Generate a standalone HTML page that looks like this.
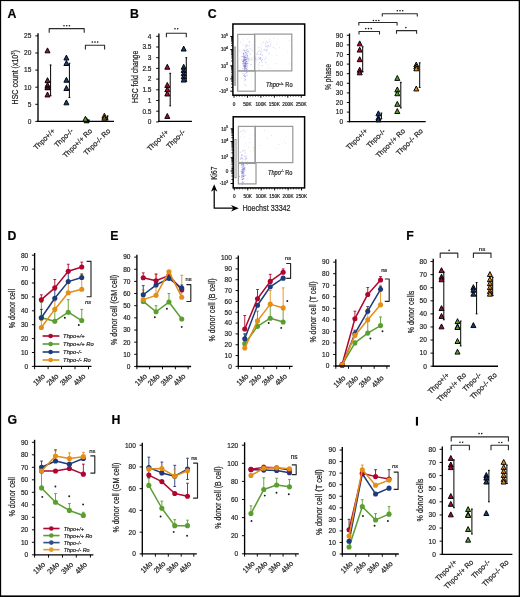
<!DOCTYPE html>
<html><head><meta charset="utf-8"><style>
html,body{margin:0;padding:0;background:#fff;}
svg{display:block;will-change:transform;}
text{font-family:"Liberation Sans",sans-serif;stroke:#1e1e1e;stroke-width:0.22px;}
</style></head><body>
<svg width="520" height="597" viewBox="0 0 520 597">
<rect width="520" height="597" fill="#fff"/>
<rect x="0" y="0" width="520" height="1.1" fill="#000"/>
<rect x="0" y="0" width="1.15" height="597" fill="#000"/>
<rect x="518.7" y="0" width="1.3" height="597" fill="#000"/>
<rect x="0" y="595.4" width="520" height="1.6" fill="#000"/>
<text x="7.4" y="17.7" font-size="12.3" text-anchor="start" fill="#000" font-weight="bold">A</text>
<line x1="38" y1="33.2" x2="38" y2="122.05" stroke="#000" stroke-width="1.35"/>
<line x1="35.3" y1="121.4" x2="38" y2="121.4" stroke="#000" stroke-width="0.95"/>
<text x="31.4" y="123.75" font-size="8" text-anchor="end" fill="#1e1e1e" textLength="3.65" lengthAdjust="spacingAndGlyphs" stroke-width="0.1">0</text>
<line x1="35.3" y1="104.3" x2="38" y2="104.3" stroke="#000" stroke-width="0.95"/>
<text x="31.4" y="106.65" font-size="8" text-anchor="end" fill="#1e1e1e" textLength="3.65" lengthAdjust="spacingAndGlyphs" stroke-width="0.1">5</text>
<line x1="35.3" y1="87.2" x2="38" y2="87.2" stroke="#000" stroke-width="0.95"/>
<text x="31.4" y="89.55" font-size="8" text-anchor="end" fill="#1e1e1e" textLength="7.29" lengthAdjust="spacingAndGlyphs" stroke-width="0.1">10</text>
<line x1="35.3" y1="70.1" x2="38" y2="70.1" stroke="#000" stroke-width="0.95"/>
<text x="31.4" y="72.45" font-size="8" text-anchor="end" fill="#1e1e1e" textLength="7.29" lengthAdjust="spacingAndGlyphs" stroke-width="0.1">15</text>
<line x1="35.3" y1="53" x2="38" y2="53" stroke="#000" stroke-width="0.95"/>
<text x="31.4" y="55.35" font-size="8" text-anchor="end" fill="#1e1e1e" textLength="7.29" lengthAdjust="spacingAndGlyphs" stroke-width="0.1">20</text>
<line x1="35.3" y1="35.9" x2="38" y2="35.9" stroke="#000" stroke-width="0.95"/>
<text x="31.4" y="38.25" font-size="8" text-anchor="end" fill="#1e1e1e" textLength="7.29" lengthAdjust="spacingAndGlyphs" stroke-width="0.1">25</text>
<line x1="37.35" y1="121.4" x2="114" y2="121.4" stroke="#000" stroke-width="1.35"/>
<text x="17.8" y="77.3" font-size="8.8" text-anchor="middle" fill="#1e1e1e" textLength="54.2" lengthAdjust="spacingAndGlyphs" transform="rotate(-90 17.8 77.3)">HSC count (x10<tspan font-size="5" dy="-2.8">3</tspan><tspan dy="2.8">)</tspan></text>
<polyline points="49.2,32.8 49.2,28.6 84.2,28.6 84.2,32.8" stroke="#2a2a2a" stroke-width="1.1" fill="none" stroke-linejoin="round"/>
<circle cx="64" cy="25.7" r="0.8" fill="#111"/>
<circle cx="66.7" cy="25.7" r="0.8" fill="#111"/>
<circle cx="69.4" cy="25.7" r="0.8" fill="#111"/>
<polyline points="85.4,49.6 85.4,45.3 104.6,45.3 104.6,49.6" stroke="#2a2a2a" stroke-width="1.1" fill="none" stroke-linejoin="round"/>
<circle cx="92.3" cy="42.1" r="0.8" fill="#111"/>
<circle cx="95" cy="42.1" r="0.8" fill="#111"/>
<circle cx="97.7" cy="42.1" r="0.8" fill="#111"/>
<line x1="50.6" y1="64.97" x2="50.6" y2="95.75" stroke="#000" stroke-width="1"/>
<line x1="49.7" y1="64.97" x2="51.5" y2="64.97" stroke="#000" stroke-width="1"/>
<line x1="49.7" y1="95.75" x2="51.5" y2="95.75" stroke="#000" stroke-width="1"/>
<line x1="69.4" y1="63.26" x2="69.4" y2="97.46" stroke="#000" stroke-width="1"/>
<line x1="68.5" y1="63.26" x2="70.3" y2="63.26" stroke="#000" stroke-width="1"/>
<line x1="68.5" y1="97.46" x2="70.3" y2="97.46" stroke="#000" stroke-width="1"/>
<polygon points="47.5,47.9 50,52.85 45,52.85" fill="#af0630" stroke="#000" stroke-width="0.95" stroke-linejoin="miter"/>
<polygon points="47.5,77.65 50,82.6 45,82.6" fill="#af0630" stroke="#000" stroke-width="0.95" stroke-linejoin="miter"/>
<polygon points="47.5,84.83 50,89.78 45,89.78" fill="#af0630" stroke="#000" stroke-width="0.95" stroke-linejoin="miter"/>
<polygon points="47.5,84.15 50,89.1 45,89.1" fill="#af0630" stroke="#000" stroke-width="0.95" stroke-linejoin="miter"/>
<polygon points="47.5,82.44 50,87.39 45,87.39" fill="#af0630" stroke="#000" stroke-width="0.95" stroke-linejoin="miter"/>
<polygon points="47.5,92.02 50,96.97 45,96.97" fill="#af0630" stroke="#000" stroke-width="0.95" stroke-linejoin="miter"/>
<rect x="45.2" y="85.6" width="5.4" height="2.6" fill="#111"/>
<polygon points="66.4,55.08 68.9,60.03 63.9,60.03" fill="#1d3b7b" stroke="#000" stroke-width="0.95" stroke-linejoin="miter"/>
<polygon points="66.4,60.55 68.9,65.5 63.9,65.5" fill="#1d3b7b" stroke="#000" stroke-width="0.95" stroke-linejoin="miter"/>
<polygon points="66.4,77.31 68.9,82.26 63.9,82.26" fill="#1d3b7b" stroke="#000" stroke-width="0.95" stroke-linejoin="miter"/>
<polygon points="66.4,85.52 68.9,90.47 63.9,90.47" fill="#1d3b7b" stroke="#000" stroke-width="0.95" stroke-linejoin="miter"/>
<polygon points="66.4,99.88 68.9,104.83 63.9,104.83" fill="#1d3b7b" stroke="#000" stroke-width="0.95" stroke-linejoin="miter"/>
<polygon points="86.6,117.84 89.1,122.79 84.1,122.79" fill="#222" stroke="#000" stroke-width="0.95" stroke-linejoin="miter"/>
<polygon points="85.4,116.3 87.9,121.25 82.9,121.25" fill="#5a9e2f" stroke="#000" stroke-width="0.95" stroke-linejoin="miter"/>
<circle cx="88.8" cy="120.37" r="1" fill="#000"/>
<line x1="107.6" y1="115.93" x2="107.6" y2="120.03" stroke="#000" stroke-width="1"/>
<line x1="106.7" y1="115.93" x2="108.5" y2="115.93" stroke="#000" stroke-width="1"/>
<line x1="106.7" y1="120.03" x2="108.5" y2="120.03" stroke="#000" stroke-width="1"/>
<polygon points="104.4,113.22 106.9,118.17 101.9,118.17" fill="#e38e17" stroke="#000" stroke-width="0.95" stroke-linejoin="miter"/>
<polygon points="104.4,115.27 106.9,120.22 101.9,120.22" fill="#8a5a10" stroke="#000" stroke-width="0.95" stroke-linejoin="miter"/>
<text x="55.4" y="131.4" font-size="7.2" text-anchor="end" fill="#1e1e1e" transform="rotate(-45 55.4 131.4)">Thpo+/+</text>
<text x="73.6" y="131.4" font-size="7.2" text-anchor="end" fill="#1e1e1e" transform="rotate(-45 73.6 131.4)">Thpo-/-</text>
<text x="92.6" y="131.4" font-size="7.2" text-anchor="end" fill="#1e1e1e" transform="rotate(-45 92.6 131.4)">Thpo+/+ Ro</text>
<text x="110.8" y="131.4" font-size="7.2" text-anchor="end" fill="#1e1e1e" transform="rotate(-45 110.8 131.4)">Thpo-/- Ro</text>
<text x="130" y="17.7" font-size="12.3" text-anchor="start" fill="#000" font-weight="bold">B</text>
<line x1="158.9" y1="33.5" x2="158.9" y2="122.05" stroke="#000" stroke-width="1.35"/>
<line x1="156.2" y1="121.9" x2="158.9" y2="121.9" stroke="#000" stroke-width="0.95"/>
<text x="151.5" y="124.25" font-size="8" text-anchor="end" fill="#1e1e1e" textLength="3.65" lengthAdjust="spacingAndGlyphs" stroke-width="0.1">0</text>
<line x1="156.2" y1="111.2" x2="158.9" y2="111.2" stroke="#000" stroke-width="0.95"/>
<text x="151.5" y="113.55" font-size="8" text-anchor="end" fill="#1e1e1e" textLength="9.12" lengthAdjust="spacingAndGlyphs" stroke-width="0.1">0.5</text>
<line x1="156.2" y1="100.5" x2="158.9" y2="100.5" stroke="#000" stroke-width="0.95"/>
<text x="151.5" y="102.85" font-size="8" text-anchor="end" fill="#1e1e1e" textLength="3.65" lengthAdjust="spacingAndGlyphs" stroke-width="0.1">1</text>
<line x1="156.2" y1="89.8" x2="158.9" y2="89.8" stroke="#000" stroke-width="0.95"/>
<text x="151.5" y="92.15" font-size="8" text-anchor="end" fill="#1e1e1e" textLength="9.12" lengthAdjust="spacingAndGlyphs" stroke-width="0.1">1.5</text>
<line x1="156.2" y1="79.1" x2="158.9" y2="79.1" stroke="#000" stroke-width="0.95"/>
<text x="151.5" y="81.45" font-size="8" text-anchor="end" fill="#1e1e1e" textLength="3.65" lengthAdjust="spacingAndGlyphs" stroke-width="0.1">2</text>
<line x1="156.2" y1="68.4" x2="158.9" y2="68.4" stroke="#000" stroke-width="0.95"/>
<text x="151.5" y="70.75" font-size="8" text-anchor="end" fill="#1e1e1e" textLength="9.12" lengthAdjust="spacingAndGlyphs" stroke-width="0.1">2.5</text>
<line x1="156.2" y1="57.7" x2="158.9" y2="57.7" stroke="#000" stroke-width="0.95"/>
<text x="151.5" y="60.05" font-size="8" text-anchor="end" fill="#1e1e1e" textLength="3.65" lengthAdjust="spacingAndGlyphs" stroke-width="0.1">3</text>
<line x1="156.2" y1="47" x2="158.9" y2="47" stroke="#000" stroke-width="0.95"/>
<text x="151.5" y="49.35" font-size="8" text-anchor="end" fill="#1e1e1e" textLength="9.12" lengthAdjust="spacingAndGlyphs" stroke-width="0.1">3.5</text>
<line x1="156.2" y1="36.3" x2="158.9" y2="36.3" stroke="#000" stroke-width="0.95"/>
<text x="151.5" y="38.65" font-size="8" text-anchor="end" fill="#1e1e1e" textLength="3.65" lengthAdjust="spacingAndGlyphs" stroke-width="0.1">4</text>
<line x1="158.25" y1="121.4" x2="191.9" y2="121.4" stroke="#000" stroke-width="1.35"/>
<text x="138.2" y="76.8" font-size="8.8" text-anchor="middle" fill="#1e1e1e" textLength="52.2" lengthAdjust="spacingAndGlyphs" transform="rotate(-90 138.2 76.8)">HSC fold change</text>
<polyline points="166.4,37.2 166.4,33.2 186.3,33.2 186.3,37.2" stroke="#2a2a2a" stroke-width="1.1" fill="none" stroke-linejoin="round"/>
<circle cx="175" cy="28.8" r="0.8" fill="#111"/>
<circle cx="177.7" cy="28.8" r="0.8" fill="#111"/>
<line x1="170.2" y1="73.32" x2="170.2" y2="105.85" stroke="#000" stroke-width="1"/>
<line x1="169.3" y1="73.32" x2="171.1" y2="73.32" stroke="#000" stroke-width="1"/>
<line x1="169.3" y1="105.85" x2="171.1" y2="105.85" stroke="#000" stroke-width="1"/>
<line x1="186.3" y1="57.7" x2="186.3" y2="81.24" stroke="#000" stroke-width="1"/>
<line x1="185.4" y1="57.7" x2="187.2" y2="57.7" stroke="#000" stroke-width="1"/>
<line x1="185.4" y1="81.24" x2="187.2" y2="81.24" stroke="#000" stroke-width="1"/>
<polygon points="167.3,64.28 169.8,69.23 164.8,69.23" fill="#af0630" stroke="#000" stroke-width="0.95" stroke-linejoin="miter"/>
<polygon points="167.3,82.47 169.8,87.42 164.8,87.42" fill="#af0630" stroke="#000" stroke-width="0.95" stroke-linejoin="miter"/>
<polygon points="167.3,86.75 169.8,91.7 164.8,91.7" fill="#af0630" stroke="#000" stroke-width="0.95" stroke-linejoin="miter"/>
<polygon points="167.3,91.03 169.8,95.98 164.8,95.98" fill="#af0630" stroke="#000" stroke-width="0.95" stroke-linejoin="miter"/>
<polygon points="167.3,113.5 169.8,118.45 164.8,118.45" fill="#af0630" stroke="#000" stroke-width="0.95" stroke-linejoin="miter"/>
<polygon points="183.7,46.09 186.2,51.04 181.2,51.04" fill="#1d3b7b" stroke="#000" stroke-width="0.95" stroke-linejoin="miter"/>
<polygon points="183.7,64.28 186.2,69.23 181.2,69.23" fill="#1d3b7b" stroke="#000" stroke-width="0.95" stroke-linejoin="miter"/>
<polygon points="183.7,67.49 186.2,72.44 181.2,72.44" fill="#1d3b7b" stroke="#000" stroke-width="0.95" stroke-linejoin="miter"/>
<polygon points="183.7,70.7 186.2,75.65 181.2,75.65" fill="#1d3b7b" stroke="#000" stroke-width="0.95" stroke-linejoin="miter"/>
<polygon points="183.7,73.91 186.2,78.86 181.2,78.86" fill="#1d3b7b" stroke="#000" stroke-width="0.95" stroke-linejoin="miter"/>
<polygon points="183.7,77.12 186.2,82.07 181.2,82.07" fill="#1d3b7b" stroke="#000" stroke-width="0.95" stroke-linejoin="miter"/>
<text x="168.9" y="132.5" font-size="7.2" text-anchor="end" fill="#1e1e1e" transform="rotate(-45 168.9 132.5)">Thpo+/+</text>
<text x="185.6" y="132.5" font-size="7.2" text-anchor="end" fill="#1e1e1e" transform="rotate(-45 185.6 132.5)">Thpo-/-</text>
<text x="207.8" y="17.9" font-size="12.3" text-anchor="start" fill="#000" font-weight="bold">C</text>
<rect x="244.93" y="68.5" width="0.8" height="0.8" fill="#6a6ad8" fill-opacity="0.5"/>
<rect x="243.24" y="57.57" width="0.8" height="0.8" fill="#6a6ad8" fill-opacity="0.34"/>
<rect x="247.46" y="62.82" width="0.8" height="0.8" fill="#6a6ad8" fill-opacity="0.44"/>
<rect x="245.25" y="79.06" width="0.8" height="0.8" fill="#6a6ad8" fill-opacity="0.56"/>
<rect x="245.62" y="56.94" width="0.8" height="0.8" fill="#6a6ad8" fill-opacity="0.65"/>
<rect x="245.96" y="67.99" width="0.8" height="0.8" fill="#6a6ad8" fill-opacity="0.78"/>
<rect x="242.52" y="60.76" width="0.8" height="0.8" fill="#6a6ad8" fill-opacity="0.67"/>
<rect x="246.97" y="65.43" width="0.8" height="0.8" fill="#6a6ad8" fill-opacity="0.63"/>
<rect x="244.69" y="63.24" width="0.8" height="0.8" fill="#6a6ad8" fill-opacity="0.78"/>
<rect x="242.6" y="63.41" width="0.8" height="0.8" fill="#6a6ad8" fill-opacity="0.78"/>
<rect x="244.09" y="50.58" width="0.8" height="0.8" fill="#6a6ad8" fill-opacity="0.52"/>
<rect x="245.28" y="56.65" width="0.8" height="0.8" fill="#6a6ad8" fill-opacity="0.81"/>
<rect x="245.26" y="60.38" width="0.8" height="0.8" fill="#6a6ad8" fill-opacity="0.37"/>
<rect x="245.55" y="75.2" width="0.8" height="0.8" fill="#6a6ad8" fill-opacity="0.54"/>
<rect x="243.97" y="58.86" width="0.8" height="0.8" fill="#6a6ad8" fill-opacity="0.58"/>
<rect x="243.82" y="65.18" width="0.8" height="0.8" fill="#6a6ad8" fill-opacity="0.62"/>
<rect x="242.18" y="56.31" width="0.8" height="0.8" fill="#6a6ad8" fill-opacity="0.68"/>
<rect x="247.29" y="57.58" width="0.8" height="0.8" fill="#6a6ad8" fill-opacity="0.85"/>
<rect x="244.4" y="59.27" width="0.8" height="0.8" fill="#6a6ad8" fill-opacity="0.77"/>
<rect x="247.76" y="59.52" width="0.8" height="0.8" fill="#6a6ad8" fill-opacity="0.61"/>
<rect x="244.58" y="58.51" width="0.8" height="0.8" fill="#6a6ad8" fill-opacity="0.76"/>
<rect x="243.77" y="60.1" width="0.8" height="0.8" fill="#6a6ad8" fill-opacity="0.33"/>
<rect x="247.38" y="49.49" width="0.8" height="0.8" fill="#6a6ad8" fill-opacity="0.35"/>
<rect x="245.25" y="56.92" width="0.8" height="0.8" fill="#6a6ad8" fill-opacity="0.38"/>
<rect x="244.15" y="70.56" width="0.8" height="0.8" fill="#6a6ad8" fill-opacity="0.78"/>
<rect x="246.66" y="63.97" width="0.8" height="0.8" fill="#6a6ad8" fill-opacity="0.32"/>
<rect x="244.55" y="57.43" width="0.8" height="0.8" fill="#6a6ad8" fill-opacity="0.78"/>
<rect x="246.45" y="61.25" width="0.8" height="0.8" fill="#6a6ad8" fill-opacity="0.85"/>
<rect x="244.59" y="63.94" width="0.8" height="0.8" fill="#6a6ad8" fill-opacity="0.63"/>
<rect x="245.71" y="62.68" width="0.8" height="0.8" fill="#6a6ad8" fill-opacity="0.52"/>
<rect x="244.17" y="60.06" width="0.8" height="0.8" fill="#6a6ad8" fill-opacity="0.32"/>
<rect x="245.62" y="58.67" width="0.8" height="0.8" fill="#6a6ad8" fill-opacity="0.83"/>
<rect x="245.89" y="58.94" width="0.8" height="0.8" fill="#6a6ad8" fill-opacity="0.55"/>
<rect x="242.8" y="61.06" width="0.8" height="0.8" fill="#6a6ad8" fill-opacity="0.63"/>
<rect x="242.99" y="59.37" width="0.8" height="0.8" fill="#6a6ad8" fill-opacity="0.82"/>
<rect x="243.31" y="61.76" width="0.8" height="0.8" fill="#6a6ad8" fill-opacity="0.7"/>
<rect x="244.89" y="66.39" width="0.8" height="0.8" fill="#6a6ad8" fill-opacity="0.84"/>
<rect x="243.05" y="61.13" width="0.8" height="0.8" fill="#6a6ad8" fill-opacity="0.31"/>
<rect x="243.21" y="65.48" width="0.8" height="0.8" fill="#6a6ad8" fill-opacity="0.31"/>
<rect x="243.32" y="57.11" width="0.8" height="0.8" fill="#6a6ad8" fill-opacity="0.33"/>
<rect x="243.71" y="57.82" width="0.8" height="0.8" fill="#6a6ad8" fill-opacity="0.67"/>
<rect x="243.48" y="68.51" width="0.8" height="0.8" fill="#6a6ad8" fill-opacity="0.71"/>
<rect x="245.29" y="62.26" width="0.8" height="0.8" fill="#6a6ad8" fill-opacity="0.67"/>
<rect x="245.84" y="61.1" width="0.8" height="0.8" fill="#6a6ad8" fill-opacity="0.55"/>
<rect x="243.77" y="59.49" width="0.8" height="0.8" fill="#6a6ad8" fill-opacity="0.5"/>
<rect x="244.28" y="66.61" width="0.8" height="0.8" fill="#6a6ad8" fill-opacity="0.63"/>
<rect x="244.38" y="66.81" width="0.8" height="0.8" fill="#6a6ad8" fill-opacity="0.72"/>
<rect x="246.59" y="63.14" width="0.8" height="0.8" fill="#6a6ad8" fill-opacity="0.7"/>
<rect x="244.43" y="65.43" width="0.8" height="0.8" fill="#6a6ad8" fill-opacity="0.74"/>
<rect x="244.86" y="65.34" width="0.8" height="0.8" fill="#6a6ad8" fill-opacity="0.54"/>
<rect x="244.59" y="59.72" width="0.8" height="0.8" fill="#6a6ad8" fill-opacity="0.48"/>
<rect x="243.47" y="70.51" width="0.8" height="0.8" fill="#6a6ad8" fill-opacity="0.54"/>
<rect x="245.32" y="59.5" width="0.8" height="0.8" fill="#6a6ad8" fill-opacity="0.49"/>
<rect x="243.09" y="53.24" width="0.8" height="0.8" fill="#6a6ad8" fill-opacity="0.55"/>
<rect x="244.91" y="64.61" width="0.8" height="0.8" fill="#6a6ad8" fill-opacity="0.59"/>
<rect x="245.72" y="70.78" width="0.8" height="0.8" fill="#6a6ad8" fill-opacity="0.76"/>
<rect x="245.26" y="65.84" width="0.8" height="0.8" fill="#6a6ad8" fill-opacity="0.74"/>
<rect x="243.21" y="54.67" width="0.8" height="0.8" fill="#6a6ad8" fill-opacity="0.49"/>
<rect x="245.6" y="65.14" width="0.8" height="0.8" fill="#6a6ad8" fill-opacity="0.74"/>
<rect x="244.63" y="66.75" width="0.8" height="0.8" fill="#6a6ad8" fill-opacity="0.53"/>
<rect x="243.54" y="64.58" width="0.8" height="0.8" fill="#6a6ad8" fill-opacity="0.81"/>
<rect x="244.88" y="62.42" width="0.8" height="0.8" fill="#6a6ad8" fill-opacity="0.82"/>
<rect x="247.81" y="51.52" width="0.8" height="0.8" fill="#6a6ad8" fill-opacity="0.54"/>
<rect x="247.85" y="58.33" width="0.8" height="0.8" fill="#6a6ad8" fill-opacity="0.42"/>
<rect x="244.73" y="52.1" width="0.8" height="0.8" fill="#6a6ad8" fill-opacity="0.66"/>
<rect x="243.65" y="61.49" width="0.8" height="0.8" fill="#6a6ad8" fill-opacity="0.49"/>
<rect x="244.87" y="63.93" width="0.8" height="0.8" fill="#6a6ad8" fill-opacity="0.62"/>
<rect x="244.21" y="71.22" width="0.8" height="0.8" fill="#6a6ad8" fill-opacity="0.32"/>
<rect x="246.57" y="57.45" width="0.8" height="0.8" fill="#6a6ad8" fill-opacity="0.81"/>
<rect x="247.19" y="55.25" width="0.8" height="0.8" fill="#6a6ad8" fill-opacity="0.62"/>
<rect x="247.11" y="62.71" width="0.8" height="0.8" fill="#6a6ad8" fill-opacity="0.39"/>
<rect x="244.16" y="69.29" width="0.8" height="0.8" fill="#6a6ad8" fill-opacity="0.59"/>
<rect x="241.96" y="68.34" width="0.8" height="0.8" fill="#6a6ad8" fill-opacity="0.64"/>
<rect x="244.22" y="65.33" width="0.8" height="0.8" fill="#6a6ad8" fill-opacity="0.77"/>
<rect x="242.38" y="63.3" width="0.8" height="0.8" fill="#6a6ad8" fill-opacity="0.49"/>
<rect x="245.36" y="68.08" width="0.8" height="0.8" fill="#6a6ad8" fill-opacity="0.75"/>
<rect x="245.98" y="70.11" width="0.8" height="0.8" fill="#6a6ad8" fill-opacity="0.81"/>
<rect x="245.7" y="52.91" width="0.8" height="0.8" fill="#6a6ad8" fill-opacity="0.3"/>
<rect x="242.87" y="54.51" width="0.8" height="0.8" fill="#6a6ad8" fill-opacity="0.33"/>
<rect x="244.65" y="66.08" width="0.8" height="0.8" fill="#6a6ad8" fill-opacity="0.59"/>
<rect x="243.4" y="64.74" width="0.8" height="0.8" fill="#6a6ad8" fill-opacity="0.73"/>
<rect x="245.27" y="62.02" width="0.8" height="0.8" fill="#6a6ad8" fill-opacity="0.37"/>
<rect x="245.17" y="63.38" width="0.8" height="0.8" fill="#6a6ad8" fill-opacity="0.84"/>
<rect x="245.16" y="60.25" width="0.8" height="0.8" fill="#6a6ad8" fill-opacity="0.58"/>
<rect x="244.31" y="66.14" width="0.8" height="0.8" fill="#6a6ad8" fill-opacity="0.49"/>
<rect x="243.68" y="56.49" width="0.8" height="0.8" fill="#6a6ad8" fill-opacity="0.5"/>
<rect x="245.25" y="66.33" width="0.8" height="0.8" fill="#6a6ad8" fill-opacity="0.37"/>
<rect x="242.71" y="59.18" width="0.8" height="0.8" fill="#6a6ad8" fill-opacity="0.51"/>
<rect x="245.57" y="63.57" width="0.8" height="0.8" fill="#6a6ad8" fill-opacity="0.51"/>
<rect x="242.86" y="56.46" width="0.8" height="0.8" fill="#6a6ad8" fill-opacity="0.51"/>
<rect x="245.42" y="55.11" width="0.8" height="0.8" fill="#6a6ad8" fill-opacity="0.54"/>
<rect x="243.66" y="66.37" width="0.8" height="0.8" fill="#6a6ad8" fill-opacity="0.69"/>
<rect x="242.91" y="65.83" width="0.8" height="0.8" fill="#6a6ad8" fill-opacity="0.55"/>
<rect x="244.85" y="68.44" width="0.8" height="0.8" fill="#6a6ad8" fill-opacity="0.68"/>
<rect x="246.13" y="64.38" width="0.8" height="0.8" fill="#6a6ad8" fill-opacity="0.53"/>
<rect x="247.19" y="53.62" width="0.8" height="0.8" fill="#6a6ad8" fill-opacity="0.51"/>
<rect x="246.78" y="56.49" width="0.8" height="0.8" fill="#6a6ad8" fill-opacity="0.44"/>
<rect x="244.1" y="62.6" width="0.8" height="0.8" fill="#6a6ad8" fill-opacity="0.75"/>
<rect x="243.27" y="52.74" width="0.8" height="0.8" fill="#6a6ad8" fill-opacity="0.74"/>
<rect x="243.67" y="54.65" width="0.8" height="0.8" fill="#6a6ad8" fill-opacity="0.61"/>
<rect x="246.29" y="66.18" width="0.8" height="0.8" fill="#6a6ad8" fill-opacity="0.3"/>
<rect x="246.3" y="69.04" width="0.8" height="0.8" fill="#6a6ad8" fill-opacity="0.32"/>
<rect x="245.34" y="63.3" width="0.8" height="0.8" fill="#6a6ad8" fill-opacity="0.78"/>
<rect x="244.93" y="63.02" width="0.8" height="0.8" fill="#6a6ad8" fill-opacity="0.76"/>
<rect x="246.75" y="68.92" width="0.8" height="0.8" fill="#6a6ad8" fill-opacity="0.67"/>
<rect x="246.58" y="51" width="0.8" height="0.8" fill="#6a6ad8" fill-opacity="0.62"/>
<rect x="244.91" y="60.65" width="0.8" height="0.8" fill="#6a6ad8" fill-opacity="0.72"/>
<rect x="242.59" y="61.41" width="0.8" height="0.8" fill="#6a6ad8" fill-opacity="0.36"/>
<rect x="244.78" y="49.86" width="0.8" height="0.8" fill="#6a6ad8" fill-opacity="0.33"/>
<rect x="243.99" y="67.98" width="0.8" height="0.8" fill="#6a6ad8" fill-opacity="0.76"/>
<rect x="244.84" y="65.27" width="0.8" height="0.8" fill="#6a6ad8" fill-opacity="0.44"/>
<rect x="243.05" y="56.2" width="0.8" height="0.8" fill="#6a6ad8" fill-opacity="0.52"/>
<rect x="243.85" y="65.87" width="0.8" height="0.8" fill="#6a6ad8" fill-opacity="0.49"/>
<rect x="244.29" y="63.07" width="0.8" height="0.8" fill="#6a6ad8" fill-opacity="0.58"/>
<rect x="246.22" y="61.1" width="0.8" height="0.8" fill="#6a6ad8" fill-opacity="0.71"/>
<rect x="245.94" y="68.74" width="0.8" height="0.8" fill="#6a6ad8" fill-opacity="0.72"/>
<rect x="244.02" y="56.43" width="0.8" height="0.8" fill="#6a6ad8" fill-opacity="0.57"/>
<rect x="242.94" y="53.32" width="0.8" height="0.8" fill="#6a6ad8" fill-opacity="0.38"/>
<rect x="246.72" y="66.89" width="0.8" height="0.8" fill="#6a6ad8" fill-opacity="0.8"/>
<rect x="243.29" y="61.39" width="0.8" height="0.8" fill="#6a6ad8" fill-opacity="0.7"/>
<rect x="245.23" y="65.78" width="0.8" height="0.8" fill="#6a6ad8" fill-opacity="0.41"/>
<rect x="243.75" y="59.68" width="0.8" height="0.8" fill="#6a6ad8" fill-opacity="0.43"/>
<rect x="243.55" y="49.99" width="0.8" height="0.8" fill="#6a6ad8" fill-opacity="0.46"/>
<rect x="244.4" y="56.84" width="0.8" height="0.8" fill="#6a6ad8" fill-opacity="0.77"/>
<rect x="243.85" y="59.92" width="0.8" height="0.8" fill="#6a6ad8" fill-opacity="0.42"/>
<rect x="246.38" y="62.86" width="0.8" height="0.8" fill="#6a6ad8" fill-opacity="0.51"/>
<rect x="245.42" y="66.34" width="0.8" height="0.8" fill="#6a6ad8" fill-opacity="0.48"/>
<rect x="244.92" y="59.14" width="0.8" height="0.8" fill="#6a6ad8" fill-opacity="0.85"/>
<rect x="242.92" y="62.9" width="0.8" height="0.8" fill="#6a6ad8" fill-opacity="0.56"/>
<rect x="246.12" y="53.68" width="0.8" height="0.8" fill="#6a6ad8" fill-opacity="0.61"/>
<rect x="241.11" y="56.22" width="0.8" height="0.8" fill="#6a6ad8" fill-opacity="0.45"/>
<rect x="242.02" y="61.2" width="0.8" height="0.8" fill="#6a6ad8" fill-opacity="0.48"/>
<rect x="244.1" y="55.96" width="0.8" height="0.8" fill="#6a6ad8" fill-opacity="0.21"/>
<rect x="245.47" y="45.45" width="0.8" height="0.8" fill="#6a6ad8" fill-opacity="0.48"/>
<rect x="248.04" y="51.16" width="0.8" height="0.8" fill="#6a6ad8" fill-opacity="0.19"/>
<rect x="246.38" y="59.18" width="0.8" height="0.8" fill="#6a6ad8" fill-opacity="0.39"/>
<rect x="251.1" y="44.18" width="0.8" height="0.8" fill="#6a6ad8" fill-opacity="0.22"/>
<rect x="248.45" y="50.77" width="0.8" height="0.8" fill="#6a6ad8" fill-opacity="0.28"/>
<rect x="246.31" y="52.27" width="0.8" height="0.8" fill="#6a6ad8" fill-opacity="0.16"/>
<rect x="247.92" y="50.33" width="0.8" height="0.8" fill="#6a6ad8" fill-opacity="0.26"/>
<rect x="242.03" y="50.29" width="0.8" height="0.8" fill="#6a6ad8" fill-opacity="0.12"/>
<rect x="244.65" y="60.99" width="0.8" height="0.8" fill="#6a6ad8" fill-opacity="0.3"/>
<rect x="247.62" y="63.35" width="0.8" height="0.8" fill="#6a6ad8" fill-opacity="0.48"/>
<rect x="243.2" y="60.16" width="0.8" height="0.8" fill="#6a6ad8" fill-opacity="0.17"/>
<rect x="245.72" y="64.5" width="0.8" height="0.8" fill="#6a6ad8" fill-opacity="0.16"/>
<rect x="252.15" y="45.74" width="0.8" height="0.8" fill="#6a6ad8" fill-opacity="0.16"/>
<rect x="249.57" y="52.73" width="0.8" height="0.8" fill="#6a6ad8" fill-opacity="0.41"/>
<rect x="246.63" y="49.57" width="0.8" height="0.8" fill="#6a6ad8" fill-opacity="0.38"/>
<rect x="243.01" y="45.3" width="0.8" height="0.8" fill="#6a6ad8" fill-opacity="0.22"/>
<rect x="246.73" y="38.43" width="0.8" height="0.8" fill="#6a6ad8" fill-opacity="0.38"/>
<rect x="244.88" y="54.28" width="0.8" height="0.8" fill="#6a6ad8" fill-opacity="0.31"/>
<rect x="243.26" y="63.29" width="0.8" height="0.8" fill="#6a6ad8" fill-opacity="0.38"/>
<rect x="244.53" y="53.33" width="0.8" height="0.8" fill="#6a6ad8" fill-opacity="0.37"/>
<rect x="245.05" y="52.01" width="0.8" height="0.8" fill="#6a6ad8" fill-opacity="0.46"/>
<rect x="245.52" y="52.24" width="0.8" height="0.8" fill="#6a6ad8" fill-opacity="0.47"/>
<rect x="248.42" y="59.53" width="0.8" height="0.8" fill="#6a6ad8" fill-opacity="0.39"/>
<rect x="242.96" y="50.25" width="0.8" height="0.8" fill="#6a6ad8" fill-opacity="0.37"/>
<rect x="243.66" y="56.48" width="0.8" height="0.8" fill="#6a6ad8" fill-opacity="0.19"/>
<rect x="251.4" y="59.31" width="0.8" height="0.8" fill="#6a6ad8" fill-opacity="0.41"/>
<rect x="241.13" y="52.15" width="0.8" height="0.8" fill="#6a6ad8" fill-opacity="0.26"/>
<rect x="246.17" y="61.36" width="0.8" height="0.8" fill="#6a6ad8" fill-opacity="0.45"/>
<rect x="250.39" y="57.02" width="0.8" height="0.8" fill="#6a6ad8" fill-opacity="0.21"/>
<rect x="246.88" y="48.97" width="0.8" height="0.8" fill="#6a6ad8" fill-opacity="0.25"/>
<rect x="243.01" y="59.63" width="0.8" height="0.8" fill="#6a6ad8" fill-opacity="0.41"/>
<rect x="242.53" y="65.05" width="0.8" height="0.8" fill="#6a6ad8" fill-opacity="0.16"/>
<rect x="246.3" y="57.95" width="0.8" height="0.8" fill="#6a6ad8" fill-opacity="0.16"/>
<rect x="247.49" y="44.69" width="0.8" height="0.8" fill="#6a6ad8" fill-opacity="0.19"/>
<rect x="247.82" y="61.26" width="0.8" height="0.8" fill="#6a6ad8" fill-opacity="0.4"/>
<rect x="248.77" y="45.11" width="0.8" height="0.8" fill="#6a6ad8" fill-opacity="0.34"/>
<rect x="248.58" y="60.21" width="0.8" height="0.8" fill="#6a6ad8" fill-opacity="0.19"/>
<rect x="242.16" y="53.55" width="0.8" height="0.8" fill="#6a6ad8" fill-opacity="0.2"/>
<rect x="246.49" y="66.34" width="0.8" height="0.8" fill="#6a6ad8" fill-opacity="0.13"/>
<rect x="248.85" y="42.07" width="0.8" height="0.8" fill="#6a6ad8" fill-opacity="0.48"/>
<rect x="243.3" y="60.52" width="0.8" height="0.8" fill="#6a6ad8" fill-opacity="0.34"/>
<rect x="240.27" y="41.71" width="0.8" height="0.8" fill="#6a6ad8" fill-opacity="0.38"/>
<rect x="244.44" y="67.27" width="0.8" height="0.8" fill="#6a6ad8" fill-opacity="0.3"/>
<rect x="242.1" y="48.77" width="0.8" height="0.8" fill="#6a6ad8" fill-opacity="0.12"/>
<rect x="247.14" y="45.51" width="0.8" height="0.8" fill="#6a6ad8" fill-opacity="0.31"/>
<rect x="242.76" y="53.93" width="0.8" height="0.8" fill="#6a6ad8" fill-opacity="0.19"/>
<rect x="245.58" y="54.67" width="0.8" height="0.8" fill="#6a6ad8" fill-opacity="0.31"/>
<rect x="244.26" y="49.41" width="0.8" height="0.8" fill="#6a6ad8" fill-opacity="0.34"/>
<rect x="253.44" y="51.51" width="0.8" height="0.8" fill="#6a6ad8" fill-opacity="0.17"/>
<rect x="247.75" y="46.24" width="0.8" height="0.8" fill="#6a6ad8" fill-opacity="0.14"/>
<rect x="244.92" y="58.65" width="0.8" height="0.8" fill="#6a6ad8" fill-opacity="0.15"/>
<rect x="238.9" y="51.38" width="0.8" height="0.8" fill="#6a6ad8" fill-opacity="0.24"/>
<rect x="250.1" y="47.72" width="0.8" height="0.8" fill="#6a6ad8" fill-opacity="0.17"/>
<rect x="249.4" y="48.15" width="0.8" height="0.8" fill="#6a6ad8" fill-opacity="0.47"/>
<rect x="245.32" y="44.58" width="0.8" height="0.8" fill="#6a6ad8" fill-opacity="0.25"/>
<rect x="249.25" y="40.88" width="0.8" height="0.8" fill="#6a6ad8" fill-opacity="0.45"/>
<rect x="241.22" y="59.21" width="0.8" height="0.8" fill="#6a6ad8" fill-opacity="0.3"/>
<rect x="247.28" y="56.22" width="0.8" height="0.8" fill="#6a6ad8" fill-opacity="0.15"/>
<rect x="247.12" y="58.66" width="0.8" height="0.8" fill="#6a6ad8" fill-opacity="0.31"/>
<rect x="245.18" y="47.34" width="0.8" height="0.8" fill="#6a6ad8" fill-opacity="0.28"/>
<rect x="244.79" y="50.53" width="0.8" height="0.8" fill="#6a6ad8" fill-opacity="0.3"/>
<rect x="246.65" y="48.42" width="0.8" height="0.8" fill="#6a6ad8" fill-opacity="0.19"/>
<rect x="250.88" y="48.88" width="0.8" height="0.8" fill="#6a6ad8" fill-opacity="0.26"/>
<rect x="243.62" y="60.78" width="0.8" height="0.8" fill="#6a6ad8" fill-opacity="0.35"/>
<rect x="246.54" y="55.47" width="0.8" height="0.8" fill="#6a6ad8" fill-opacity="0.2"/>
<rect x="246.89" y="51.46" width="0.8" height="0.8" fill="#6a6ad8" fill-opacity="0.29"/>
<rect x="247.29" y="59.19" width="0.8" height="0.8" fill="#6a6ad8" fill-opacity="0.18"/>
<rect x="244.8" y="57.24" width="0.8" height="0.8" fill="#6a6ad8" fill-opacity="0.13"/>
<rect x="248.09" y="57.52" width="0.8" height="0.8" fill="#6a6ad8" fill-opacity="0.31"/>
<rect x="247.17" y="55.51" width="0.8" height="0.8" fill="#6a6ad8" fill-opacity="0.29"/>
<rect x="242.06" y="60.55" width="0.8" height="0.8" fill="#6a6ad8" fill-opacity="0.14"/>
<rect x="243.69" y="58.73" width="0.8" height="0.8" fill="#6a6ad8" fill-opacity="0.13"/>
<rect x="248.83" y="54.02" width="0.8" height="0.8" fill="#6a6ad8" fill-opacity="0.16"/>
<rect x="244.49" y="55.62" width="0.8" height="0.8" fill="#6a6ad8" fill-opacity="0.36"/>
<rect x="245.5" y="57.75" width="0.8" height="0.8" fill="#6a6ad8" fill-opacity="0.14"/>
<rect x="246.12" y="49.84" width="0.8" height="0.8" fill="#6a6ad8" fill-opacity="0.42"/>
<rect x="238.78" y="58.26" width="0.8" height="0.8" fill="#6a6ad8" fill-opacity="0.23"/>
<rect x="246.5" y="60.11" width="0.8" height="0.8" fill="#6a6ad8" fill-opacity="0.43"/>
<rect x="244.35" y="50.67" width="0.8" height="0.8" fill="#6a6ad8" fill-opacity="0.16"/>
<rect x="242.8" y="39.37" width="0.8" height="0.8" fill="#6a6ad8" fill-opacity="0.35"/>
<rect x="247.34" y="55.04" width="0.8" height="0.8" fill="#6a6ad8" fill-opacity="0.15"/>
<rect x="246.95" y="56.56" width="0.8" height="0.8" fill="#6a6ad8" fill-opacity="0.14"/>
<rect x="242.37" y="43.49" width="0.8" height="0.8" fill="#6a6ad8" fill-opacity="0.2"/>
<rect x="250.32" y="53.79" width="0.8" height="0.8" fill="#6a6ad8" fill-opacity="0.43"/>
<rect x="253.5" y="47.35" width="0.8" height="0.8" fill="#6a6ad8" fill-opacity="0.13"/>
<rect x="244.93" y="63.36" width="0.8" height="0.8" fill="#6a6ad8" fill-opacity="0.48"/>
<rect x="248.91" y="57.84" width="0.8" height="0.8" fill="#6a6ad8" fill-opacity="0.44"/>
<rect x="249.04" y="59.26" width="0.8" height="0.8" fill="#6a6ad8" fill-opacity="0.25"/>
<rect x="243.18" y="41.49" width="0.8" height="0.8" fill="#6a6ad8" fill-opacity="0.19"/>
<rect x="246.15" y="44.44" width="0.8" height="0.8" fill="#6a6ad8" fill-opacity="0.44"/>
<rect x="239.22" y="50.15" width="0.8" height="0.8" fill="#6a6ad8" fill-opacity="0.26"/>
<rect x="244.39" y="57.4" width="0.8" height="0.8" fill="#6a6ad8" fill-opacity="0.42"/>
<rect x="243.83" y="55.63" width="0.8" height="0.8" fill="#6a6ad8" fill-opacity="0.18"/>
<rect x="245.65" y="46.28" width="0.8" height="0.8" fill="#6a6ad8" fill-opacity="0.39"/>
<rect x="243.52" y="59.9" width="0.8" height="0.8" fill="#6a6ad8" fill-opacity="0.18"/>
<rect x="246.32" y="53.64" width="0.8" height="0.8" fill="#6a6ad8" fill-opacity="0.3"/>
<rect x="246.77" y="45.24" width="0.8" height="0.8" fill="#6a6ad8" fill-opacity="0.16"/>
<rect x="260.55" y="53.96" width="0.8" height="0.8" fill="#6a6ad8" fill-opacity="0.45"/>
<rect x="258.58" y="46.93" width="0.8" height="0.8" fill="#6a6ad8" fill-opacity="0.4"/>
<rect x="258.1" y="56.95" width="0.8" height="0.8" fill="#6a6ad8" fill-opacity="0.27"/>
<rect x="269.95" y="45.63" width="0.8" height="0.8" fill="#6a6ad8" fill-opacity="0.16"/>
<rect x="254.48" y="59.27" width="0.8" height="0.8" fill="#6a6ad8" fill-opacity="0.14"/>
<rect x="254.06" y="56.24" width="0.8" height="0.8" fill="#6a6ad8" fill-opacity="0.12"/>
<rect x="260.11" y="57.68" width="0.8" height="0.8" fill="#6a6ad8" fill-opacity="0.33"/>
<rect x="260.94" y="49.65" width="0.8" height="0.8" fill="#6a6ad8" fill-opacity="0.42"/>
<rect x="262.23" y="53.73" width="0.8" height="0.8" fill="#6a6ad8" fill-opacity="0.15"/>
<rect x="265.48" y="46.15" width="0.8" height="0.8" fill="#6a6ad8" fill-opacity="0.49"/>
<rect x="258.52" y="57.92" width="0.8" height="0.8" fill="#6a6ad8" fill-opacity="0.3"/>
<rect x="259.92" y="54.2" width="0.8" height="0.8" fill="#6a6ad8" fill-opacity="0.36"/>
<rect x="266.31" y="44.75" width="0.8" height="0.8" fill="#6a6ad8" fill-opacity="0.35"/>
<rect x="265.3" y="57.79" width="0.8" height="0.8" fill="#6a6ad8" fill-opacity="0.35"/>
<rect x="265.93" y="49.96" width="0.8" height="0.8" fill="#6a6ad8" fill-opacity="0.3"/>
<rect x="266.51" y="49.17" width="0.8" height="0.8" fill="#6a6ad8" fill-opacity="0.3"/>
<rect x="250.62" y="59.7" width="0.8" height="0.8" fill="#6a6ad8" fill-opacity="0.28"/>
<rect x="260.92" y="47.93" width="0.8" height="0.8" fill="#6a6ad8" fill-opacity="0.25"/>
<rect x="265.11" y="45.19" width="0.8" height="0.8" fill="#6a6ad8" fill-opacity="0.15"/>
<rect x="261.6" y="65.2" width="0.8" height="0.8" fill="#6a6ad8" fill-opacity="0.4"/>
<rect x="270.16" y="44.24" width="0.8" height="0.8" fill="#6a6ad8" fill-opacity="0.47"/>
<rect x="254.21" y="55.79" width="0.8" height="0.8" fill="#6a6ad8" fill-opacity="0.46"/>
<rect x="260.57" y="43.64" width="0.8" height="0.8" fill="#6a6ad8" fill-opacity="0.27"/>
<rect x="269.45" y="40.7" width="0.8" height="0.8" fill="#6a6ad8" fill-opacity="0.47"/>
<rect x="261.7" y="62.21" width="0.8" height="0.8" fill="#6a6ad8" fill-opacity="0.23"/>
<rect x="260.61" y="51.34" width="0.8" height="0.8" fill="#6a6ad8" fill-opacity="0.4"/>
<rect x="255.46" y="58.49" width="0.8" height="0.8" fill="#6a6ad8" fill-opacity="0.4"/>
<rect x="263.59" y="48.86" width="0.8" height="0.8" fill="#6a6ad8" fill-opacity="0.23"/>
<rect x="261.67" y="55.29" width="0.8" height="0.8" fill="#6a6ad8" fill-opacity="0.41"/>
<rect x="272.79" y="46.89" width="0.8" height="0.8" fill="#6a6ad8" fill-opacity="0.45"/>
<rect x="261.03" y="57.67" width="0.8" height="0.8" fill="#6a6ad8" fill-opacity="0.3"/>
<rect x="258.21" y="51.12" width="0.8" height="0.8" fill="#6a6ad8" fill-opacity="0.44"/>
<rect x="251.51" y="58.64" width="0.8" height="0.8" fill="#6a6ad8" fill-opacity="0.43"/>
<rect x="258.86" y="62.91" width="0.8" height="0.8" fill="#6a6ad8" fill-opacity="0.12"/>
<rect x="252.44" y="59.43" width="0.8" height="0.8" fill="#6a6ad8" fill-opacity="0.18"/>
<rect x="257.27" y="67.53" width="0.8" height="0.8" fill="#6a6ad8" fill-opacity="0.3"/>
<rect x="268.85" y="33.21" width="0.8" height="0.8" fill="#6a6ad8" fill-opacity="0.13"/>
<rect x="260.83" y="59.41" width="0.8" height="0.8" fill="#6a6ad8" fill-opacity="0.25"/>
<rect x="254.17" y="61.49" width="0.8" height="0.8" fill="#6a6ad8" fill-opacity="0.24"/>
<rect x="259.11" y="54.46" width="0.8" height="0.8" fill="#6a6ad8" fill-opacity="0.22"/>
<rect x="251.21" y="64.12" width="0.8" height="0.8" fill="#6a6ad8" fill-opacity="0.38"/>
<rect x="266.87" y="41.44" width="0.8" height="0.8" fill="#6a6ad8" fill-opacity="0.17"/>
<rect x="265.1" y="43.15" width="0.8" height="0.8" fill="#6a6ad8" fill-opacity="0.44"/>
<rect x="261.24" y="53.44" width="0.8" height="0.8" fill="#6a6ad8" fill-opacity="0.13"/>
<rect x="268.62" y="45.03" width="0.8" height="0.8" fill="#6a6ad8" fill-opacity="0.3"/>
<rect x="268.61" y="46.32" width="0.8" height="0.8" fill="#6a6ad8" fill-opacity="0.35"/>
<rect x="257.91" y="54.06" width="0.8" height="0.8" fill="#6a6ad8" fill-opacity="0.19"/>
<rect x="267.48" y="48.43" width="0.8" height="0.8" fill="#6a6ad8" fill-opacity="0.28"/>
<rect x="253.34" y="57.32" width="0.8" height="0.8" fill="#6a6ad8" fill-opacity="0.29"/>
<rect x="268.17" y="45.3" width="0.8" height="0.8" fill="#6a6ad8" fill-opacity="0.32"/>
<rect x="263.72" y="49.22" width="0.8" height="0.8" fill="#6a6ad8" fill-opacity="0.47"/>
<rect x="266.71" y="50.99" width="0.8" height="0.8" fill="#6a6ad8" fill-opacity="0.33"/>
<rect x="259.85" y="58.01" width="0.8" height="0.8" fill="#6a6ad8" fill-opacity="0.47"/>
<rect x="254.63" y="57.99" width="0.8" height="0.8" fill="#6a6ad8" fill-opacity="0.32"/>
<rect x="270.48" y="42.99" width="0.8" height="0.8" fill="#6a6ad8" fill-opacity="0.19"/>
<rect x="267.45" y="46.7" width="0.8" height="0.8" fill="#6a6ad8" fill-opacity="0.43"/>
<rect x="257.71" y="64.61" width="0.8" height="0.8" fill="#6a6ad8" fill-opacity="0.48"/>
<rect x="256.65" y="58.06" width="0.8" height="0.8" fill="#6a6ad8" fill-opacity="0.17"/>
<rect x="259.37" y="57.57" width="0.8" height="0.8" fill="#6a6ad8" fill-opacity="0.21"/>
<rect x="261.05" y="60.79" width="0.8" height="0.8" fill="#6a6ad8" fill-opacity="0.4"/>
<rect x="260.8" y="40.79" width="0.8" height="0.8" fill="#6a6ad8" fill-opacity="0.12"/>
<rect x="259.64" y="56.76" width="0.8" height="0.8" fill="#6a6ad8" fill-opacity="0.22"/>
<rect x="260.32" y="57.11" width="0.8" height="0.8" fill="#6a6ad8" fill-opacity="0.14"/>
<rect x="259.66" y="57.55" width="0.8" height="0.8" fill="#6a6ad8" fill-opacity="0.46"/>
<rect x="262.22" y="59.03" width="0.8" height="0.8" fill="#6a6ad8" fill-opacity="0.37"/>
<rect x="262.11" y="61.94" width="0.8" height="0.8" fill="#6a6ad8" fill-opacity="0.19"/>
<rect x="260.33" y="52.8" width="0.8" height="0.8" fill="#6a6ad8" fill-opacity="0.14"/>
<rect x="263.27" y="42.1" width="0.8" height="0.8" fill="#6a6ad8" fill-opacity="0.16"/>
<rect x="262.43" y="54.6" width="0.8" height="0.8" fill="#6a6ad8" fill-opacity="0.17"/>
<rect x="258.96" y="62.22" width="0.8" height="0.8" fill="#6a6ad8" fill-opacity="0.47"/>
<rect x="258.79" y="68.9" width="0.8" height="0.8" fill="#6a6ad8" fill-opacity="0.5"/>
<rect x="266.84" y="45.6" width="0.8" height="0.8" fill="#6a6ad8" fill-opacity="0.48"/>
<rect x="259.97" y="49.99" width="0.8" height="0.8" fill="#6a6ad8" fill-opacity="0.13"/>
<rect x="259.08" y="49.81" width="0.8" height="0.8" fill="#6a6ad8" fill-opacity="0.34"/>
<rect x="257" y="52.38" width="0.8" height="0.8" fill="#6a6ad8" fill-opacity="0.32"/>
<rect x="266.39" y="49.86" width="0.8" height="0.8" fill="#6a6ad8" fill-opacity="0.47"/>
<rect x="268.93" y="53.09" width="0.8" height="0.8" fill="#6a6ad8" fill-opacity="0.44"/>
<rect x="256.79" y="61.75" width="0.8" height="0.8" fill="#6a6ad8" fill-opacity="0.14"/>
<rect x="260.93" y="46.18" width="0.8" height="0.8" fill="#6a6ad8" fill-opacity="0.16"/>
<rect x="259.3" y="58.3" width="0.8" height="0.8" fill="#6a6ad8" fill-opacity="0.5"/>
<rect x="257.5" y="47.69" width="0.8" height="0.8" fill="#6a6ad8" fill-opacity="0.16"/>
<rect x="259.7" y="52.34" width="0.8" height="0.8" fill="#6a6ad8" fill-opacity="0.35"/>
<rect x="255.59" y="56.08" width="0.8" height="0.8" fill="#6a6ad8" fill-opacity="0.24"/>
<rect x="251.62" y="49.81" width="0.8" height="0.8" fill="#6a6ad8" fill-opacity="0.48"/>
<rect x="266.77" y="42.49" width="0.8" height="0.8" fill="#6a6ad8" fill-opacity="0.49"/>
<rect x="261.1" y="60.14" width="0.8" height="0.8" fill="#6a6ad8" fill-opacity="0.4"/>
<rect x="257.4" y="53.65" width="0.8" height="0.8" fill="#6a6ad8" fill-opacity="0.49"/>
<rect x="256.29" y="54.07" width="0.8" height="0.8" fill="#6a6ad8" fill-opacity="0.45"/>
<rect x="263.23" y="41.63" width="0.8" height="0.8" fill="#6a6ad8" fill-opacity="0.35"/>
<rect x="249.95" y="64.52" width="0.8" height="0.8" fill="#6a6ad8" fill-opacity="0.42"/>
<rect x="257.76" y="59.1" width="0.8" height="0.8" fill="#6a6ad8" fill-opacity="0.49"/>
<rect x="260.34" y="59.48" width="0.8" height="0.8" fill="#6a6ad8" fill-opacity="0.46"/>
<rect x="263.78" y="49.98" width="0.8" height="0.8" fill="#6a6ad8" fill-opacity="0.26"/>
<rect x="255.18" y="56.57" width="0.8" height="0.8" fill="#6a6ad8" fill-opacity="0.26"/>
<rect x="266.01" y="46.13" width="0.8" height="0.8" fill="#6a6ad8" fill-opacity="0.18"/>
<rect x="254.4" y="61.79" width="0.8" height="0.8" fill="#6a6ad8" fill-opacity="0.17"/>
<rect x="254.79" y="63.79" width="0.8" height="0.8" fill="#6a6ad8" fill-opacity="0.13"/>
<rect x="265.17" y="49.69" width="0.8" height="0.8" fill="#6a6ad8" fill-opacity="0.4"/>
<rect x="268.88" y="39.2" width="0.8" height="0.8" fill="#6a6ad8" fill-opacity="0.29"/>
<rect x="268.27" y="53.48" width="0.8" height="0.8" fill="#6a6ad8" fill-opacity="0.26"/>
<rect x="262.86" y="51.24" width="0.8" height="0.8" fill="#6a6ad8" fill-opacity="0.19"/>
<rect x="263.72" y="44.87" width="0.8" height="0.8" fill="#6a6ad8" fill-opacity="0.13"/>
<rect x="265.63" y="55.93" width="0.8" height="0.8" fill="#6a6ad8" fill-opacity="0.19"/>
<rect x="255.17" y="59.86" width="0.8" height="0.8" fill="#6a6ad8" fill-opacity="0.28"/>
<rect x="260.59" y="46.73" width="0.8" height="0.8" fill="#6a6ad8" fill-opacity="0.16"/>
<rect x="266.24" y="41.11" width="0.8" height="0.8" fill="#6a6ad8" fill-opacity="0.29"/>
<rect x="265.3" y="47.11" width="0.8" height="0.8" fill="#6a6ad8" fill-opacity="0.12"/>
<rect x="254.4" y="56.31" width="0.8" height="0.8" fill="#6a6ad8" fill-opacity="0.43"/>
<rect x="255.06" y="58.23" width="0.8" height="0.8" fill="#6a6ad8" fill-opacity="0.46"/>
<rect x="256.28" y="59.68" width="0.8" height="0.8" fill="#6a6ad8" fill-opacity="0.36"/>
<rect x="258.9" y="65.92" width="0.8" height="0.8" fill="#6a6ad8" fill-opacity="0.22"/>
<rect x="277.51" y="38.73" width="0.8" height="0.8" fill="#6a6ad8" fill-opacity="0.14"/>
<rect x="273.94" y="63.44" width="0.8" height="0.8" fill="#6a6ad8" fill-opacity="0.23"/>
<rect x="267.68" y="67.43" width="0.8" height="0.8" fill="#6a6ad8" fill-opacity="0.26"/>
<rect x="275.96" y="42.48" width="0.8" height="0.8" fill="#6a6ad8" fill-opacity="0.16"/>
<rect x="288.59" y="40.25" width="0.8" height="0.8" fill="#6a6ad8" fill-opacity="0.22"/>
<rect x="279.08" y="47.36" width="0.8" height="0.8" fill="#6a6ad8" fill-opacity="0.29"/>
<rect x="288.94" y="63.44" width="0.8" height="0.8" fill="#6a6ad8" fill-opacity="0.28"/>
<rect x="264.92" y="37.92" width="0.8" height="0.8" fill="#6a6ad8" fill-opacity="0.2"/>
<rect x="268.61" y="42.21" width="0.8" height="0.8" fill="#6a6ad8" fill-opacity="0.32"/>
<rect x="265.35" y="62.33" width="0.8" height="0.8" fill="#6a6ad8" fill-opacity="0.33"/>
<rect x="262.07" y="65.23" width="0.8" height="0.8" fill="#6a6ad8" fill-opacity="0.19"/>
<rect x="265.21" y="41.97" width="0.8" height="0.8" fill="#6a6ad8" fill-opacity="0.09"/>
<rect x="274.96" y="48.3" width="0.8" height="0.8" fill="#6a6ad8" fill-opacity="0.31"/>
<rect x="286.32" y="37.82" width="0.8" height="0.8" fill="#6a6ad8" fill-opacity="0.19"/>
<rect x="271.23" y="41.68" width="0.8" height="0.8" fill="#6a6ad8" fill-opacity="0.15"/>
<rect x="266.95" y="58.21" width="0.8" height="0.8" fill="#6a6ad8" fill-opacity="0.17"/>
<rect x="261.78" y="43.05" width="0.8" height="0.8" fill="#6a6ad8" fill-opacity="0.2"/>
<rect x="277.2" y="43.86" width="0.8" height="0.8" fill="#6a6ad8" fill-opacity="0.27"/>
<rect x="265.32" y="57.47" width="0.8" height="0.8" fill="#6a6ad8" fill-opacity="0.24"/>
<rect x="263.98" y="60.03" width="0.8" height="0.8" fill="#6a6ad8" fill-opacity="0.19"/>
<rect x="276.34" y="55.13" width="0.8" height="0.8" fill="#6a6ad8" fill-opacity="0.25"/>
<rect x="273.04" y="37.79" width="0.8" height="0.8" fill="#6a6ad8" fill-opacity="0.29"/>
<rect x="287.23" y="51.69" width="0.8" height="0.8" fill="#6a6ad8" fill-opacity="0.24"/>
<rect x="267.13" y="64.76" width="0.8" height="0.8" fill="#6a6ad8" fill-opacity="0.27"/>
<rect x="265.54" y="62.16" width="0.8" height="0.8" fill="#6a6ad8" fill-opacity="0.35"/>
<rect x="269.76" y="67.86" width="0.8" height="0.8" fill="#6a6ad8" fill-opacity="0.21"/>
<rect x="264.08" y="58.94" width="0.8" height="0.8" fill="#6a6ad8" fill-opacity="0.17"/>
<rect x="282.9" y="54.67" width="0.8" height="0.8" fill="#6a6ad8" fill-opacity="0.11"/>
<rect x="275.95" y="63.23" width="0.8" height="0.8" fill="#6a6ad8" fill-opacity="0.21"/>
<rect x="242.29" y="73.29" width="0.8" height="0.8" fill="#6a6ad8" fill-opacity="0.38"/>
<rect x="243.08" y="75.21" width="0.8" height="0.8" fill="#6a6ad8" fill-opacity="0.53"/>
<rect x="244.97" y="76.48" width="0.8" height="0.8" fill="#6a6ad8" fill-opacity="0.5"/>
<rect x="243.76" y="74.04" width="0.8" height="0.8" fill="#6a6ad8" fill-opacity="0.56"/>
<rect x="246.02" y="72.1" width="0.8" height="0.8" fill="#6a6ad8" fill-opacity="0.6"/>
<rect x="245.91" y="70.02" width="0.8" height="0.8" fill="#6a6ad8" fill-opacity="0.32"/>
<rect x="246.75" y="75.36" width="0.8" height="0.8" fill="#6a6ad8" fill-opacity="0.49"/>
<rect x="243.92" y="78.22" width="0.8" height="0.8" fill="#6a6ad8" fill-opacity="0.43"/>
<rect x="244.8" y="80.41" width="0.8" height="0.8" fill="#6a6ad8" fill-opacity="0.43"/>
<rect x="244.33" y="76.11" width="0.8" height="0.8" fill="#6a6ad8" fill-opacity="0.42"/>
<rect x="243.91" y="80.09" width="0.8" height="0.8" fill="#6a6ad8" fill-opacity="0.27"/>
<rect x="244.12" y="76.42" width="0.8" height="0.8" fill="#6a6ad8" fill-opacity="0.36"/>
<rect x="244.25" y="74.23" width="0.8" height="0.8" fill="#6a6ad8" fill-opacity="0.22"/>
<rect x="243.93" y="75.26" width="0.8" height="0.8" fill="#6a6ad8" fill-opacity="0.4"/>
<rect x="245.1" y="76.4" width="0.8" height="0.8" fill="#6a6ad8" fill-opacity="0.42"/>
<rect x="247.12" y="71.73" width="0.8" height="0.8" fill="#6a6ad8" fill-opacity="0.41"/>
<rect x="244.42" y="75.78" width="0.8" height="0.8" fill="#6a6ad8" fill-opacity="0.31"/>
<rect x="243.58" y="82.67" width="0.8" height="0.8" fill="#6a6ad8" fill-opacity="0.25"/>
<rect x="246.2" y="73.72" width="0.8" height="0.8" fill="#6a6ad8" fill-opacity="0.37"/>
<rect x="244.54" y="83.94" width="0.8" height="0.8" fill="#6a6ad8" fill-opacity="0.27"/>
<rect x="243.4" y="73.19" width="0.8" height="0.8" fill="#6a6ad8" fill-opacity="0.28"/>
<rect x="245.44" y="85.03" width="0.8" height="0.8" fill="#6a6ad8" fill-opacity="0.52"/>
<rect x="244.51" y="67.48" width="0.8" height="0.8" fill="#6a6ad8" fill-opacity="0.24"/>
<rect x="244.18" y="69.41" width="0.8" height="0.8" fill="#6a6ad8" fill-opacity="0.29"/>
<rect x="241.41" y="77.53" width="0.8" height="0.8" fill="#6a6ad8" fill-opacity="0.33"/>
<rect x="244.86" y="72.9" width="0.8" height="0.8" fill="#6a6ad8" fill-opacity="0.47"/>
<rect x="244.61" y="79.14" width="0.8" height="0.8" fill="#6a6ad8" fill-opacity="0.35"/>
<rect x="246.27" y="70.79" width="0.8" height="0.8" fill="#6a6ad8" fill-opacity="0.4"/>
<rect x="232.9" y="24" width="71.8" height="71.2" fill="none" stroke="#000" stroke-width="1.5"/>
<rect x="237.7" y="34.4" width="16.9" height="36.5" fill="none" stroke="#9a9a9a" stroke-width="1.25"/>
<rect x="254.6" y="34.1" width="37.2" height="36.8" fill="none" stroke="#9a9a9a" stroke-width="1.25"/>
<rect x="237.7" y="70.9" width="17.5" height="20.3" fill="none" stroke="#9a9a9a" stroke-width="1.25"/>
<rect x="234.4" y="46.9" width="1.4" height="38.7" fill="#d8d8d8" stroke="#8a8a8a" stroke-width="0.55"/>
<line x1="230.3" y1="36.5" x2="232.9" y2="36.5" stroke="#000" stroke-width="1"/>
<text x="227.9" y="38.2" font-size="4.6" text-anchor="end" fill="#3a3a3a" stroke="none">10<tspan font-size="3.4" dy="-2.2">5</tspan></text>
<line x1="230.3" y1="49.6" x2="232.9" y2="49.6" stroke="#000" stroke-width="1"/>
<text x="227.9" y="51.3" font-size="4.6" text-anchor="end" fill="#3a3a3a" stroke="none">10<tspan font-size="3.4" dy="-2.2">4</tspan></text>
<line x1="230.3" y1="65.8" x2="232.9" y2="65.8" stroke="#000" stroke-width="1"/>
<text x="227.9" y="67.5" font-size="4.6" text-anchor="end" fill="#3a3a3a" stroke="none">10<tspan font-size="3.4" dy="-2.2">3</tspan></text>
<line x1="230.3" y1="78.9" x2="232.9" y2="78.9" stroke="#000" stroke-width="1"/>
<text x="227.9" y="80.6" font-size="4.6" text-anchor="end" fill="#3a3a3a" stroke="none">0</text>
<line x1="230.3" y1="91.2" x2="232.9" y2="91.2" stroke="#000" stroke-width="1"/>
<text x="227.9" y="92.9" font-size="4.6" text-anchor="end" fill="#3a3a3a" stroke="none">-10<tspan font-size="3.4" dy="-2.2">3</tspan></text>
<line x1="231.1" y1="45.66" x2="232.9" y2="45.66" stroke="#000" stroke-width="0.8"/>
<line x1="231.1" y1="43.35" x2="232.9" y2="43.35" stroke="#000" stroke-width="0.8"/>
<line x1="231.1" y1="41.71" x2="232.9" y2="41.71" stroke="#000" stroke-width="0.8"/>
<line x1="231.1" y1="40.44" x2="232.9" y2="40.44" stroke="#000" stroke-width="0.8"/>
<line x1="231.1" y1="39.41" x2="232.9" y2="39.41" stroke="#000" stroke-width="0.8"/>
<line x1="231.1" y1="38.53" x2="232.9" y2="38.53" stroke="#000" stroke-width="0.8"/>
<line x1="231.1" y1="37.77" x2="232.9" y2="37.77" stroke="#000" stroke-width="0.8"/>
<line x1="231.1" y1="37.1" x2="232.9" y2="37.1" stroke="#000" stroke-width="0.8"/>
<line x1="231.1" y1="60.92" x2="232.9" y2="60.92" stroke="#000" stroke-width="0.8"/>
<line x1="231.1" y1="58.07" x2="232.9" y2="58.07" stroke="#000" stroke-width="0.8"/>
<line x1="231.1" y1="56.05" x2="232.9" y2="56.05" stroke="#000" stroke-width="0.8"/>
<line x1="231.1" y1="54.48" x2="232.9" y2="54.48" stroke="#000" stroke-width="0.8"/>
<line x1="231.1" y1="53.19" x2="232.9" y2="53.19" stroke="#000" stroke-width="0.8"/>
<line x1="231.1" y1="52.11" x2="232.9" y2="52.11" stroke="#000" stroke-width="0.8"/>
<line x1="231.1" y1="51.17" x2="232.9" y2="51.17" stroke="#000" stroke-width="0.8"/>
<line x1="231.1" y1="50.34" x2="232.9" y2="50.34" stroke="#000" stroke-width="0.8"/>
<line x1="231.1" y1="74.96" x2="232.9" y2="74.96" stroke="#000" stroke-width="0.8"/>
<line x1="231.1" y1="72.65" x2="232.9" y2="72.65" stroke="#000" stroke-width="0.8"/>
<line x1="231.1" y1="71.01" x2="232.9" y2="71.01" stroke="#000" stroke-width="0.8"/>
<line x1="231.1" y1="69.74" x2="232.9" y2="69.74" stroke="#000" stroke-width="0.8"/>
<line x1="231.1" y1="68.71" x2="232.9" y2="68.71" stroke="#000" stroke-width="0.8"/>
<line x1="231.1" y1="67.83" x2="232.9" y2="67.83" stroke="#000" stroke-width="0.8"/>
<line x1="231.1" y1="67.07" x2="232.9" y2="67.07" stroke="#000" stroke-width="0.8"/>
<line x1="231.1" y1="66.4" x2="232.9" y2="66.4" stroke="#000" stroke-width="0.8"/>
<line x1="231.1" y1="76.4" x2="232.9" y2="76.4" stroke="#000" stroke-width="0.8"/>
<line x1="231.1" y1="77.7" x2="232.9" y2="77.7" stroke="#000" stroke-width="0.8"/>
<line x1="231.1" y1="80.1" x2="232.9" y2="80.1" stroke="#000" stroke-width="0.8"/>
<line x1="231.1" y1="81.4" x2="232.9" y2="81.4" stroke="#000" stroke-width="0.8"/>
<line x1="231.1" y1="83.9" x2="232.9" y2="83.9" stroke="#000" stroke-width="0.8"/>
<line x1="231.1" y1="87.4" x2="232.9" y2="87.4" stroke="#000" stroke-width="0.8"/>
<line x1="234" y1="95.2" x2="234" y2="97.7" stroke="#000" stroke-width="1"/>
<line x1="236.69" y1="95.2" x2="236.69" y2="96.7" stroke="#000" stroke-width="0.7"/>
<line x1="239.38" y1="95.2" x2="239.38" y2="96.7" stroke="#000" stroke-width="0.7"/>
<line x1="242.07" y1="95.2" x2="242.07" y2="96.7" stroke="#000" stroke-width="0.7"/>
<line x1="244.76" y1="95.2" x2="244.76" y2="96.7" stroke="#000" stroke-width="0.7"/>
<text x="234" y="106.4" font-size="4.7" text-anchor="middle" fill="#333" stroke="none">0</text>
<line x1="247.45" y1="95.2" x2="247.45" y2="97.7" stroke="#000" stroke-width="1"/>
<line x1="250.14" y1="95.2" x2="250.14" y2="96.7" stroke="#000" stroke-width="0.7"/>
<line x1="252.83" y1="95.2" x2="252.83" y2="96.7" stroke="#000" stroke-width="0.7"/>
<line x1="255.52" y1="95.2" x2="255.52" y2="96.7" stroke="#000" stroke-width="0.7"/>
<line x1="258.21" y1="95.2" x2="258.21" y2="96.7" stroke="#000" stroke-width="0.7"/>
<text x="247.45" y="106.4" font-size="4.7" text-anchor="middle" fill="#333" stroke="none">50K</text>
<line x1="260.9" y1="95.2" x2="260.9" y2="97.7" stroke="#000" stroke-width="1"/>
<line x1="263.59" y1="95.2" x2="263.59" y2="96.7" stroke="#000" stroke-width="0.7"/>
<line x1="266.28" y1="95.2" x2="266.28" y2="96.7" stroke="#000" stroke-width="0.7"/>
<line x1="268.97" y1="95.2" x2="268.97" y2="96.7" stroke="#000" stroke-width="0.7"/>
<line x1="271.66" y1="95.2" x2="271.66" y2="96.7" stroke="#000" stroke-width="0.7"/>
<text x="260.9" y="106.4" font-size="4.7" text-anchor="middle" fill="#333" stroke="none">100K</text>
<line x1="274.35" y1="95.2" x2="274.35" y2="97.7" stroke="#000" stroke-width="1"/>
<line x1="277.04" y1="95.2" x2="277.04" y2="96.7" stroke="#000" stroke-width="0.7"/>
<line x1="279.73" y1="95.2" x2="279.73" y2="96.7" stroke="#000" stroke-width="0.7"/>
<line x1="282.42" y1="95.2" x2="282.42" y2="96.7" stroke="#000" stroke-width="0.7"/>
<line x1="285.11" y1="95.2" x2="285.11" y2="96.7" stroke="#000" stroke-width="0.7"/>
<text x="274.35" y="106.4" font-size="4.7" text-anchor="middle" fill="#333" stroke="none">150K</text>
<line x1="287.8" y1="95.2" x2="287.8" y2="97.7" stroke="#000" stroke-width="1"/>
<line x1="290.49" y1="95.2" x2="290.49" y2="96.7" stroke="#000" stroke-width="0.7"/>
<line x1="293.18" y1="95.2" x2="293.18" y2="96.7" stroke="#000" stroke-width="0.7"/>
<line x1="295.87" y1="95.2" x2="295.87" y2="96.7" stroke="#000" stroke-width="0.7"/>
<line x1="298.56" y1="95.2" x2="298.56" y2="96.7" stroke="#000" stroke-width="0.7"/>
<text x="287.8" y="106.4" font-size="4.7" text-anchor="middle" fill="#333" stroke="none">200K</text>
<line x1="301.25" y1="95.2" x2="301.25" y2="97.7" stroke="#000" stroke-width="1"/>
<text x="301.25" y="106.4" font-size="4.7" text-anchor="middle" fill="#333" stroke="none">250K</text>
<text x="266" y="87.4" font-size="6.5" text-anchor="start" fill="#2a2a2a" textLength="26.6" lengthAdjust="spacingAndGlyphs" stroke-width="0.08"><tspan font-style="italic">Thpo</tspan><tspan font-size="3.6" dy="-2.2">+/+</tspan><tspan dy="2.2"> Ro</tspan></text>
<rect x="241.34" y="164.76" width="0.8" height="0.8" fill="#6a6ad8" fill-opacity="0.74"/>
<rect x="243.78" y="167.6" width="0.8" height="0.8" fill="#6a6ad8" fill-opacity="0.81"/>
<rect x="243.39" y="171.51" width="0.8" height="0.8" fill="#6a6ad8" fill-opacity="0.82"/>
<rect x="241.25" y="161.84" width="0.8" height="0.8" fill="#6a6ad8" fill-opacity="0.36"/>
<rect x="241.74" y="171.23" width="0.8" height="0.8" fill="#6a6ad8" fill-opacity="0.6"/>
<rect x="242.27" y="170.14" width="0.8" height="0.8" fill="#6a6ad8" fill-opacity="0.42"/>
<rect x="242.03" y="181.45" width="0.8" height="0.8" fill="#6a6ad8" fill-opacity="0.72"/>
<rect x="243.26" y="178.03" width="0.8" height="0.8" fill="#6a6ad8" fill-opacity="0.38"/>
<rect x="242.05" y="168.75" width="0.8" height="0.8" fill="#6a6ad8" fill-opacity="0.3"/>
<rect x="242.83" y="168.02" width="0.8" height="0.8" fill="#6a6ad8" fill-opacity="0.42"/>
<rect x="244.22" y="169.38" width="0.8" height="0.8" fill="#6a6ad8" fill-opacity="0.46"/>
<rect x="243.49" y="169.01" width="0.8" height="0.8" fill="#6a6ad8" fill-opacity="0.67"/>
<rect x="243" y="181.92" width="0.8" height="0.8" fill="#6a6ad8" fill-opacity="0.68"/>
<rect x="244.26" y="168.29" width="0.8" height="0.8" fill="#6a6ad8" fill-opacity="0.46"/>
<rect x="242.05" y="172.81" width="0.8" height="0.8" fill="#6a6ad8" fill-opacity="0.38"/>
<rect x="243.1" y="172.19" width="0.8" height="0.8" fill="#6a6ad8" fill-opacity="0.63"/>
<rect x="243.75" y="170.66" width="0.8" height="0.8" fill="#6a6ad8" fill-opacity="0.49"/>
<rect x="241.79" y="179.09" width="0.8" height="0.8" fill="#6a6ad8" fill-opacity="0.56"/>
<rect x="241.99" y="175.75" width="0.8" height="0.8" fill="#6a6ad8" fill-opacity="0.69"/>
<rect x="244.69" y="175.26" width="0.8" height="0.8" fill="#6a6ad8" fill-opacity="0.31"/>
<rect x="242.4" y="160.85" width="0.8" height="0.8" fill="#6a6ad8" fill-opacity="0.31"/>
<rect x="242.6" y="165.86" width="0.8" height="0.8" fill="#6a6ad8" fill-opacity="0.62"/>
<rect x="242.68" y="170.59" width="0.8" height="0.8" fill="#6a6ad8" fill-opacity="0.4"/>
<rect x="242.97" y="169.58" width="0.8" height="0.8" fill="#6a6ad8" fill-opacity="0.72"/>
<rect x="244.34" y="165.4" width="0.8" height="0.8" fill="#6a6ad8" fill-opacity="0.49"/>
<rect x="241.73" y="175.32" width="0.8" height="0.8" fill="#6a6ad8" fill-opacity="0.73"/>
<rect x="243.56" y="175.72" width="0.8" height="0.8" fill="#6a6ad8" fill-opacity="0.74"/>
<rect x="242.56" y="169.45" width="0.8" height="0.8" fill="#6a6ad8" fill-opacity="0.82"/>
<rect x="243.09" y="172.97" width="0.8" height="0.8" fill="#6a6ad8" fill-opacity="0.64"/>
<rect x="243.11" y="168.26" width="0.8" height="0.8" fill="#6a6ad8" fill-opacity="0.81"/>
<rect x="241.65" y="169.29" width="0.8" height="0.8" fill="#6a6ad8" fill-opacity="0.47"/>
<rect x="242.56" y="172.31" width="0.8" height="0.8" fill="#6a6ad8" fill-opacity="0.38"/>
<rect x="241.26" y="154.81" width="0.8" height="0.8" fill="#6a6ad8" fill-opacity="0.39"/>
<rect x="244.92" y="174.91" width="0.8" height="0.8" fill="#6a6ad8" fill-opacity="0.59"/>
<rect x="241.85" y="172.55" width="0.8" height="0.8" fill="#6a6ad8" fill-opacity="0.63"/>
<rect x="242.86" y="165.61" width="0.8" height="0.8" fill="#6a6ad8" fill-opacity="0.53"/>
<rect x="244.28" y="174.32" width="0.8" height="0.8" fill="#6a6ad8" fill-opacity="0.32"/>
<rect x="240.68" y="170.89" width="0.8" height="0.8" fill="#6a6ad8" fill-opacity="0.37"/>
<rect x="242.15" y="158.35" width="0.8" height="0.8" fill="#6a6ad8" fill-opacity="0.65"/>
<rect x="242.5" y="168.19" width="0.8" height="0.8" fill="#6a6ad8" fill-opacity="0.54"/>
<rect x="243.43" y="178.28" width="0.8" height="0.8" fill="#6a6ad8" fill-opacity="0.46"/>
<rect x="239.12" y="176.03" width="0.8" height="0.8" fill="#6a6ad8" fill-opacity="0.77"/>
<rect x="243.38" y="169.67" width="0.8" height="0.8" fill="#6a6ad8" fill-opacity="0.57"/>
<rect x="242.27" y="164.84" width="0.8" height="0.8" fill="#6a6ad8" fill-opacity="0.46"/>
<rect x="241.98" y="172.1" width="0.8" height="0.8" fill="#6a6ad8" fill-opacity="0.51"/>
<rect x="244.68" y="169.58" width="0.8" height="0.8" fill="#6a6ad8" fill-opacity="0.64"/>
<rect x="241.58" y="170.52" width="0.8" height="0.8" fill="#6a6ad8" fill-opacity="0.35"/>
<rect x="242.18" y="179.14" width="0.8" height="0.8" fill="#6a6ad8" fill-opacity="0.78"/>
<rect x="241.38" y="177.22" width="0.8" height="0.8" fill="#6a6ad8" fill-opacity="0.73"/>
<rect x="241.95" y="163.56" width="0.8" height="0.8" fill="#6a6ad8" fill-opacity="0.72"/>
<rect x="241.48" y="176.41" width="0.8" height="0.8" fill="#6a6ad8" fill-opacity="0.45"/>
<rect x="240.86" y="171.27" width="0.8" height="0.8" fill="#6a6ad8" fill-opacity="0.68"/>
<rect x="241.81" y="182.11" width="0.8" height="0.8" fill="#6a6ad8" fill-opacity="0.66"/>
<rect x="242.28" y="170.13" width="0.8" height="0.8" fill="#6a6ad8" fill-opacity="0.6"/>
<rect x="242.39" y="177.96" width="0.8" height="0.8" fill="#6a6ad8" fill-opacity="0.55"/>
<rect x="242.93" y="163.9" width="0.8" height="0.8" fill="#6a6ad8" fill-opacity="0.74"/>
<rect x="241.65" y="176.37" width="0.8" height="0.8" fill="#6a6ad8" fill-opacity="0.71"/>
<rect x="242.79" y="166.41" width="0.8" height="0.8" fill="#6a6ad8" fill-opacity="0.76"/>
<rect x="243.34" y="164.93" width="0.8" height="0.8" fill="#6a6ad8" fill-opacity="0.84"/>
<rect x="243.45" y="168.87" width="0.8" height="0.8" fill="#6a6ad8" fill-opacity="0.59"/>
<rect x="243.26" y="178.73" width="0.8" height="0.8" fill="#6a6ad8" fill-opacity="0.82"/>
<rect x="241.03" y="171.59" width="0.8" height="0.8" fill="#6a6ad8" fill-opacity="0.7"/>
<rect x="242.33" y="167.45" width="0.8" height="0.8" fill="#6a6ad8" fill-opacity="0.73"/>
<rect x="241.24" y="166.9" width="0.8" height="0.8" fill="#6a6ad8" fill-opacity="0.53"/>
<rect x="241.29" y="164.44" width="0.8" height="0.8" fill="#6a6ad8" fill-opacity="0.65"/>
<rect x="242.36" y="169.34" width="0.8" height="0.8" fill="#6a6ad8" fill-opacity="0.39"/>
<rect x="241.18" y="173.12" width="0.8" height="0.8" fill="#6a6ad8" fill-opacity="0.42"/>
<rect x="241.9" y="164" width="0.8" height="0.8" fill="#6a6ad8" fill-opacity="0.32"/>
<rect x="241.77" y="171.14" width="0.8" height="0.8" fill="#6a6ad8" fill-opacity="0.33"/>
<rect x="242.93" y="173.75" width="0.8" height="0.8" fill="#6a6ad8" fill-opacity="0.4"/>
<rect x="242.48" y="171.76" width="0.8" height="0.8" fill="#6a6ad8" fill-opacity="0.56"/>
<rect x="241.5" y="175.2" width="0.8" height="0.8" fill="#6a6ad8" fill-opacity="0.62"/>
<rect x="242.55" y="181.27" width="0.8" height="0.8" fill="#6a6ad8" fill-opacity="0.3"/>
<rect x="241.8" y="172.76" width="0.8" height="0.8" fill="#6a6ad8" fill-opacity="0.53"/>
<rect x="243.67" y="176.74" width="0.8" height="0.8" fill="#6a6ad8" fill-opacity="0.51"/>
<rect x="243.61" y="172.05" width="0.8" height="0.8" fill="#6a6ad8" fill-opacity="0.35"/>
<rect x="241.61" y="169.22" width="0.8" height="0.8" fill="#6a6ad8" fill-opacity="0.62"/>
<rect x="244.01" y="168.11" width="0.8" height="0.8" fill="#6a6ad8" fill-opacity="0.53"/>
<rect x="242.9" y="163.88" width="0.8" height="0.8" fill="#6a6ad8" fill-opacity="0.5"/>
<rect x="243.16" y="175.74" width="0.8" height="0.8" fill="#6a6ad8" fill-opacity="0.61"/>
<rect x="244.68" y="167.02" width="0.8" height="0.8" fill="#6a6ad8" fill-opacity="0.63"/>
<rect x="241.27" y="179.02" width="0.8" height="0.8" fill="#6a6ad8" fill-opacity="0.3"/>
<rect x="243.31" y="174.55" width="0.8" height="0.8" fill="#6a6ad8" fill-opacity="0.64"/>
<rect x="243.2" y="175.95" width="0.8" height="0.8" fill="#6a6ad8" fill-opacity="0.79"/>
<rect x="241.72" y="174.24" width="0.8" height="0.8" fill="#6a6ad8" fill-opacity="0.42"/>
<rect x="241.78" y="183.45" width="0.8" height="0.8" fill="#6a6ad8" fill-opacity="0.51"/>
<rect x="244.33" y="167.82" width="0.8" height="0.8" fill="#6a6ad8" fill-opacity="0.63"/>
<rect x="242.24" y="184.55" width="0.8" height="0.8" fill="#6a6ad8" fill-opacity="0.57"/>
<rect x="241.72" y="172.72" width="0.8" height="0.8" fill="#6a6ad8" fill-opacity="0.84"/>
<rect x="241.66" y="170.71" width="0.8" height="0.8" fill="#6a6ad8" fill-opacity="0.56"/>
<rect x="243.3" y="175.33" width="0.8" height="0.8" fill="#6a6ad8" fill-opacity="0.54"/>
<rect x="241.98" y="178.91" width="0.8" height="0.8" fill="#6a6ad8" fill-opacity="0.75"/>
<rect x="243.51" y="171.01" width="0.8" height="0.8" fill="#6a6ad8" fill-opacity="0.45"/>
<rect x="243.84" y="167.05" width="0.8" height="0.8" fill="#6a6ad8" fill-opacity="0.44"/>
<rect x="242.34" y="173.38" width="0.8" height="0.8" fill="#6a6ad8" fill-opacity="0.84"/>
<rect x="242.64" y="163.32" width="0.8" height="0.8" fill="#6a6ad8" fill-opacity="0.49"/>
<rect x="245.8" y="163.31" width="0.8" height="0.8" fill="#6a6ad8" fill-opacity="0.6"/>
<rect x="241.06" y="163.78" width="0.8" height="0.8" fill="#6a6ad8" fill-opacity="0.42"/>
<rect x="244.8" y="162.51" width="0.8" height="0.8" fill="#6a6ad8" fill-opacity="0.42"/>
<rect x="244.77" y="162.89" width="0.8" height="0.8" fill="#6a6ad8" fill-opacity="0.44"/>
<rect x="246.71" y="163.27" width="0.8" height="0.8" fill="#6a6ad8" fill-opacity="0.31"/>
<rect x="242.27" y="162.87" width="0.8" height="0.8" fill="#6a6ad8" fill-opacity="0.67"/>
<rect x="247.99" y="163.14" width="0.8" height="0.8" fill="#6a6ad8" fill-opacity="0.31"/>
<rect x="247.01" y="162.78" width="0.8" height="0.8" fill="#6a6ad8" fill-opacity="0.53"/>
<rect x="246.37" y="163.4" width="0.8" height="0.8" fill="#6a6ad8" fill-opacity="0.49"/>
<rect x="248.21" y="162.66" width="0.8" height="0.8" fill="#6a6ad8" fill-opacity="0.46"/>
<rect x="247.67" y="162.09" width="0.8" height="0.8" fill="#6a6ad8" fill-opacity="0.42"/>
<rect x="247.47" y="161.7" width="0.8" height="0.8" fill="#6a6ad8" fill-opacity="0.63"/>
<rect x="246.25" y="162.8" width="0.8" height="0.8" fill="#6a6ad8" fill-opacity="0.41"/>
<rect x="247.03" y="164.23" width="0.8" height="0.8" fill="#6a6ad8" fill-opacity="0.36"/>
<rect x="244.31" y="163.15" width="0.8" height="0.8" fill="#6a6ad8" fill-opacity="0.5"/>
<rect x="242.98" y="161.96" width="0.8" height="0.8" fill="#6a6ad8" fill-opacity="0.53"/>
<rect x="247.31" y="161.71" width="0.8" height="0.8" fill="#6a6ad8" fill-opacity="0.39"/>
<rect x="244.92" y="159.5" width="0.8" height="0.8" fill="#6a6ad8" fill-opacity="0.38"/>
<rect x="240.15" y="158.67" width="0.8" height="0.8" fill="#6a6ad8" fill-opacity="0.49"/>
<rect x="245.99" y="158.41" width="0.8" height="0.8" fill="#6a6ad8" fill-opacity="0.17"/>
<rect x="245.05" y="152.63" width="0.8" height="0.8" fill="#6a6ad8" fill-opacity="0.38"/>
<rect x="245.71" y="158.55" width="0.8" height="0.8" fill="#6a6ad8" fill-opacity="0.2"/>
<rect x="241.75" y="161.02" width="0.8" height="0.8" fill="#6a6ad8" fill-opacity="0.2"/>
<rect x="243.66" y="154.97" width="0.8" height="0.8" fill="#6a6ad8" fill-opacity="0.21"/>
<rect x="243.73" y="150.52" width="0.8" height="0.8" fill="#6a6ad8" fill-opacity="0.19"/>
<rect x="242.28" y="150.86" width="0.8" height="0.8" fill="#6a6ad8" fill-opacity="0.17"/>
<rect x="243.45" y="158.91" width="0.8" height="0.8" fill="#6a6ad8" fill-opacity="0.46"/>
<rect x="240.81" y="155.18" width="0.8" height="0.8" fill="#6a6ad8" fill-opacity="0.26"/>
<rect x="243.6" y="155.87" width="0.8" height="0.8" fill="#6a6ad8" fill-opacity="0.48"/>
<rect x="242.25" y="150.67" width="0.8" height="0.8" fill="#6a6ad8" fill-opacity="0.39"/>
<rect x="240.91" y="157.58" width="0.8" height="0.8" fill="#6a6ad8" fill-opacity="0.33"/>
<rect x="245.46" y="156.66" width="0.8" height="0.8" fill="#6a6ad8" fill-opacity="0.37"/>
<rect x="241.58" y="156.62" width="0.8" height="0.8" fill="#6a6ad8" fill-opacity="0.24"/>
<rect x="244.5" y="156.2" width="0.8" height="0.8" fill="#6a6ad8" fill-opacity="0.2"/>
<rect x="241.41" y="154.45" width="0.8" height="0.8" fill="#6a6ad8" fill-opacity="0.41"/>
<rect x="241.08" y="158.56" width="0.8" height="0.8" fill="#6a6ad8" fill-opacity="0.38"/>
<rect x="240.51" y="158.02" width="0.8" height="0.8" fill="#6a6ad8" fill-opacity="0.18"/>
<rect x="240.75" y="157.13" width="0.8" height="0.8" fill="#6a6ad8" fill-opacity="0.23"/>
<rect x="245.26" y="155.77" width="0.8" height="0.8" fill="#6a6ad8" fill-opacity="0.26"/>
<rect x="244.78" y="150.35" width="0.8" height="0.8" fill="#6a6ad8" fill-opacity="0.4"/>
<rect x="240.32" y="151.81" width="0.8" height="0.8" fill="#6a6ad8" fill-opacity="0.48"/>
<rect x="244.09" y="152.68" width="0.8" height="0.8" fill="#6a6ad8" fill-opacity="0.19"/>
<rect x="245.84" y="157.98" width="0.8" height="0.8" fill="#6a6ad8" fill-opacity="0.44"/>
<rect x="240.84" y="157.5" width="0.8" height="0.8" fill="#6a6ad8" fill-opacity="0.27"/>
<rect x="241.41" y="154" width="0.8" height="0.8" fill="#6a6ad8" fill-opacity="0.36"/>
<rect x="242.09" y="154.63" width="0.8" height="0.8" fill="#6a6ad8" fill-opacity="0.2"/>
<rect x="244.99" y="157.77" width="0.8" height="0.8" fill="#6a6ad8" fill-opacity="0.43"/>
<rect x="246.07" y="155.4" width="0.8" height="0.8" fill="#6a6ad8" fill-opacity="0.26"/>
<rect x="248.3" y="146.77" width="0.8" height="0.8" fill="#6a6ad8" fill-opacity="0.32"/>
<rect x="245.54" y="132.01" width="0.8" height="0.8" fill="#6a6ad8" fill-opacity="0.11"/>
<rect x="242.83" y="130.22" width="0.8" height="0.8" fill="#6a6ad8" fill-opacity="0.37"/>
<rect x="246.73" y="152.57" width="0.8" height="0.8" fill="#6a6ad8" fill-opacity="0.1"/>
<rect x="246.58" y="156.58" width="0.8" height="0.8" fill="#6a6ad8" fill-opacity="0.29"/>
<rect x="246" y="143.43" width="0.8" height="0.8" fill="#6a6ad8" fill-opacity="0.13"/>
<rect x="242.17" y="133.93" width="0.8" height="0.8" fill="#6a6ad8" fill-opacity="0.21"/>
<rect x="245.4" y="156.29" width="0.8" height="0.8" fill="#6a6ad8" fill-opacity="0.15"/>
<rect x="243.56" y="137.6" width="0.8" height="0.8" fill="#6a6ad8" fill-opacity="0.15"/>
<rect x="244.02" y="136.29" width="0.8" height="0.8" fill="#6a6ad8" fill-opacity="0.24"/>
<rect x="240.45" y="157.66" width="0.8" height="0.8" fill="#6a6ad8" fill-opacity="0.21"/>
<rect x="253.13" y="150.32" width="0.8" height="0.8" fill="#6a6ad8" fill-opacity="0.3"/>
<rect x="246.6" y="158.31" width="0.8" height="0.8" fill="#6a6ad8" fill-opacity="0.14"/>
<rect x="249.36" y="138.02" width="0.8" height="0.8" fill="#6a6ad8" fill-opacity="0.3"/>
<rect x="250.21" y="134.06" width="0.8" height="0.8" fill="#6a6ad8" fill-opacity="0.16"/>
<rect x="240.35" y="136.14" width="0.8" height="0.8" fill="#6a6ad8" fill-opacity="0.12"/>
<rect x="245.61" y="159.18" width="0.8" height="0.8" fill="#6a6ad8" fill-opacity="0.21"/>
<rect x="244.37" y="143.51" width="0.8" height="0.8" fill="#6a6ad8" fill-opacity="0.18"/>
<rect x="250.25" y="151.26" width="0.8" height="0.8" fill="#6a6ad8" fill-opacity="0.15"/>
<rect x="243.37" y="149.84" width="0.8" height="0.8" fill="#6a6ad8" fill-opacity="0.38"/>
<rect x="249.04" y="142.35" width="0.8" height="0.8" fill="#6a6ad8" fill-opacity="0.39"/>
<rect x="240.09" y="130.89" width="0.8" height="0.8" fill="#6a6ad8" fill-opacity="0.33"/>
<rect x="245.74" y="130.39" width="0.8" height="0.8" fill="#6a6ad8" fill-opacity="0.26"/>
<rect x="253.85" y="145.09" width="0.8" height="0.8" fill="#6a6ad8" fill-opacity="0.21"/>
<rect x="241.31" y="131.21" width="0.8" height="0.8" fill="#6a6ad8" fill-opacity="0.37"/>
<rect x="246.88" y="158.01" width="0.8" height="0.8" fill="#6a6ad8" fill-opacity="0.12"/>
<rect x="243.41" y="130.56" width="0.8" height="0.8" fill="#6a6ad8" fill-opacity="0.22"/>
<rect x="240.84" y="136.92" width="0.8" height="0.8" fill="#6a6ad8" fill-opacity="0.22"/>
<rect x="244.28" y="130.59" width="0.8" height="0.8" fill="#6a6ad8" fill-opacity="0.11"/>
<rect x="253.6" y="134.56" width="0.8" height="0.8" fill="#6a6ad8" fill-opacity="0.25"/>
<rect x="245.63" y="145.47" width="0.8" height="0.8" fill="#6a6ad8" fill-opacity="0.13"/>
<rect x="244.39" y="132.35" width="0.8" height="0.8" fill="#6a6ad8" fill-opacity="0.26"/>
<rect x="252.9" y="147.55" width="0.8" height="0.8" fill="#6a6ad8" fill-opacity="0.36"/>
<rect x="243" y="129.54" width="0.8" height="0.8" fill="#6a6ad8" fill-opacity="0.26"/>
<rect x="273.52" y="140.57" width="0.8" height="0.8" fill="#6a6ad8" fill-opacity="0.18"/>
<rect x="278.5" y="143.96" width="0.8" height="0.8" fill="#6a6ad8" fill-opacity="0.33"/>
<rect x="267.07" y="137.88" width="0.8" height="0.8" fill="#6a6ad8" fill-opacity="0.3"/>
<rect x="264.06" y="130.55" width="0.8" height="0.8" fill="#6a6ad8" fill-opacity="0.16"/>
<rect x="259.15" y="144.99" width="0.8" height="0.8" fill="#6a6ad8" fill-opacity="0.3"/>
<rect x="267.26" y="130.86" width="0.8" height="0.8" fill="#6a6ad8" fill-opacity="0.1"/>
<rect x="264.81" y="129.86" width="0.8" height="0.8" fill="#6a6ad8" fill-opacity="0.2"/>
<rect x="276.77" y="133.4" width="0.8" height="0.8" fill="#6a6ad8" fill-opacity="0.1"/>
<rect x="281.22" y="129.06" width="0.8" height="0.8" fill="#6a6ad8" fill-opacity="0.13"/>
<rect x="266.3" y="136.22" width="0.8" height="0.8" fill="#6a6ad8" fill-opacity="0.11"/>
<rect x="271.14" y="134.91" width="0.8" height="0.8" fill="#6a6ad8" fill-opacity="0.28"/>
<rect x="276.02" y="147.71" width="0.8" height="0.8" fill="#6a6ad8" fill-opacity="0.26"/>
<rect x="283.35" y="140.64" width="0.8" height="0.8" fill="#6a6ad8" fill-opacity="0.2"/>
<rect x="285.4" y="142.42" width="0.8" height="0.8" fill="#6a6ad8" fill-opacity="0.34"/>
<rect x="282.21" y="143.43" width="0.8" height="0.8" fill="#6a6ad8" fill-opacity="0.15"/>
<rect x="285.23" y="136.41" width="0.8" height="0.8" fill="#6a6ad8" fill-opacity="0.12"/>
<rect x="233.2" y="116.8" width="71.4" height="71.1" fill="none" stroke="#000" stroke-width="1.5"/>
<rect x="238.4" y="126.4" width="16.8" height="36.2" fill="none" stroke="#9a9a9a" stroke-width="1.25"/>
<rect x="255.2" y="126.4" width="37.6" height="36.2" fill="none" stroke="#9a9a9a" stroke-width="1.25"/>
<rect x="238.4" y="163.4" width="17.6" height="20.5" fill="none" stroke="#9a9a9a" stroke-width="1.25"/>
<rect x="234.8" y="139.3" width="1.4" height="38.7" fill="#d8d8d8" stroke="#8a8a8a" stroke-width="0.55"/>
<line x1="230.6" y1="128.8" x2="233.2" y2="128.8" stroke="#000" stroke-width="1"/>
<text x="228.2" y="130.5" font-size="4.6" text-anchor="end" fill="#3a3a3a" stroke="none">10<tspan font-size="3.4" dy="-2.2">5</tspan></text>
<line x1="230.6" y1="141.5" x2="233.2" y2="141.5" stroke="#000" stroke-width="1"/>
<text x="228.2" y="143.2" font-size="4.6" text-anchor="end" fill="#3a3a3a" stroke="none">10<tspan font-size="3.4" dy="-2.2">4</tspan></text>
<line x1="230.6" y1="157.7" x2="233.2" y2="157.7" stroke="#000" stroke-width="1"/>
<text x="228.2" y="159.4" font-size="4.6" text-anchor="end" fill="#3a3a3a" stroke="none">10<tspan font-size="3.4" dy="-2.2">3</tspan></text>
<line x1="230.6" y1="171" x2="233.2" y2="171" stroke="#000" stroke-width="1"/>
<text x="228.2" y="172.7" font-size="4.6" text-anchor="end" fill="#3a3a3a" stroke="none">0</text>
<line x1="230.6" y1="183.5" x2="233.2" y2="183.5" stroke="#000" stroke-width="1"/>
<text x="228.2" y="185.2" font-size="4.6" text-anchor="end" fill="#3a3a3a" stroke="none">-10<tspan font-size="3.4" dy="-2.2">3</tspan></text>
<line x1="231.4" y1="137.68" x2="233.2" y2="137.68" stroke="#000" stroke-width="0.8"/>
<line x1="231.4" y1="135.44" x2="233.2" y2="135.44" stroke="#000" stroke-width="0.8"/>
<line x1="231.4" y1="133.85" x2="233.2" y2="133.85" stroke="#000" stroke-width="0.8"/>
<line x1="231.4" y1="132.62" x2="233.2" y2="132.62" stroke="#000" stroke-width="0.8"/>
<line x1="231.4" y1="131.62" x2="233.2" y2="131.62" stroke="#000" stroke-width="0.8"/>
<line x1="231.4" y1="130.77" x2="233.2" y2="130.77" stroke="#000" stroke-width="0.8"/>
<line x1="231.4" y1="130.03" x2="233.2" y2="130.03" stroke="#000" stroke-width="0.8"/>
<line x1="231.4" y1="129.38" x2="233.2" y2="129.38" stroke="#000" stroke-width="0.8"/>
<line x1="231.4" y1="152.82" x2="233.2" y2="152.82" stroke="#000" stroke-width="0.8"/>
<line x1="231.4" y1="149.97" x2="233.2" y2="149.97" stroke="#000" stroke-width="0.8"/>
<line x1="231.4" y1="147.95" x2="233.2" y2="147.95" stroke="#000" stroke-width="0.8"/>
<line x1="231.4" y1="146.38" x2="233.2" y2="146.38" stroke="#000" stroke-width="0.8"/>
<line x1="231.4" y1="145.09" x2="233.2" y2="145.09" stroke="#000" stroke-width="0.8"/>
<line x1="231.4" y1="144.01" x2="233.2" y2="144.01" stroke="#000" stroke-width="0.8"/>
<line x1="231.4" y1="143.07" x2="233.2" y2="143.07" stroke="#000" stroke-width="0.8"/>
<line x1="231.4" y1="142.24" x2="233.2" y2="142.24" stroke="#000" stroke-width="0.8"/>
<line x1="231.4" y1="167" x2="233.2" y2="167" stroke="#000" stroke-width="0.8"/>
<line x1="231.4" y1="164.65" x2="233.2" y2="164.65" stroke="#000" stroke-width="0.8"/>
<line x1="231.4" y1="162.99" x2="233.2" y2="162.99" stroke="#000" stroke-width="0.8"/>
<line x1="231.4" y1="161.7" x2="233.2" y2="161.7" stroke="#000" stroke-width="0.8"/>
<line x1="231.4" y1="160.65" x2="233.2" y2="160.65" stroke="#000" stroke-width="0.8"/>
<line x1="231.4" y1="159.76" x2="233.2" y2="159.76" stroke="#000" stroke-width="0.8"/>
<line x1="231.4" y1="158.99" x2="233.2" y2="158.99" stroke="#000" stroke-width="0.8"/>
<line x1="231.4" y1="158.31" x2="233.2" y2="158.31" stroke="#000" stroke-width="0.8"/>
<line x1="231.4" y1="168.5" x2="233.2" y2="168.5" stroke="#000" stroke-width="0.8"/>
<line x1="231.4" y1="169.8" x2="233.2" y2="169.8" stroke="#000" stroke-width="0.8"/>
<line x1="231.4" y1="172.2" x2="233.2" y2="172.2" stroke="#000" stroke-width="0.8"/>
<line x1="231.4" y1="173.5" x2="233.2" y2="173.5" stroke="#000" stroke-width="0.8"/>
<line x1="231.4" y1="176" x2="233.2" y2="176" stroke="#000" stroke-width="0.8"/>
<line x1="231.4" y1="179.5" x2="233.2" y2="179.5" stroke="#000" stroke-width="0.8"/>
<line x1="234.3" y1="187.9" x2="234.3" y2="190.4" stroke="#000" stroke-width="1"/>
<line x1="236.99" y1="187.9" x2="236.99" y2="189.4" stroke="#000" stroke-width="0.7"/>
<line x1="239.68" y1="187.9" x2="239.68" y2="189.4" stroke="#000" stroke-width="0.7"/>
<line x1="242.37" y1="187.9" x2="242.37" y2="189.4" stroke="#000" stroke-width="0.7"/>
<line x1="245.06" y1="187.9" x2="245.06" y2="189.4" stroke="#000" stroke-width="0.7"/>
<text x="234.3" y="198.4" font-size="4.7" text-anchor="middle" fill="#333" stroke="none">0</text>
<line x1="247.75" y1="187.9" x2="247.75" y2="190.4" stroke="#000" stroke-width="1"/>
<line x1="250.44" y1="187.9" x2="250.44" y2="189.4" stroke="#000" stroke-width="0.7"/>
<line x1="253.13" y1="187.9" x2="253.13" y2="189.4" stroke="#000" stroke-width="0.7"/>
<line x1="255.82" y1="187.9" x2="255.82" y2="189.4" stroke="#000" stroke-width="0.7"/>
<line x1="258.51" y1="187.9" x2="258.51" y2="189.4" stroke="#000" stroke-width="0.7"/>
<text x="247.75" y="198.4" font-size="4.7" text-anchor="middle" fill="#333" stroke="none">50K</text>
<line x1="261.2" y1="187.9" x2="261.2" y2="190.4" stroke="#000" stroke-width="1"/>
<line x1="263.89" y1="187.9" x2="263.89" y2="189.4" stroke="#000" stroke-width="0.7"/>
<line x1="266.58" y1="187.9" x2="266.58" y2="189.4" stroke="#000" stroke-width="0.7"/>
<line x1="269.27" y1="187.9" x2="269.27" y2="189.4" stroke="#000" stroke-width="0.7"/>
<line x1="271.96" y1="187.9" x2="271.96" y2="189.4" stroke="#000" stroke-width="0.7"/>
<text x="261.2" y="198.4" font-size="4.7" text-anchor="middle" fill="#333" stroke="none">100K</text>
<line x1="274.65" y1="187.9" x2="274.65" y2="190.4" stroke="#000" stroke-width="1"/>
<line x1="277.34" y1="187.9" x2="277.34" y2="189.4" stroke="#000" stroke-width="0.7"/>
<line x1="280.03" y1="187.9" x2="280.03" y2="189.4" stroke="#000" stroke-width="0.7"/>
<line x1="282.72" y1="187.9" x2="282.72" y2="189.4" stroke="#000" stroke-width="0.7"/>
<line x1="285.41" y1="187.9" x2="285.41" y2="189.4" stroke="#000" stroke-width="0.7"/>
<text x="274.65" y="198.4" font-size="4.7" text-anchor="middle" fill="#333" stroke="none">150K</text>
<line x1="288.1" y1="187.9" x2="288.1" y2="190.4" stroke="#000" stroke-width="1"/>
<line x1="290.79" y1="187.9" x2="290.79" y2="189.4" stroke="#000" stroke-width="0.7"/>
<line x1="293.48" y1="187.9" x2="293.48" y2="189.4" stroke="#000" stroke-width="0.7"/>
<line x1="296.17" y1="187.9" x2="296.17" y2="189.4" stroke="#000" stroke-width="0.7"/>
<line x1="298.86" y1="187.9" x2="298.86" y2="189.4" stroke="#000" stroke-width="0.7"/>
<text x="288.1" y="198.4" font-size="4.7" text-anchor="middle" fill="#333" stroke="none">200K</text>
<line x1="301.55" y1="187.9" x2="301.55" y2="190.4" stroke="#000" stroke-width="1"/>
<text x="301.55" y="198.4" font-size="4.7" text-anchor="middle" fill="#333" stroke="none">250K</text>
<text x="268" y="174.5" font-size="6.5" text-anchor="start" fill="#2a2a2a" textLength="24.5" lengthAdjust="spacingAndGlyphs" stroke-width="0.08"><tspan font-style="italic">Thpo</tspan><tspan font-size="3.6" dy="-2.2">-/-</tspan><tspan dy="2.2"> Ro</tspan></text>
<polyline points="214.2,188 214.2,208.2 234,208.2" stroke="#000" stroke-width="1.25" fill="none" stroke-linejoin="round"/>
<polygon points="214.2,184.2 217.4,191.8 214.2,189.6 211,191.8" fill="#000"/>
<polygon points="238.8,208.2 231,211.5 233.3,208.2 231,205" fill="#000"/>
<text x="217.5" y="173.2" font-size="8.4" text-anchor="middle" fill="#1e1e1e" textLength="13.2" lengthAdjust="spacingAndGlyphs" transform="rotate(-90 217.5 173.2)">Ki67</text>
<text x="242.4" y="211.2" font-size="9.8" text-anchor="start" fill="#1e1e1e" textLength="48.2" lengthAdjust="spacingAndGlyphs">Hoechst 33342</text>
<line x1="349.5" y1="33.5" x2="349.5" y2="122.25" stroke="#000" stroke-width="1.35"/>
<line x1="346.8" y1="121.7" x2="349.5" y2="121.7" stroke="#000" stroke-width="0.95"/>
<text x="343.1" y="124.05" font-size="8" text-anchor="end" fill="#1e1e1e" textLength="3.65" lengthAdjust="spacingAndGlyphs" stroke-width="0.1">0</text>
<line x1="346.8" y1="112.1" x2="349.5" y2="112.1" stroke="#000" stroke-width="0.95"/>
<text x="343.1" y="114.45" font-size="8" text-anchor="end" fill="#1e1e1e" textLength="7.29" lengthAdjust="spacingAndGlyphs" stroke-width="0.1">10</text>
<line x1="346.8" y1="102.5" x2="349.5" y2="102.5" stroke="#000" stroke-width="0.95"/>
<text x="343.1" y="104.85" font-size="8" text-anchor="end" fill="#1e1e1e" textLength="7.29" lengthAdjust="spacingAndGlyphs" stroke-width="0.1">20</text>
<line x1="346.8" y1="92.9" x2="349.5" y2="92.9" stroke="#000" stroke-width="0.95"/>
<text x="343.1" y="95.25" font-size="8" text-anchor="end" fill="#1e1e1e" textLength="7.29" lengthAdjust="spacingAndGlyphs" stroke-width="0.1">30</text>
<line x1="346.8" y1="83.3" x2="349.5" y2="83.3" stroke="#000" stroke-width="0.95"/>
<text x="343.1" y="85.65" font-size="8" text-anchor="end" fill="#1e1e1e" textLength="7.29" lengthAdjust="spacingAndGlyphs" stroke-width="0.1">40</text>
<line x1="346.8" y1="73.7" x2="349.5" y2="73.7" stroke="#000" stroke-width="0.95"/>
<text x="343.1" y="76.05" font-size="8" text-anchor="end" fill="#1e1e1e" textLength="7.29" lengthAdjust="spacingAndGlyphs" stroke-width="0.1">50</text>
<line x1="346.8" y1="64.1" x2="349.5" y2="64.1" stroke="#000" stroke-width="0.95"/>
<text x="343.1" y="66.45" font-size="8" text-anchor="end" fill="#1e1e1e" textLength="7.29" lengthAdjust="spacingAndGlyphs" stroke-width="0.1">60</text>
<line x1="346.8" y1="54.5" x2="349.5" y2="54.5" stroke="#000" stroke-width="0.95"/>
<text x="343.1" y="56.85" font-size="8" text-anchor="end" fill="#1e1e1e" textLength="7.29" lengthAdjust="spacingAndGlyphs" stroke-width="0.1">70</text>
<line x1="346.8" y1="44.9" x2="349.5" y2="44.9" stroke="#000" stroke-width="0.95"/>
<text x="343.1" y="47.25" font-size="8" text-anchor="end" fill="#1e1e1e" textLength="7.29" lengthAdjust="spacingAndGlyphs" stroke-width="0.1">80</text>
<line x1="346.8" y1="35.3" x2="349.5" y2="35.3" stroke="#000" stroke-width="0.95"/>
<text x="343.1" y="37.65" font-size="8" text-anchor="end" fill="#1e1e1e" textLength="7.29" lengthAdjust="spacingAndGlyphs" stroke-width="0.1">90</text>
<line x1="348.85" y1="121.6" x2="425.7" y2="121.6" stroke="#000" stroke-width="1.35"/>
<text x="331" y="77" font-size="8.8" text-anchor="middle" fill="#1e1e1e" textLength="26.2" lengthAdjust="spacingAndGlyphs" transform="rotate(-90 331 77)">% phase</text>
<polyline points="359,34.4 359,31.5 379.5,31.5 379.5,34.4" stroke="#2a2a2a" stroke-width="1.1" fill="none" stroke-linejoin="round"/>
<circle cx="365.8" cy="28.6" r="0.8" fill="#111"/>
<circle cx="368.5" cy="28.6" r="0.8" fill="#111"/>
<circle cx="371.2" cy="28.6" r="0.8" fill="#111"/>
<polyline points="358.8,25.6 358.8,22.5 397.1,22.5 397.1,25.6" stroke="#2a2a2a" stroke-width="1.1" fill="none" stroke-linejoin="round"/>
<circle cx="373.4" cy="20.5" r="0.8" fill="#111"/>
<circle cx="376.1" cy="20.5" r="0.8" fill="#111"/>
<circle cx="378.8" cy="20.5" r="0.8" fill="#111"/>
<polyline points="382.3,16.45 382.3,13.75 417.3,13.75 417.3,16.45" stroke="#2a2a2a" stroke-width="1.1" fill="none" stroke-linejoin="round"/>
<circle cx="397.3" cy="10.8" r="0.8" fill="#111"/>
<circle cx="400" cy="10.8" r="0.8" fill="#111"/>
<circle cx="402.7" cy="10.8" r="0.8" fill="#111"/>
<polyline points="396.5,33.7 396.5,30.6 416.6,30.6 416.6,33.7" stroke="#2a2a2a" stroke-width="1.1" fill="none" stroke-linejoin="round"/>
<circle cx="405.9" cy="27.6" r="0.8" fill="#111"/>
<line x1="362.7" y1="46.82" x2="362.7" y2="71.78" stroke="#000" stroke-width="1"/>
<line x1="361.8" y1="46.82" x2="363.6" y2="46.82" stroke="#000" stroke-width="1"/>
<line x1="361.8" y1="71.78" x2="363.6" y2="71.78" stroke="#000" stroke-width="1"/>
<line x1="381.4" y1="113.06" x2="381.4" y2="118.82" stroke="#000" stroke-width="1"/>
<line x1="380.5" y1="113.06" x2="382.3" y2="113.06" stroke="#000" stroke-width="1"/>
<line x1="380.5" y1="118.82" x2="382.3" y2="118.82" stroke="#000" stroke-width="1"/>
<line x1="400.8" y1="82.34" x2="400.8" y2="107.88" stroke="#000" stroke-width="1"/>
<line x1="399.9" y1="82.34" x2="401.7" y2="82.34" stroke="#000" stroke-width="1"/>
<line x1="399.9" y1="107.88" x2="401.7" y2="107.88" stroke="#000" stroke-width="1"/>
<line x1="419.7" y1="62.85" x2="419.7" y2="87.43" stroke="#000" stroke-width="1"/>
<line x1="418.8" y1="62.85" x2="420.6" y2="62.85" stroke="#000" stroke-width="1"/>
<line x1="418.8" y1="87.43" x2="420.6" y2="87.43" stroke="#000" stroke-width="1"/>
<polygon points="359.7,40.89 362.2,45.84 357.2,45.84" fill="#af0630" stroke="#000" stroke-width="0.95" stroke-linejoin="miter"/>
<polygon points="359.7,47.13 362.2,52.08 357.2,52.08" fill="#af0630" stroke="#000" stroke-width="0.95" stroke-linejoin="miter"/>
<polygon points="359.7,56.73 362.2,61.68 357.2,61.68" fill="#af0630" stroke="#000" stroke-width="0.95" stroke-linejoin="miter"/>
<polygon points="359.7,67.29 362.2,72.24 357.2,72.24" fill="#af0630" stroke="#000" stroke-width="0.95" stroke-linejoin="miter"/>
<polygon points="359.7,69.88 362.2,74.83 357.2,74.83" fill="#af0630" stroke="#000" stroke-width="0.95" stroke-linejoin="miter"/>
<polygon points="378.4,110.87 380.9,115.82 375.9,115.82" fill="#1d3b7b" stroke="#000" stroke-width="0.95" stroke-linejoin="miter"/>
<polygon points="378.4,115.19 380.9,120.14 375.9,120.14" fill="#1d3b7b" stroke="#000" stroke-width="0.95" stroke-linejoin="miter"/>
<polygon points="378.4,116.92 380.9,121.87 375.9,121.87" fill="#1d3b7b" stroke="#000" stroke-width="0.95" stroke-linejoin="miter"/>
<polygon points="397.3,75.45 399.8,80.4 394.8,80.4" fill="#5a9e2f" stroke="#000" stroke-width="0.95" stroke-linejoin="miter"/>
<polygon points="397.3,86.97 399.8,91.92 394.8,91.92" fill="#5a9e2f" stroke="#000" stroke-width="0.95" stroke-linejoin="miter"/>
<polygon points="397.3,90.81 399.8,95.76 394.8,95.76" fill="#5a9e2f" stroke="#000" stroke-width="0.95" stroke-linejoin="miter"/>
<polygon points="397.3,101.37 399.8,106.32 394.8,106.32" fill="#5a9e2f" stroke="#000" stroke-width="0.95" stroke-linejoin="miter"/>
<polygon points="397.3,108.57 399.8,113.52 394.8,113.52" fill="#5a9e2f" stroke="#000" stroke-width="0.95" stroke-linejoin="miter"/>
<polygon points="416.3,62.01 418.8,66.96 413.8,66.96" fill="#e38e17" stroke="#000" stroke-width="0.95" stroke-linejoin="miter"/>
<polygon points="416.3,63.93 418.8,68.88 413.8,68.88" fill="#e38e17" stroke="#000" stroke-width="0.95" stroke-linejoin="miter"/>
<polygon points="416.3,65.85 418.8,70.8 413.8,70.8" fill="#e38e17" stroke="#000" stroke-width="0.95" stroke-linejoin="miter"/>
<polygon points="416.3,86.01 418.8,90.96 413.8,90.96" fill="#e38e17" stroke="#000" stroke-width="0.95" stroke-linejoin="miter"/>
<text x="368" y="131.4" font-size="7.2" text-anchor="end" fill="#1e1e1e" transform="rotate(-45 368 131.4)">Thpo+/+</text>
<text x="385.8" y="131.9" font-size="7.2" text-anchor="end" fill="#1e1e1e" transform="rotate(-45 385.8 131.9)">Thpo-/-</text>
<text x="405.6" y="131.4" font-size="7.2" text-anchor="end" fill="#1e1e1e" transform="rotate(-45 405.6 131.4)">Thpo+/+ Ro</text>
<text x="423.4" y="131.4" font-size="7.2" text-anchor="end" fill="#1e1e1e" transform="rotate(-45 423.4 131.4)">Thpo-/- Ro</text>
<text x="7.4" y="240.3" font-size="12.3" text-anchor="start" fill="#000" font-weight="bold">D</text>
<line x1="41.35" y1="317.75" x2="41.35" y2="302.46" stroke="#5a9e2f" stroke-width="0.9"/>
<line x1="39.95" y1="302.46" x2="42.75" y2="302.46" stroke="#5a9e2f" stroke-width="0.9"/>
<line x1="54.8" y1="321.22" x2="54.8" y2="310.8" stroke="#5a9e2f" stroke-width="0.9"/>
<line x1="53.4" y1="310.8" x2="56.2" y2="310.8" stroke="#5a9e2f" stroke-width="0.9"/>
<line x1="68.25" y1="312.19" x2="68.25" y2="299.68" stroke="#5a9e2f" stroke-width="0.9"/>
<line x1="66.85" y1="299.68" x2="69.65" y2="299.68" stroke="#5a9e2f" stroke-width="0.9"/>
<line x1="81.75" y1="320.53" x2="81.75" y2="309.41" stroke="#5a9e2f" stroke-width="0.9"/>
<line x1="80.35" y1="309.41" x2="83.15" y2="309.41" stroke="#5a9e2f" stroke-width="0.9"/>
<line x1="41.35" y1="327.48" x2="41.35" y2="320.53" stroke="#e38e17" stroke-width="0.9"/>
<line x1="39.95" y1="320.53" x2="42.75" y2="320.53" stroke="#e38e17" stroke-width="0.9"/>
<line x1="54.8" y1="309.41" x2="54.8" y2="301.07" stroke="#e38e17" stroke-width="0.9"/>
<line x1="53.4" y1="301.07" x2="56.2" y2="301.07" stroke="#e38e17" stroke-width="0.9"/>
<line x1="68.25" y1="292.73" x2="68.25" y2="281.61" stroke="#e38e17" stroke-width="0.9"/>
<line x1="66.85" y1="281.61" x2="69.65" y2="281.61" stroke="#e38e17" stroke-width="0.9"/>
<line x1="81.75" y1="289.25" x2="81.75" y2="274.66" stroke="#e38e17" stroke-width="0.9"/>
<line x1="80.35" y1="274.66" x2="83.15" y2="274.66" stroke="#e38e17" stroke-width="0.9"/>
<line x1="41.35" y1="317.75" x2="41.35" y2="309.41" stroke="#1d3b7b" stroke-width="0.9"/>
<line x1="39.95" y1="309.41" x2="42.75" y2="309.41" stroke="#1d3b7b" stroke-width="0.9"/>
<line x1="54.8" y1="298.29" x2="54.8" y2="289.95" stroke="#1d3b7b" stroke-width="0.9"/>
<line x1="53.4" y1="289.95" x2="56.2" y2="289.95" stroke="#1d3b7b" stroke-width="0.9"/>
<line x1="68.25" y1="281.61" x2="68.25" y2="271.88" stroke="#1d3b7b" stroke-width="0.9"/>
<line x1="66.85" y1="271.88" x2="69.65" y2="271.88" stroke="#1d3b7b" stroke-width="0.9"/>
<line x1="81.75" y1="277.44" x2="81.75" y2="273.96" stroke="#1d3b7b" stroke-width="0.9"/>
<line x1="80.35" y1="273.96" x2="83.15" y2="273.96" stroke="#1d3b7b" stroke-width="0.9"/>
<line x1="41.35" y1="299.68" x2="41.35" y2="294.81" stroke="#af0630" stroke-width="0.9"/>
<line x1="39.95" y1="294.81" x2="42.75" y2="294.81" stroke="#af0630" stroke-width="0.9"/>
<line x1="54.8" y1="287.87" x2="54.8" y2="279.52" stroke="#af0630" stroke-width="0.9"/>
<line x1="53.4" y1="279.52" x2="56.2" y2="279.52" stroke="#af0630" stroke-width="0.9"/>
<line x1="68.25" y1="271.19" x2="68.25" y2="264.24" stroke="#af0630" stroke-width="0.9"/>
<line x1="66.85" y1="264.24" x2="69.65" y2="264.24" stroke="#af0630" stroke-width="0.9"/>
<line x1="81.75" y1="267.01" x2="81.75" y2="262.15" stroke="#af0630" stroke-width="0.9"/>
<line x1="80.35" y1="262.15" x2="83.15" y2="262.15" stroke="#af0630" stroke-width="0.9"/>
<polyline points="41.35,317.75 54.8,321.22 68.25,312.19 81.75,320.53" stroke="#5a9e2f" stroke-width="1.5" fill="none" stroke-linejoin="round"/>
<circle cx="41.35" cy="317.75" r="2.55" fill="#5a9e2f"/>
<circle cx="54.8" cy="321.22" r="2.55" fill="#5a9e2f"/>
<circle cx="68.25" cy="312.19" r="2.55" fill="#5a9e2f"/>
<circle cx="81.75" cy="320.53" r="2.55" fill="#5a9e2f"/>
<polyline points="41.35,327.48 54.8,309.41 68.25,292.73 81.75,289.25" stroke="#e38e17" stroke-width="1.5" fill="none" stroke-linejoin="round"/>
<circle cx="41.35" cy="327.48" r="2.55" fill="#e38e17"/>
<circle cx="54.8" cy="309.41" r="2.55" fill="#e38e17"/>
<circle cx="68.25" cy="292.73" r="2.55" fill="#e38e17"/>
<circle cx="81.75" cy="289.25" r="2.55" fill="#e38e17"/>
<polyline points="41.35,317.75 54.8,298.29 68.25,281.61 81.75,277.44" stroke="#1d3b7b" stroke-width="1.5" fill="none" stroke-linejoin="round"/>
<circle cx="41.35" cy="317.75" r="2.55" fill="#1d3b7b"/>
<circle cx="54.8" cy="298.29" r="2.55" fill="#1d3b7b"/>
<circle cx="68.25" cy="281.61" r="2.55" fill="#1d3b7b"/>
<circle cx="81.75" cy="277.44" r="2.55" fill="#1d3b7b"/>
<polyline points="41.35,299.68 54.8,287.87 68.25,271.19 81.75,267.01" stroke="#af0630" stroke-width="1.5" fill="none" stroke-linejoin="round"/>
<circle cx="41.35" cy="299.68" r="2.55" fill="#af0630"/>
<circle cx="54.8" cy="287.87" r="2.55" fill="#af0630"/>
<circle cx="68.25" cy="271.19" r="2.55" fill="#af0630"/>
<circle cx="81.75" cy="267.01" r="2.55" fill="#af0630"/>
<line x1="34.6" y1="253" x2="34.6" y2="367.05" stroke="#000" stroke-width="1.35"/>
<line x1="31.9" y1="366.4" x2="34.6" y2="366.4" stroke="#000" stroke-width="0.95"/>
<text x="28.2" y="368.75" font-size="8" text-anchor="end" fill="#1e1e1e" textLength="3.65" lengthAdjust="spacingAndGlyphs" stroke-width="0.1">0</text>
<line x1="31.9" y1="352.5" x2="34.6" y2="352.5" stroke="#000" stroke-width="0.95"/>
<text x="28.2" y="354.85" font-size="8" text-anchor="end" fill="#1e1e1e" textLength="7.29" lengthAdjust="spacingAndGlyphs" stroke-width="0.1">10</text>
<line x1="31.9" y1="338.6" x2="34.6" y2="338.6" stroke="#000" stroke-width="0.95"/>
<text x="28.2" y="340.95" font-size="8" text-anchor="end" fill="#1e1e1e" textLength="7.29" lengthAdjust="spacingAndGlyphs" stroke-width="0.1">20</text>
<line x1="31.9" y1="324.7" x2="34.6" y2="324.7" stroke="#000" stroke-width="0.95"/>
<text x="28.2" y="327.05" font-size="8" text-anchor="end" fill="#1e1e1e" textLength="7.29" lengthAdjust="spacingAndGlyphs" stroke-width="0.1">30</text>
<line x1="31.9" y1="310.8" x2="34.6" y2="310.8" stroke="#000" stroke-width="0.95"/>
<text x="28.2" y="313.15" font-size="8" text-anchor="end" fill="#1e1e1e" textLength="7.29" lengthAdjust="spacingAndGlyphs" stroke-width="0.1">40</text>
<line x1="31.9" y1="296.9" x2="34.6" y2="296.9" stroke="#000" stroke-width="0.95"/>
<text x="28.2" y="299.25" font-size="8" text-anchor="end" fill="#1e1e1e" textLength="7.29" lengthAdjust="spacingAndGlyphs" stroke-width="0.1">50</text>
<line x1="31.9" y1="283" x2="34.6" y2="283" stroke="#000" stroke-width="0.95"/>
<text x="28.2" y="285.35" font-size="8" text-anchor="end" fill="#1e1e1e" textLength="7.29" lengthAdjust="spacingAndGlyphs" stroke-width="0.1">60</text>
<line x1="31.9" y1="269.1" x2="34.6" y2="269.1" stroke="#000" stroke-width="0.95"/>
<text x="28.2" y="271.45" font-size="8" text-anchor="end" fill="#1e1e1e" textLength="7.29" lengthAdjust="spacingAndGlyphs" stroke-width="0.1">70</text>
<line x1="31.9" y1="255.2" x2="34.6" y2="255.2" stroke="#000" stroke-width="0.95"/>
<text x="28.2" y="257.55" font-size="8" text-anchor="end" fill="#1e1e1e" textLength="7.29" lengthAdjust="spacingAndGlyphs" stroke-width="0.1">80</text>
<line x1="33.95" y1="366.4" x2="91.5" y2="366.4" stroke="#000" stroke-width="1.35"/>
<line x1="34.6" y1="366.4" x2="34.6" y2="369.2" stroke="#000" stroke-width="0.95"/>
<line x1="48.1" y1="366.4" x2="48.1" y2="369.2" stroke="#000" stroke-width="0.95"/>
<line x1="61.5" y1="366.4" x2="61.5" y2="369.2" stroke="#000" stroke-width="0.95"/>
<line x1="75" y1="366.4" x2="75" y2="369.2" stroke="#000" stroke-width="0.95"/>
<line x1="88.5" y1="366.4" x2="88.5" y2="369.2" stroke="#000" stroke-width="0.95"/>
<polyline points="86.6,261.3 91,261.3 91,296.7 86.6,296.7" stroke="#262626" stroke-width="1.15" fill="none" stroke-linejoin="round"/>
<text x="88.2" y="304.1" font-size="6" text-anchor="middle" fill="#444" font-style="italic" stroke="none">ns</text>
<circle cx="64.8" cy="317.7" r="0.95" fill="#1a1a1a"/>
<circle cx="78.8" cy="325" r="0.95" fill="#1a1a1a"/>
<text x="14.9" y="308.6" font-size="8.8" text-anchor="middle" fill="#1e1e1e" textLength="39.2" lengthAdjust="spacingAndGlyphs" transform="rotate(-90 14.9 308.6)">% donor cell</text>
<text x="45.55" y="376.7" font-size="7.5" text-anchor="end" fill="#1e1e1e" textLength="13.3" lengthAdjust="spacingAndGlyphs" transform="rotate(-45 45.55 376.7)">1Mo</text>
<text x="59" y="376.7" font-size="7.5" text-anchor="end" fill="#1e1e1e" textLength="13.3" lengthAdjust="spacingAndGlyphs" transform="rotate(-45 59 376.7)">2Mo</text>
<text x="72.45" y="376.7" font-size="7.5" text-anchor="end" fill="#1e1e1e" textLength="13.3" lengthAdjust="spacingAndGlyphs" transform="rotate(-45 72.45 376.7)">3Mo</text>
<text x="85.95" y="376.7" font-size="7.5" text-anchor="end" fill="#1e1e1e" textLength="13.3" lengthAdjust="spacingAndGlyphs" transform="rotate(-45 85.95 376.7)">4Mo</text>
<line x1="42.6" y1="336" x2="59.4" y2="336" stroke="#af0630" stroke-width="1.6"/>
<circle cx="50.6" cy="336" r="2.3" fill="#af0630"/>
<text x="63.1" y="338.2" font-size="6.1" text-anchor="start" fill="#222" font-style="italic" textLength="21.59" lengthAdjust="spacingAndGlyphs" stroke-width="0.1">Thpo+/+</text>
<line x1="42.6" y1="344" x2="59.4" y2="344" stroke="#5a9e2f" stroke-width="1.6"/>
<circle cx="50.6" cy="344" r="2.3" fill="#5a9e2f"/>
<text x="63.1" y="346.2" font-size="6.1" text-anchor="start" fill="#222" font-style="italic" textLength="30.6" lengthAdjust="spacingAndGlyphs" stroke-width="0.1">Thpo+/+ <tspan font-style="italic">Ro</tspan></text>
<line x1="42.6" y1="352" x2="59.4" y2="352" stroke="#1d3b7b" stroke-width="1.6"/>
<circle cx="50.6" cy="352" r="2.3" fill="#1d3b7b"/>
<text x="63.1" y="354.2" font-size="6.1" text-anchor="start" fill="#222" font-style="italic" textLength="18.68" lengthAdjust="spacingAndGlyphs" stroke-width="0.1">Thpo-/-</text>
<line x1="42.6" y1="360" x2="59.4" y2="360" stroke="#e38e17" stroke-width="1.6"/>
<circle cx="50.6" cy="360" r="2.3" fill="#e38e17"/>
<text x="63.1" y="362.2" font-size="6.1" text-anchor="start" fill="#222" font-style="italic" textLength="27.69" lengthAdjust="spacingAndGlyphs" stroke-width="0.1">Thpo-/- <tspan font-style="italic">Ro</tspan></text>
<text x="110.3" y="240.3" font-size="12.3" text-anchor="start" fill="#000" font-weight="bold">E</text>
<line x1="156.05" y1="311.77" x2="156.05" y2="305.7" stroke="#5a9e2f" stroke-width="0.9"/>
<line x1="154.65" y1="305.7" x2="157.45" y2="305.7" stroke="#5a9e2f" stroke-width="0.9"/>
<line x1="168.95" y1="302.05" x2="168.95" y2="293.55" stroke="#5a9e2f" stroke-width="0.9"/>
<line x1="167.55" y1="293.55" x2="170.35" y2="293.55" stroke="#5a9e2f" stroke-width="0.9"/>
<line x1="143.25" y1="299.62" x2="143.25" y2="289.9" stroke="#e38e17" stroke-width="0.9"/>
<line x1="141.85" y1="289.9" x2="144.65" y2="289.9" stroke="#e38e17" stroke-width="0.9"/>
<line x1="156.05" y1="295.37" x2="156.05" y2="274.11" stroke="#e38e17" stroke-width="0.9"/>
<line x1="154.65" y1="274.11" x2="157.45" y2="274.11" stroke="#e38e17" stroke-width="0.9"/>
<line x1="181.75" y1="297.19" x2="181.75" y2="275.32" stroke="#e38e17" stroke-width="0.9"/>
<line x1="180.35" y1="275.32" x2="183.15" y2="275.32" stroke="#e38e17" stroke-width="0.9"/>
<line x1="143.25" y1="294.76" x2="143.25" y2="285.65" stroke="#1d3b7b" stroke-width="0.9"/>
<line x1="141.85" y1="285.65" x2="144.65" y2="285.65" stroke="#1d3b7b" stroke-width="0.9"/>
<line x1="181.75" y1="288.08" x2="181.75" y2="285.04" stroke="#1d3b7b" stroke-width="0.9"/>
<line x1="180.35" y1="285.04" x2="183.15" y2="285.04" stroke="#1d3b7b" stroke-width="0.9"/>
<line x1="143.25" y1="277.75" x2="143.25" y2="272.89" stroke="#af0630" stroke-width="0.9"/>
<line x1="141.85" y1="272.89" x2="144.65" y2="272.89" stroke="#af0630" stroke-width="0.9"/>
<line x1="156.05" y1="280.79" x2="156.05" y2="274.11" stroke="#af0630" stroke-width="0.9"/>
<line x1="154.65" y1="274.11" x2="157.45" y2="274.11" stroke="#af0630" stroke-width="0.9"/>
<polyline points="143.25,301.45 156.05,311.77 168.95,302.05 181.75,319.06" stroke="#5a9e2f" stroke-width="1.5" fill="none" stroke-linejoin="round"/>
<circle cx="143.25" cy="301.45" r="2.55" fill="#5a9e2f"/>
<circle cx="156.05" cy="311.77" r="2.55" fill="#5a9e2f"/>
<circle cx="168.95" cy="302.05" r="2.55" fill="#5a9e2f"/>
<circle cx="181.75" cy="319.06" r="2.55" fill="#5a9e2f"/>
<polyline points="143.25,277.75 156.05,280.79 168.95,275.32 181.75,289.9" stroke="#af0630" stroke-width="1.5" fill="none" stroke-linejoin="round"/>
<circle cx="143.25" cy="277.75" r="2.55" fill="#af0630"/>
<circle cx="156.05" cy="280.79" r="2.55" fill="#af0630"/>
<circle cx="168.95" cy="275.32" r="2.55" fill="#af0630"/>
<circle cx="181.75" cy="289.9" r="2.55" fill="#af0630"/>
<polyline points="143.25,294.76 156.05,285.04 168.95,278.36 181.75,288.08" stroke="#1d3b7b" stroke-width="1.5" fill="none" stroke-linejoin="round"/>
<circle cx="143.25" cy="294.76" r="2.55" fill="#1d3b7b"/>
<circle cx="156.05" cy="285.04" r="2.55" fill="#1d3b7b"/>
<circle cx="168.95" cy="278.36" r="2.55" fill="#1d3b7b"/>
<circle cx="181.75" cy="288.08" r="2.55" fill="#1d3b7b"/>
<polyline points="143.25,299.62 156.05,295.37 168.95,271.68 181.75,297.19" stroke="#e38e17" stroke-width="1.5" fill="none" stroke-linejoin="round"/>
<circle cx="143.25" cy="299.62" r="2.55" fill="#e38e17"/>
<circle cx="156.05" cy="295.37" r="2.55" fill="#e38e17"/>
<circle cx="168.95" cy="271.68" r="2.55" fill="#e38e17"/>
<circle cx="181.75" cy="297.19" r="2.55" fill="#e38e17"/>
<line x1="136.9" y1="254.8" x2="136.9" y2="367.1" stroke="#000" stroke-width="1.35"/>
<line x1="134.2" y1="366.45" x2="136.9" y2="366.45" stroke="#000" stroke-width="0.95"/>
<text x="130.5" y="368.8" font-size="8" text-anchor="end" fill="#1e1e1e" textLength="3.65" lengthAdjust="spacingAndGlyphs" stroke-width="0.1">0</text>
<line x1="134.2" y1="354.3" x2="136.9" y2="354.3" stroke="#000" stroke-width="0.95"/>
<text x="130.5" y="356.65" font-size="8" text-anchor="end" fill="#1e1e1e" textLength="7.29" lengthAdjust="spacingAndGlyphs" stroke-width="0.1">10</text>
<line x1="134.2" y1="342.15" x2="136.9" y2="342.15" stroke="#000" stroke-width="0.95"/>
<text x="130.5" y="344.5" font-size="8" text-anchor="end" fill="#1e1e1e" textLength="7.29" lengthAdjust="spacingAndGlyphs" stroke-width="0.1">20</text>
<line x1="134.2" y1="330" x2="136.9" y2="330" stroke="#000" stroke-width="0.95"/>
<text x="130.5" y="332.35" font-size="8" text-anchor="end" fill="#1e1e1e" textLength="7.29" lengthAdjust="spacingAndGlyphs" stroke-width="0.1">30</text>
<line x1="134.2" y1="317.85" x2="136.9" y2="317.85" stroke="#000" stroke-width="0.95"/>
<text x="130.5" y="320.2" font-size="8" text-anchor="end" fill="#1e1e1e" textLength="7.29" lengthAdjust="spacingAndGlyphs" stroke-width="0.1">40</text>
<line x1="134.2" y1="305.7" x2="136.9" y2="305.7" stroke="#000" stroke-width="0.95"/>
<text x="130.5" y="308.05" font-size="8" text-anchor="end" fill="#1e1e1e" textLength="7.29" lengthAdjust="spacingAndGlyphs" stroke-width="0.1">50</text>
<line x1="134.2" y1="293.55" x2="136.9" y2="293.55" stroke="#000" stroke-width="0.95"/>
<text x="130.5" y="295.9" font-size="8" text-anchor="end" fill="#1e1e1e" textLength="7.29" lengthAdjust="spacingAndGlyphs" stroke-width="0.1">60</text>
<line x1="134.2" y1="281.4" x2="136.9" y2="281.4" stroke="#000" stroke-width="0.95"/>
<text x="130.5" y="283.75" font-size="8" text-anchor="end" fill="#1e1e1e" textLength="7.29" lengthAdjust="spacingAndGlyphs" stroke-width="0.1">70</text>
<line x1="134.2" y1="269.25" x2="136.9" y2="269.25" stroke="#000" stroke-width="0.95"/>
<text x="130.5" y="271.6" font-size="8" text-anchor="end" fill="#1e1e1e" textLength="7.29" lengthAdjust="spacingAndGlyphs" stroke-width="0.1">80</text>
<line x1="134.2" y1="257.1" x2="136.9" y2="257.1" stroke="#000" stroke-width="0.95"/>
<text x="130.5" y="259.45" font-size="8" text-anchor="end" fill="#1e1e1e" textLength="7.29" lengthAdjust="spacingAndGlyphs" stroke-width="0.1">90</text>
<line x1="136.25" y1="366.45" x2="191.1" y2="366.45" stroke="#000" stroke-width="1.35"/>
<line x1="136.9" y1="366.45" x2="136.9" y2="369.25" stroke="#000" stroke-width="0.95"/>
<line x1="149.6" y1="366.45" x2="149.6" y2="369.25" stroke="#000" stroke-width="0.95"/>
<line x1="162.5" y1="366.45" x2="162.5" y2="369.25" stroke="#000" stroke-width="0.95"/>
<line x1="175.4" y1="366.45" x2="175.4" y2="369.25" stroke="#000" stroke-width="0.95"/>
<line x1="188.1" y1="366.45" x2="188.1" y2="369.25" stroke="#000" stroke-width="0.95"/>
<polyline points="186.4,284.6 190.8,284.6 190.8,301.5 186.4,301.5" stroke="#262626" stroke-width="1.15" fill="none" stroke-linejoin="round"/>
<text x="188.5" y="281.4" font-size="5.8" text-anchor="middle" fill="#333" stroke="none">ns</text>
<circle cx="154.8" cy="317.3" r="0.95" fill="#1a1a1a"/>
<circle cx="166.9" cy="308.7" r="0.95" fill="#1a1a1a"/>
<circle cx="181.7" cy="326.9" r="0.95" fill="#1a1a1a"/>
<text x="117.1" y="309.9" font-size="8.8" text-anchor="middle" fill="#1e1e1e" textLength="70.1" lengthAdjust="spacingAndGlyphs" transform="rotate(-90 117.1 309.9)">% donor cell (GM cell)</text>
<text x="147.45" y="376.75" font-size="7.5" text-anchor="end" fill="#1e1e1e" textLength="13.3" lengthAdjust="spacingAndGlyphs" transform="rotate(-45 147.45 376.75)">1Mo</text>
<text x="160.25" y="376.75" font-size="7.5" text-anchor="end" fill="#1e1e1e" textLength="13.3" lengthAdjust="spacingAndGlyphs" transform="rotate(-45 160.25 376.75)">2Mo</text>
<text x="173.15" y="376.75" font-size="7.5" text-anchor="end" fill="#1e1e1e" textLength="13.3" lengthAdjust="spacingAndGlyphs" transform="rotate(-45 173.15 376.75)">3Mo</text>
<text x="185.95" y="376.75" font-size="7.5" text-anchor="end" fill="#1e1e1e" textLength="13.3" lengthAdjust="spacingAndGlyphs" transform="rotate(-45 185.95 376.75)">4Mo</text>
<line x1="244.75" y1="343.66" x2="244.75" y2="333.91" stroke="#5a9e2f" stroke-width="0.9"/>
<line x1="243.35" y1="333.91" x2="246.15" y2="333.91" stroke="#5a9e2f" stroke-width="0.9"/>
<line x1="257.5" y1="326.33" x2="257.5" y2="311.17" stroke="#5a9e2f" stroke-width="0.9"/>
<line x1="256.1" y1="311.17" x2="258.9" y2="311.17" stroke="#5a9e2f" stroke-width="0.9"/>
<line x1="270.25" y1="318.21" x2="270.25" y2="304.67" stroke="#5a9e2f" stroke-width="0.9"/>
<line x1="268.85" y1="304.67" x2="271.65" y2="304.67" stroke="#5a9e2f" stroke-width="0.9"/>
<line x1="283.15" y1="322" x2="283.15" y2="307.92" stroke="#5a9e2f" stroke-width="0.9"/>
<line x1="281.75" y1="307.92" x2="284.55" y2="307.92" stroke="#5a9e2f" stroke-width="0.9"/>
<line x1="270.25" y1="304.13" x2="270.25" y2="290.59" stroke="#e38e17" stroke-width="0.9"/>
<line x1="268.85" y1="290.59" x2="271.65" y2="290.59" stroke="#e38e17" stroke-width="0.9"/>
<line x1="283.15" y1="307.92" x2="283.15" y2="287.88" stroke="#e38e17" stroke-width="0.9"/>
<line x1="281.75" y1="287.88" x2="284.55" y2="287.88" stroke="#e38e17" stroke-width="0.9"/>
<line x1="244.75" y1="338.78" x2="244.75" y2="333.91" stroke="#1d3b7b" stroke-width="0.9"/>
<line x1="243.35" y1="333.91" x2="246.15" y2="333.91" stroke="#1d3b7b" stroke-width="0.9"/>
<line x1="244.75" y1="329.04" x2="244.75" y2="315.5" stroke="#af0630" stroke-width="0.9"/>
<line x1="243.35" y1="315.5" x2="246.15" y2="315.5" stroke="#af0630" stroke-width="0.9"/>
<line x1="257.5" y1="298.71" x2="257.5" y2="289.51" stroke="#af0630" stroke-width="0.9"/>
<line x1="256.1" y1="289.51" x2="258.9" y2="289.51" stroke="#af0630" stroke-width="0.9"/>
<line x1="270.25" y1="281.38" x2="270.25" y2="274.34" stroke="#af0630" stroke-width="0.9"/>
<line x1="268.85" y1="274.34" x2="271.65" y2="274.34" stroke="#af0630" stroke-width="0.9"/>
<line x1="283.15" y1="272.18" x2="283.15" y2="268.93" stroke="#af0630" stroke-width="0.9"/>
<line x1="281.75" y1="268.93" x2="284.55" y2="268.93" stroke="#af0630" stroke-width="0.9"/>
<polyline points="244.75,343.66 257.5,326.33 270.25,318.21 283.15,322" stroke="#5a9e2f" stroke-width="1.5" fill="none" stroke-linejoin="round"/>
<circle cx="244.75" cy="343.66" r="2.55" fill="#5a9e2f"/>
<circle cx="257.5" cy="326.33" r="2.55" fill="#5a9e2f"/>
<circle cx="270.25" cy="318.21" r="2.55" fill="#5a9e2f"/>
<circle cx="283.15" cy="322" r="2.55" fill="#5a9e2f"/>
<polyline points="244.75,347.99 257.5,320.91 270.25,304.13 283.15,307.92" stroke="#e38e17" stroke-width="1.5" fill="none" stroke-linejoin="round"/>
<circle cx="244.75" cy="347.99" r="2.55" fill="#e38e17"/>
<circle cx="257.5" cy="320.91" r="2.55" fill="#e38e17"/>
<circle cx="270.25" cy="304.13" r="2.55" fill="#e38e17"/>
<circle cx="283.15" cy="307.92" r="2.55" fill="#e38e17"/>
<polyline points="244.75,338.78 257.5,305.21 270.25,286.8 283.15,278.14" stroke="#1d3b7b" stroke-width="1.5" fill="none" stroke-linejoin="round"/>
<circle cx="244.75" cy="338.78" r="2.55" fill="#1d3b7b"/>
<circle cx="257.5" cy="305.21" r="2.55" fill="#1d3b7b"/>
<circle cx="270.25" cy="286.8" r="2.55" fill="#1d3b7b"/>
<circle cx="283.15" cy="278.14" r="2.55" fill="#1d3b7b"/>
<polyline points="244.75,329.04 257.5,298.71 270.25,281.38 283.15,272.18" stroke="#af0630" stroke-width="1.5" fill="none" stroke-linejoin="round"/>
<circle cx="244.75" cy="329.04" r="2.55" fill="#af0630"/>
<circle cx="257.5" cy="298.71" r="2.55" fill="#af0630"/>
<circle cx="270.25" cy="281.38" r="2.55" fill="#af0630"/>
<circle cx="283.15" cy="272.18" r="2.55" fill="#af0630"/>
<line x1="238.3" y1="255.4" x2="238.3" y2="367.05" stroke="#000" stroke-width="1.35"/>
<line x1="235.6" y1="366.4" x2="238.3" y2="366.4" stroke="#000" stroke-width="0.95"/>
<text x="231.9" y="368.75" font-size="8" text-anchor="end" fill="#1e1e1e" textLength="3.65" lengthAdjust="spacingAndGlyphs" stroke-width="0.1">0</text>
<line x1="235.6" y1="355.57" x2="238.3" y2="355.57" stroke="#000" stroke-width="0.95"/>
<text x="231.9" y="357.92" font-size="8" text-anchor="end" fill="#1e1e1e" textLength="7.29" lengthAdjust="spacingAndGlyphs" stroke-width="0.1">10</text>
<line x1="235.6" y1="344.74" x2="238.3" y2="344.74" stroke="#000" stroke-width="0.95"/>
<text x="231.9" y="347.09" font-size="8" text-anchor="end" fill="#1e1e1e" textLength="7.29" lengthAdjust="spacingAndGlyphs" stroke-width="0.1">20</text>
<line x1="235.6" y1="333.91" x2="238.3" y2="333.91" stroke="#000" stroke-width="0.95"/>
<text x="231.9" y="336.26" font-size="8" text-anchor="end" fill="#1e1e1e" textLength="7.29" lengthAdjust="spacingAndGlyphs" stroke-width="0.1">30</text>
<line x1="235.6" y1="323.08" x2="238.3" y2="323.08" stroke="#000" stroke-width="0.95"/>
<text x="231.9" y="325.43" font-size="8" text-anchor="end" fill="#1e1e1e" textLength="7.29" lengthAdjust="spacingAndGlyphs" stroke-width="0.1">40</text>
<line x1="235.6" y1="312.25" x2="238.3" y2="312.25" stroke="#000" stroke-width="0.95"/>
<text x="231.9" y="314.6" font-size="8" text-anchor="end" fill="#1e1e1e" textLength="7.29" lengthAdjust="spacingAndGlyphs" stroke-width="0.1">50</text>
<line x1="235.6" y1="301.42" x2="238.3" y2="301.42" stroke="#000" stroke-width="0.95"/>
<text x="231.9" y="303.77" font-size="8" text-anchor="end" fill="#1e1e1e" textLength="7.29" lengthAdjust="spacingAndGlyphs" stroke-width="0.1">60</text>
<line x1="235.6" y1="290.59" x2="238.3" y2="290.59" stroke="#000" stroke-width="0.95"/>
<text x="231.9" y="292.94" font-size="8" text-anchor="end" fill="#1e1e1e" textLength="7.29" lengthAdjust="spacingAndGlyphs" stroke-width="0.1">70</text>
<line x1="235.6" y1="279.76" x2="238.3" y2="279.76" stroke="#000" stroke-width="0.95"/>
<text x="231.9" y="282.11" font-size="8" text-anchor="end" fill="#1e1e1e" textLength="7.29" lengthAdjust="spacingAndGlyphs" stroke-width="0.1">80</text>
<line x1="235.6" y1="268.93" x2="238.3" y2="268.93" stroke="#000" stroke-width="0.95"/>
<text x="231.9" y="271.28" font-size="8" text-anchor="end" fill="#1e1e1e" textLength="7.29" lengthAdjust="spacingAndGlyphs" stroke-width="0.1">90</text>
<line x1="235.6" y1="258.1" x2="238.3" y2="258.1" stroke="#000" stroke-width="0.95"/>
<text x="231.9" y="260.45" font-size="8" text-anchor="end" fill="#1e1e1e" textLength="10.94" lengthAdjust="spacingAndGlyphs" stroke-width="0.1">100</text>
<line x1="237.65" y1="366.4" x2="292.6" y2="366.4" stroke="#000" stroke-width="1.35"/>
<line x1="238.3" y1="366.4" x2="238.3" y2="369.2" stroke="#000" stroke-width="0.95"/>
<line x1="251.2" y1="366.4" x2="251.2" y2="369.2" stroke="#000" stroke-width="0.95"/>
<line x1="263.8" y1="366.4" x2="263.8" y2="369.2" stroke="#000" stroke-width="0.95"/>
<line x1="276.7" y1="366.4" x2="276.7" y2="369.2" stroke="#000" stroke-width="0.95"/>
<line x1="289.6" y1="366.4" x2="289.6" y2="369.2" stroke="#000" stroke-width="0.95"/>
<polyline points="286.2,263.5 290.6,263.5 290.6,278.3 286.2,278.3" stroke="#262626" stroke-width="1.15" fill="none" stroke-linejoin="round"/>
<text x="288" y="259.7" font-size="5.8" text-anchor="middle" fill="#333" stroke="none">ns</text>
<circle cx="268.7" cy="323" r="0.95" fill="#1a1a1a"/>
<circle cx="281.2" cy="327.9" r="0.95" fill="#1a1a1a"/>
<circle cx="287.3" cy="301" r="0.95" fill="#1a1a1a"/>
<text x="215.1" y="310" font-size="8.8" text-anchor="middle" fill="#1e1e1e" textLength="63.1" lengthAdjust="spacingAndGlyphs" transform="rotate(-90 215.1 310)">% donor cell (B cell)</text>
<text x="248.95" y="376.7" font-size="7.5" text-anchor="end" fill="#1e1e1e" textLength="13.3" lengthAdjust="spacingAndGlyphs" transform="rotate(-45 248.95 376.7)">1Mo</text>
<text x="261.7" y="376.7" font-size="7.5" text-anchor="end" fill="#1e1e1e" textLength="13.3" lengthAdjust="spacingAndGlyphs" transform="rotate(-45 261.7 376.7)">2Mo</text>
<text x="274.45" y="376.7" font-size="7.5" text-anchor="end" fill="#1e1e1e" textLength="13.3" lengthAdjust="spacingAndGlyphs" transform="rotate(-45 274.45 376.7)">3Mo</text>
<text x="287.35" y="376.7" font-size="7.5" text-anchor="end" fill="#1e1e1e" textLength="13.3" lengthAdjust="spacingAndGlyphs" transform="rotate(-45 287.35 376.7)">4Mo</text>
<line x1="367.75" y1="333.11" x2="367.75" y2="319.84" stroke="#5a9e2f" stroke-width="0.9"/>
<line x1="366.35" y1="319.84" x2="369.15" y2="319.84" stroke="#5a9e2f" stroke-width="0.9"/>
<line x1="380.55" y1="325.61" x2="380.55" y2="316.95" stroke="#5a9e2f" stroke-width="0.9"/>
<line x1="379.15" y1="316.95" x2="381.95" y2="316.95" stroke="#5a9e2f" stroke-width="0.9"/>
<line x1="354.9" y1="335.42" x2="354.9" y2="331.38" stroke="#e38e17" stroke-width="0.9"/>
<line x1="353.5" y1="331.38" x2="356.3" y2="331.38" stroke="#e38e17" stroke-width="0.9"/>
<line x1="367.75" y1="319.84" x2="367.75" y2="308.3" stroke="#e38e17" stroke-width="0.9"/>
<line x1="366.35" y1="308.3" x2="369.15" y2="308.3" stroke="#e38e17" stroke-width="0.9"/>
<line x1="380.55" y1="304.84" x2="380.55" y2="285.22" stroke="#e38e17" stroke-width="0.9"/>
<line x1="379.15" y1="285.22" x2="381.95" y2="285.22" stroke="#e38e17" stroke-width="0.9"/>
<line x1="354.9" y1="333.69" x2="354.9" y2="330.23" stroke="#1d3b7b" stroke-width="0.9"/>
<line x1="353.5" y1="330.23" x2="356.3" y2="330.23" stroke="#1d3b7b" stroke-width="0.9"/>
<line x1="367.75" y1="311.19" x2="367.75" y2="306.57" stroke="#1d3b7b" stroke-width="0.9"/>
<line x1="366.35" y1="306.57" x2="369.15" y2="306.57" stroke="#1d3b7b" stroke-width="0.9"/>
<line x1="380.55" y1="289.26" x2="380.55" y2="286.37" stroke="#1d3b7b" stroke-width="0.9"/>
<line x1="379.15" y1="286.37" x2="381.95" y2="286.37" stroke="#1d3b7b" stroke-width="0.9"/>
<line x1="354.9" y1="318.69" x2="354.9" y2="311.19" stroke="#af0630" stroke-width="0.9"/>
<line x1="353.5" y1="311.19" x2="356.3" y2="311.19" stroke="#af0630" stroke-width="0.9"/>
<line x1="367.75" y1="294.45" x2="367.75" y2="287.53" stroke="#af0630" stroke-width="0.9"/>
<line x1="366.35" y1="287.53" x2="369.15" y2="287.53" stroke="#af0630" stroke-width="0.9"/>
<line x1="380.55" y1="280.03" x2="380.55" y2="276.56" stroke="#af0630" stroke-width="0.9"/>
<line x1="379.15" y1="276.56" x2="381.95" y2="276.56" stroke="#af0630" stroke-width="0.9"/>
<polyline points="342.15,364.85 354.9,342.92 367.75,333.11 380.55,325.61" stroke="#5a9e2f" stroke-width="1.5" fill="none" stroke-linejoin="round"/>
<circle cx="342.15" cy="364.85" r="2.55" fill="#5a9e2f"/>
<circle cx="354.9" cy="342.92" r="2.55" fill="#5a9e2f"/>
<circle cx="367.75" cy="333.11" r="2.55" fill="#5a9e2f"/>
<circle cx="380.55" cy="325.61" r="2.55" fill="#5a9e2f"/>
<polyline points="342.15,365.42 354.9,333.69 367.75,311.19 380.55,289.26" stroke="#1d3b7b" stroke-width="1.5" fill="none" stroke-linejoin="round"/>
<circle cx="342.15" cy="365.42" r="2.55" fill="#1d3b7b"/>
<circle cx="354.9" cy="333.69" r="2.55" fill="#1d3b7b"/>
<circle cx="367.75" cy="311.19" r="2.55" fill="#1d3b7b"/>
<circle cx="380.55" cy="289.26" r="2.55" fill="#1d3b7b"/>
<polyline points="342.15,364.27 354.9,318.69 367.75,294.45 380.55,280.03" stroke="#af0630" stroke-width="1.5" fill="none" stroke-linejoin="round"/>
<circle cx="342.15" cy="364.27" r="2.55" fill="#af0630"/>
<circle cx="354.9" cy="318.69" r="2.55" fill="#af0630"/>
<circle cx="367.75" cy="294.45" r="2.55" fill="#af0630"/>
<circle cx="380.55" cy="280.03" r="2.55" fill="#af0630"/>
<polyline points="342.15,364.85 354.9,335.42 367.75,319.84 380.55,304.84" stroke="#e38e17" stroke-width="1.5" fill="none" stroke-linejoin="round"/>
<circle cx="342.15" cy="364.85" r="2.55" fill="#e38e17"/>
<circle cx="354.9" cy="335.42" r="2.55" fill="#e38e17"/>
<circle cx="367.75" cy="319.84" r="2.55" fill="#e38e17"/>
<circle cx="380.55" cy="304.84" r="2.55" fill="#e38e17"/>
<line x1="335.8" y1="259.2" x2="335.8" y2="366.65" stroke="#000" stroke-width="1.35"/>
<line x1="333.1" y1="366" x2="335.8" y2="366" stroke="#000" stroke-width="0.95"/>
<text x="329.4" y="368.35" font-size="8" text-anchor="end" fill="#1e1e1e" textLength="3.65" lengthAdjust="spacingAndGlyphs" stroke-width="0.1">0</text>
<line x1="333.1" y1="354.46" x2="335.8" y2="354.46" stroke="#000" stroke-width="0.95"/>
<text x="329.4" y="356.81" font-size="8" text-anchor="end" fill="#1e1e1e" textLength="7.29" lengthAdjust="spacingAndGlyphs" stroke-width="0.1">10</text>
<line x1="333.1" y1="342.92" x2="335.8" y2="342.92" stroke="#000" stroke-width="0.95"/>
<text x="329.4" y="345.27" font-size="8" text-anchor="end" fill="#1e1e1e" textLength="7.29" lengthAdjust="spacingAndGlyphs" stroke-width="0.1">20</text>
<line x1="333.1" y1="331.38" x2="335.8" y2="331.38" stroke="#000" stroke-width="0.95"/>
<text x="329.4" y="333.73" font-size="8" text-anchor="end" fill="#1e1e1e" textLength="7.29" lengthAdjust="spacingAndGlyphs" stroke-width="0.1">30</text>
<line x1="333.1" y1="319.84" x2="335.8" y2="319.84" stroke="#000" stroke-width="0.95"/>
<text x="329.4" y="322.19" font-size="8" text-anchor="end" fill="#1e1e1e" textLength="7.29" lengthAdjust="spacingAndGlyphs" stroke-width="0.1">40</text>
<line x1="333.1" y1="308.3" x2="335.8" y2="308.3" stroke="#000" stroke-width="0.95"/>
<text x="329.4" y="310.65" font-size="8" text-anchor="end" fill="#1e1e1e" textLength="7.29" lengthAdjust="spacingAndGlyphs" stroke-width="0.1">50</text>
<line x1="333.1" y1="296.76" x2="335.8" y2="296.76" stroke="#000" stroke-width="0.95"/>
<text x="329.4" y="299.11" font-size="8" text-anchor="end" fill="#1e1e1e" textLength="7.29" lengthAdjust="spacingAndGlyphs" stroke-width="0.1">60</text>
<line x1="333.1" y1="285.22" x2="335.8" y2="285.22" stroke="#000" stroke-width="0.95"/>
<text x="329.4" y="287.57" font-size="8" text-anchor="end" fill="#1e1e1e" textLength="7.29" lengthAdjust="spacingAndGlyphs" stroke-width="0.1">70</text>
<line x1="333.1" y1="273.68" x2="335.8" y2="273.68" stroke="#000" stroke-width="0.95"/>
<text x="329.4" y="276.03" font-size="8" text-anchor="end" fill="#1e1e1e" textLength="7.29" lengthAdjust="spacingAndGlyphs" stroke-width="0.1">80</text>
<line x1="333.1" y1="262.14" x2="335.8" y2="262.14" stroke="#000" stroke-width="0.95"/>
<text x="329.4" y="264.49" font-size="8" text-anchor="end" fill="#1e1e1e" textLength="7.29" lengthAdjust="spacingAndGlyphs" stroke-width="0.1">90</text>
<line x1="335.15" y1="366" x2="389.9" y2="366" stroke="#000" stroke-width="1.35"/>
<line x1="335.8" y1="366" x2="335.8" y2="368.8" stroke="#000" stroke-width="0.95"/>
<line x1="348.5" y1="366" x2="348.5" y2="368.8" stroke="#000" stroke-width="0.95"/>
<line x1="361.3" y1="366" x2="361.3" y2="368.8" stroke="#000" stroke-width="0.95"/>
<line x1="374.2" y1="366" x2="374.2" y2="368.8" stroke="#000" stroke-width="0.95"/>
<line x1="386.9" y1="366" x2="386.9" y2="368.8" stroke="#000" stroke-width="0.95"/>
<polyline points="384.8,279 389.2,279 389.2,301.3 384.8,301.3" stroke="#262626" stroke-width="1.15" fill="none" stroke-linejoin="round"/>
<text x="384.2" y="271.9" font-size="5.8" text-anchor="middle" fill="#333" stroke="none">ns</text>
<circle cx="370.4" cy="338.5" r="0.95" fill="#1a1a1a"/>
<circle cx="382.5" cy="331.3" r="0.95" fill="#1a1a1a"/>
<text x="315.5" y="312" font-size="8.8" text-anchor="middle" fill="#1e1e1e" textLength="60.9" lengthAdjust="spacingAndGlyphs" transform="rotate(-90 315.5 312)">% donor cell (T cell)</text>
<text x="345.85" y="378.6" font-size="7.5" text-anchor="end" fill="#1e1e1e" textLength="13.3" lengthAdjust="spacingAndGlyphs" transform="rotate(-45 345.85 378.6)">1Mo</text>
<text x="358.6" y="378.6" font-size="7.5" text-anchor="end" fill="#1e1e1e" textLength="13.3" lengthAdjust="spacingAndGlyphs" transform="rotate(-45 358.6 378.6)">2Mo</text>
<text x="371.45" y="378.6" font-size="7.5" text-anchor="end" fill="#1e1e1e" textLength="13.3" lengthAdjust="spacingAndGlyphs" transform="rotate(-45 371.45 378.6)">3Mo</text>
<text x="384.25" y="378.6" font-size="7.5" text-anchor="end" fill="#1e1e1e" textLength="13.3" lengthAdjust="spacingAndGlyphs" transform="rotate(-45 384.25 378.6)">4Mo</text>
<text x="406.3" y="240.3" font-size="12.3" text-anchor="start" fill="#000" font-weight="bold">F</text>
<line x1="433.2" y1="258.8" x2="433.2" y2="366.85" stroke="#000" stroke-width="1.35"/>
<line x1="430.5" y1="366.2" x2="433.2" y2="366.2" stroke="#000" stroke-width="0.95"/>
<text x="426.8" y="368.55" font-size="8" text-anchor="end" fill="#1e1e1e" textLength="3.65" lengthAdjust="spacingAndGlyphs" stroke-width="0.1">0</text>
<line x1="430.5" y1="353.12" x2="433.2" y2="353.12" stroke="#000" stroke-width="0.95"/>
<text x="426.8" y="355.47" font-size="8" text-anchor="end" fill="#1e1e1e" textLength="7.29" lengthAdjust="spacingAndGlyphs" stroke-width="0.1">10</text>
<line x1="430.5" y1="340.04" x2="433.2" y2="340.04" stroke="#000" stroke-width="0.95"/>
<text x="426.8" y="342.39" font-size="8" text-anchor="end" fill="#1e1e1e" textLength="7.29" lengthAdjust="spacingAndGlyphs" stroke-width="0.1">20</text>
<line x1="430.5" y1="326.96" x2="433.2" y2="326.96" stroke="#000" stroke-width="0.95"/>
<text x="426.8" y="329.31" font-size="8" text-anchor="end" fill="#1e1e1e" textLength="7.29" lengthAdjust="spacingAndGlyphs" stroke-width="0.1">30</text>
<line x1="430.5" y1="313.88" x2="433.2" y2="313.88" stroke="#000" stroke-width="0.95"/>
<text x="426.8" y="316.23" font-size="8" text-anchor="end" fill="#1e1e1e" textLength="7.29" lengthAdjust="spacingAndGlyphs" stroke-width="0.1">40</text>
<line x1="430.5" y1="300.8" x2="433.2" y2="300.8" stroke="#000" stroke-width="0.95"/>
<text x="426.8" y="303.15" font-size="8" text-anchor="end" fill="#1e1e1e" textLength="7.29" lengthAdjust="spacingAndGlyphs" stroke-width="0.1">50</text>
<line x1="430.5" y1="287.72" x2="433.2" y2="287.72" stroke="#000" stroke-width="0.95"/>
<text x="426.8" y="290.07" font-size="8" text-anchor="end" fill="#1e1e1e" textLength="7.29" lengthAdjust="spacingAndGlyphs" stroke-width="0.1">60</text>
<line x1="430.5" y1="274.64" x2="433.2" y2="274.64" stroke="#000" stroke-width="0.95"/>
<text x="426.8" y="276.99" font-size="8" text-anchor="end" fill="#1e1e1e" textLength="7.29" lengthAdjust="spacingAndGlyphs" stroke-width="0.1">70</text>
<line x1="430.5" y1="261.56" x2="433.2" y2="261.56" stroke="#000" stroke-width="0.95"/>
<text x="426.8" y="263.91" font-size="8" text-anchor="end" fill="#1e1e1e" textLength="7.29" lengthAdjust="spacingAndGlyphs" stroke-width="0.1">80</text>
<line x1="432.55" y1="366.2" x2="498" y2="366.2" stroke="#000" stroke-width="1.35"/>
<text x="414.4" y="312" font-size="8.8" text-anchor="middle" fill="#1e1e1e" textLength="42.5" lengthAdjust="spacingAndGlyphs" transform="rotate(-90 414.4 312)">% donor cells</text>
<polyline points="440.2,258.1 440.2,253.1 457.8,253.1 457.8,258.1" stroke="#2a2a2a" stroke-width="1.1" fill="none" stroke-linejoin="round"/>
<circle cx="449.1" cy="250.4" r="0.8" fill="#111"/>
<polyline points="473.4,258.1 473.4,253.1 491,253.1 491,258.1" stroke="#2a2a2a" stroke-width="1.1" fill="none" stroke-linejoin="round"/>
<text x="482.1" y="250.6" font-size="6.2" text-anchor="middle" fill="#333" stroke="none">ns</text>
<line x1="443.8" y1="272.02" x2="443.8" y2="319.77" stroke="#000" stroke-width="1"/>
<line x1="442.9" y1="272.02" x2="444.7" y2="272.02" stroke="#000" stroke-width="1"/>
<line x1="442.9" y1="319.77" x2="444.7" y2="319.77" stroke="#000" stroke-width="1"/>
<line x1="460.7" y1="321.07" x2="460.7" y2="345.93" stroke="#000" stroke-width="1"/>
<line x1="459.8" y1="321.07" x2="461.6" y2="321.07" stroke="#000" stroke-width="1"/>
<line x1="459.8" y1="345.93" x2="461.6" y2="345.93" stroke="#000" stroke-width="1"/>
<line x1="476.6" y1="282.49" x2="476.6" y2="313.88" stroke="#000" stroke-width="1"/>
<line x1="475.7" y1="282.49" x2="477.5" y2="282.49" stroke="#000" stroke-width="1"/>
<line x1="475.7" y1="313.88" x2="477.5" y2="313.88" stroke="#000" stroke-width="1"/>
<line x1="492.7" y1="277.26" x2="492.7" y2="295.57" stroke="#000" stroke-width="1"/>
<line x1="491.8" y1="277.26" x2="493.6" y2="277.26" stroke="#000" stroke-width="1"/>
<line x1="491.8" y1="295.57" x2="493.6" y2="295.57" stroke="#000" stroke-width="1"/>
<polygon points="441.5,267.67 444,272.62 439,272.62" fill="#af0630" stroke="#000" stroke-width="0.95" stroke-linejoin="miter"/>
<polygon points="441.5,274.21 444,279.16 439,279.16" fill="#af0630" stroke="#000" stroke-width="0.95" stroke-linejoin="miter"/>
<polygon points="441.5,276.82 444,281.77 439,281.77" fill="#af0630" stroke="#000" stroke-width="0.95" stroke-linejoin="miter"/>
<polygon points="441.5,305.6 444,310.55 439,310.55" fill="#af0630" stroke="#000" stroke-width="0.95" stroke-linejoin="miter"/>
<polygon points="441.5,313.45 444,318.4 439,318.4" fill="#af0630" stroke="#000" stroke-width="0.95" stroke-linejoin="miter"/>
<polygon points="441.5,323.91 444,328.86 439,328.86" fill="#af0630" stroke="#000" stroke-width="0.95" stroke-linejoin="miter"/>
<polygon points="457.5,318.68 460,323.63 455,323.63" fill="#5a9e2f" stroke="#000" stroke-width="0.95" stroke-linejoin="miter"/>
<polygon points="457.5,323.91 460,328.86 455,328.86" fill="#5a9e2f" stroke="#000" stroke-width="0.95" stroke-linejoin="miter"/>
<polygon points="457.5,324.56 460,329.51 455,329.51" fill="#5a9e2f" stroke="#000" stroke-width="0.95" stroke-linejoin="miter"/>
<polygon points="457.5,338.56 460,343.51 455,343.51" fill="#5a9e2f" stroke="#000" stroke-width="0.95" stroke-linejoin="miter"/>
<polygon points="457.5,349.15 460,354.1 455,354.1" fill="#5a9e2f" stroke="#000" stroke-width="0.95" stroke-linejoin="miter"/>
<polygon points="473.4,284.67 475.9,289.62 470.9,289.62" fill="#1d3b7b" stroke="#000" stroke-width="0.95" stroke-linejoin="miter"/>
<polygon points="473.4,287.29 475.9,292.24 470.9,292.24" fill="#1d3b7b" stroke="#000" stroke-width="0.95" stroke-linejoin="miter"/>
<polygon points="473.4,291.21 475.9,296.16 470.9,296.16" fill="#1d3b7b" stroke="#000" stroke-width="0.95" stroke-linejoin="miter"/>
<polygon points="473.4,322.6 475.9,327.55 470.9,327.55" fill="#1d3b7b" stroke="#000" stroke-width="0.95" stroke-linejoin="miter"/>
<polygon points="489.9,271.59 492.4,276.54 487.4,276.54" fill="#e38e17" stroke="#000" stroke-width="0.95" stroke-linejoin="miter"/>
<polygon points="489.9,276.82 492.4,281.77 487.4,281.77" fill="#e38e17" stroke="#000" stroke-width="0.95" stroke-linejoin="miter"/>
<polygon points="489.9,280.75 492.4,285.7 487.4,285.7" fill="#e38e17" stroke="#000" stroke-width="0.95" stroke-linejoin="miter"/>
<polygon points="489.9,284.67 492.4,289.62 487.4,289.62" fill="#e38e17" stroke="#000" stroke-width="0.95" stroke-linejoin="miter"/>
<polygon points="489.9,288.59 492.4,293.54 487.4,293.54" fill="#e38e17" stroke="#000" stroke-width="0.95" stroke-linejoin="miter"/>
<polygon points="489.9,291.21 492.4,296.16 487.4,296.16" fill="#e38e17" stroke="#000" stroke-width="0.95" stroke-linejoin="miter"/>
<text x="449.7" y="375.4" font-size="7.2" text-anchor="end" fill="#1e1e1e" transform="rotate(-45 449.7 375.4)">Thpo+/+</text>
<text x="466.5" y="375.5" font-size="7.2" text-anchor="end" fill="#1e1e1e" transform="rotate(-45 466.5 375.5)">Thpo+/+ Ro</text>
<text x="481.8" y="375.5" font-size="7.2" text-anchor="end" fill="#1e1e1e" transform="rotate(-45 481.8 375.5)">Thpo-/-</text>
<text x="497.3" y="375.5" font-size="7.2" text-anchor="end" fill="#1e1e1e" transform="rotate(-45 497.3 375.5)">Thpo-/- Ro</text>
<text x="7.4" y="424.3" font-size="12.3" text-anchor="start" fill="#000" font-weight="bold">G</text>
<line x1="41.55" y1="487.92" x2="41.55" y2="472.3" stroke="#5a9e2f" stroke-width="0.9"/>
<line x1="40.15" y1="472.3" x2="42.95" y2="472.3" stroke="#5a9e2f" stroke-width="0.9"/>
<line x1="55.5" y1="502.3" x2="55.5" y2="493.55" stroke="#5a9e2f" stroke-width="0.9"/>
<line x1="54.1" y1="493.55" x2="56.9" y2="493.55" stroke="#5a9e2f" stroke-width="0.9"/>
<line x1="69.4" y1="510.42" x2="69.4" y2="503.55" stroke="#5a9e2f" stroke-width="0.9"/>
<line x1="68" y1="503.55" x2="70.8" y2="503.55" stroke="#5a9e2f" stroke-width="0.9"/>
<line x1="83.35" y1="515.42" x2="83.35" y2="512.3" stroke="#5a9e2f" stroke-width="0.9"/>
<line x1="81.95" y1="512.3" x2="84.75" y2="512.3" stroke="#5a9e2f" stroke-width="0.9"/>
<line x1="83.35" y1="474.17" x2="83.35" y2="464.17" stroke="#af0630" stroke-width="0.9"/>
<line x1="81.95" y1="464.17" x2="84.75" y2="464.17" stroke="#af0630" stroke-width="0.9"/>
<line x1="41.55" y1="467.3" x2="41.55" y2="461.05" stroke="#1d3b7b" stroke-width="0.9"/>
<line x1="40.15" y1="461.05" x2="42.95" y2="461.05" stroke="#1d3b7b" stroke-width="0.9"/>
<line x1="55.5" y1="461.05" x2="55.5" y2="449.8" stroke="#1d3b7b" stroke-width="0.9"/>
<line x1="54.1" y1="449.8" x2="56.9" y2="449.8" stroke="#1d3b7b" stroke-width="0.9"/>
<line x1="55.5" y1="456.05" x2="55.5" y2="451.05" stroke="#e38e17" stroke-width="0.9"/>
<line x1="54.1" y1="451.05" x2="56.9" y2="451.05" stroke="#e38e17" stroke-width="0.9"/>
<line x1="69.4" y1="458.55" x2="69.4" y2="452.92" stroke="#e38e17" stroke-width="0.9"/>
<line x1="68" y1="452.92" x2="70.8" y2="452.92" stroke="#e38e17" stroke-width="0.9"/>
<line x1="83.35" y1="456.67" x2="83.35" y2="452.3" stroke="#e38e17" stroke-width="0.9"/>
<line x1="81.95" y1="452.3" x2="84.75" y2="452.3" stroke="#e38e17" stroke-width="0.9"/>
<polyline points="41.55,487.92 55.5,502.3 69.4,510.42 83.35,515.42" stroke="#5a9e2f" stroke-width="1.5" fill="none" stroke-linejoin="round"/>
<circle cx="41.55" cy="487.92" r="2.55" fill="#5a9e2f"/>
<circle cx="55.5" cy="502.3" r="2.55" fill="#5a9e2f"/>
<circle cx="69.4" cy="510.42" r="2.55" fill="#5a9e2f"/>
<circle cx="83.35" cy="515.42" r="2.55" fill="#5a9e2f"/>
<polyline points="41.55,471.05 55.5,471.05 69.4,468.55 83.35,474.17" stroke="#af0630" stroke-width="1.5" fill="none" stroke-linejoin="round"/>
<circle cx="41.55" cy="471.05" r="2.55" fill="#af0630"/>
<circle cx="55.5" cy="471.05" r="2.55" fill="#af0630"/>
<circle cx="69.4" cy="468.55" r="2.55" fill="#af0630"/>
<circle cx="83.35" cy="474.17" r="2.55" fill="#af0630"/>
<polyline points="41.55,467.3 55.5,461.05 69.4,464.17 83.35,458.55" stroke="#1d3b7b" stroke-width="1.5" fill="none" stroke-linejoin="round"/>
<circle cx="41.55" cy="467.3" r="2.55" fill="#1d3b7b"/>
<circle cx="55.5" cy="461.05" r="2.55" fill="#1d3b7b"/>
<circle cx="69.4" cy="464.17" r="2.55" fill="#1d3b7b"/>
<circle cx="83.35" cy="458.55" r="2.55" fill="#1d3b7b"/>
<polyline points="41.55,471.05 55.5,456.05 69.4,458.55 83.35,456.67" stroke="#e38e17" stroke-width="1.5" fill="none" stroke-linejoin="round"/>
<circle cx="41.55" cy="471.05" r="2.55" fill="#e38e17"/>
<circle cx="55.5" cy="456.05" r="2.55" fill="#e38e17"/>
<circle cx="69.4" cy="458.55" r="2.55" fill="#e38e17"/>
<circle cx="83.35" cy="456.67" r="2.55" fill="#e38e17"/>
<line x1="34.6" y1="439.8" x2="34.6" y2="555.45" stroke="#000" stroke-width="1.35"/>
<line x1="31.9" y1="554.8" x2="34.6" y2="554.8" stroke="#000" stroke-width="0.95"/>
<text x="28.2" y="557.15" font-size="8" text-anchor="end" fill="#1e1e1e" textLength="3.65" lengthAdjust="spacingAndGlyphs" stroke-width="0.1">0</text>
<line x1="31.9" y1="542.3" x2="34.6" y2="542.3" stroke="#000" stroke-width="0.95"/>
<text x="28.2" y="544.65" font-size="8" text-anchor="end" fill="#1e1e1e" textLength="7.29" lengthAdjust="spacingAndGlyphs" stroke-width="0.1">10</text>
<line x1="31.9" y1="529.8" x2="34.6" y2="529.8" stroke="#000" stroke-width="0.95"/>
<text x="28.2" y="532.15" font-size="8" text-anchor="end" fill="#1e1e1e" textLength="7.29" lengthAdjust="spacingAndGlyphs" stroke-width="0.1">20</text>
<line x1="31.9" y1="517.3" x2="34.6" y2="517.3" stroke="#000" stroke-width="0.95"/>
<text x="28.2" y="519.65" font-size="8" text-anchor="end" fill="#1e1e1e" textLength="7.29" lengthAdjust="spacingAndGlyphs" stroke-width="0.1">30</text>
<line x1="31.9" y1="504.8" x2="34.6" y2="504.8" stroke="#000" stroke-width="0.95"/>
<text x="28.2" y="507.15" font-size="8" text-anchor="end" fill="#1e1e1e" textLength="7.29" lengthAdjust="spacingAndGlyphs" stroke-width="0.1">40</text>
<line x1="31.9" y1="492.3" x2="34.6" y2="492.3" stroke="#000" stroke-width="0.95"/>
<text x="28.2" y="494.65" font-size="8" text-anchor="end" fill="#1e1e1e" textLength="7.29" lengthAdjust="spacingAndGlyphs" stroke-width="0.1">50</text>
<line x1="31.9" y1="479.8" x2="34.6" y2="479.8" stroke="#000" stroke-width="0.95"/>
<text x="28.2" y="482.15" font-size="8" text-anchor="end" fill="#1e1e1e" textLength="7.29" lengthAdjust="spacingAndGlyphs" stroke-width="0.1">60</text>
<line x1="31.9" y1="467.3" x2="34.6" y2="467.3" stroke="#000" stroke-width="0.95"/>
<text x="28.2" y="469.65" font-size="8" text-anchor="end" fill="#1e1e1e" textLength="7.29" lengthAdjust="spacingAndGlyphs" stroke-width="0.1">70</text>
<line x1="31.9" y1="454.8" x2="34.6" y2="454.8" stroke="#000" stroke-width="0.95"/>
<text x="28.2" y="457.15" font-size="8" text-anchor="end" fill="#1e1e1e" textLength="7.29" lengthAdjust="spacingAndGlyphs" stroke-width="0.1">80</text>
<line x1="31.9" y1="442.3" x2="34.6" y2="442.3" stroke="#000" stroke-width="0.95"/>
<text x="28.2" y="444.65" font-size="8" text-anchor="end" fill="#1e1e1e" textLength="7.29" lengthAdjust="spacingAndGlyphs" stroke-width="0.1">90</text>
<line x1="33.95" y1="554.8" x2="93.4" y2="554.8" stroke="#000" stroke-width="1.35"/>
<line x1="34.6" y1="554.8" x2="34.6" y2="557.6" stroke="#000" stroke-width="0.95"/>
<line x1="48.5" y1="554.8" x2="48.5" y2="557.6" stroke="#000" stroke-width="0.95"/>
<line x1="62.5" y1="554.8" x2="62.5" y2="557.6" stroke="#000" stroke-width="0.95"/>
<line x1="76.3" y1="554.8" x2="76.3" y2="557.6" stroke="#000" stroke-width="0.95"/>
<line x1="90.4" y1="554.8" x2="90.4" y2="557.6" stroke="#000" stroke-width="0.95"/>
<polyline points="90.4,455.8 94.8,455.8 94.8,473.1 90.4,473.1" stroke="#262626" stroke-width="1.15" fill="none" stroke-linejoin="round"/>
<text x="92.3" y="452.8" font-size="5.8" text-anchor="middle" fill="#333" stroke="none">ns</text>
<circle cx="42.3" cy="496.9" r="0.95" fill="#1a1a1a"/>
<circle cx="55.4" cy="486.5" r="0.95" fill="#1a1a1a"/>
<circle cx="69.2" cy="496.3" r="0.95" fill="#1a1a1a"/>
<circle cx="83.1" cy="504.4" r="0.95" fill="#1a1a1a"/>
<text x="14.9" y="496.8" font-size="8.8" text-anchor="middle" fill="#1e1e1e" textLength="39.5" lengthAdjust="spacingAndGlyphs" transform="rotate(-90 14.9 496.8)">% donor cell</text>
<text x="45.75" y="565.1" font-size="7.5" text-anchor="end" fill="#1e1e1e" textLength="13.3" lengthAdjust="spacingAndGlyphs" transform="rotate(-45 45.75 565.1)">1Mo</text>
<text x="59.7" y="565.1" font-size="7.5" text-anchor="end" fill="#1e1e1e" textLength="13.3" lengthAdjust="spacingAndGlyphs" transform="rotate(-45 59.7 565.1)">2Mo</text>
<text x="73.6" y="565.1" font-size="7.5" text-anchor="end" fill="#1e1e1e" textLength="13.3" lengthAdjust="spacingAndGlyphs" transform="rotate(-45 73.6 565.1)">3Mo</text>
<text x="87.55" y="565.1" font-size="7.5" text-anchor="end" fill="#1e1e1e" textLength="13.3" lengthAdjust="spacingAndGlyphs" transform="rotate(-45 87.55 565.1)">4Mo</text>
<g opacity="1">
<line x1="43.3" y1="528.5" x2="59.6" y2="528.5" stroke="#af0630" stroke-width="1.6"/>
<circle cx="51.3" cy="528.5" r="2.3" fill="#af0630"/>
</g>
<text x="63.8" y="530.7" font-size="6" text-anchor="start" fill="#222" font-style="italic" textLength="20.12" lengthAdjust="spacingAndGlyphs" stroke-width="0.1">Thpo+/+</text>
<g opacity="1">
<line x1="43.3" y1="535.55" x2="59.6" y2="535.55" stroke="#5a9e2f" stroke-width="1.6"/>
<circle cx="51.3" cy="535.55" r="2.3" fill="#5a9e2f"/>
</g>
<text x="63.8" y="537.75" font-size="6" text-anchor="start" fill="#222" font-style="italic" textLength="28.52" lengthAdjust="spacingAndGlyphs" stroke-width="0.1">Thpo+/+ <tspan font-style="italic">Ro</tspan></text>
<g opacity="0.9">
<line x1="43.3" y1="542.6" x2="59.6" y2="542.6" stroke="#1d3b7b" stroke-width="1.6"/>
<circle cx="51.3" cy="542.6" r="2.3" fill="#1d3b7b"/>
</g>
<text x="63.8" y="544.8" font-size="6" text-anchor="start" fill="#222" font-style="italic" textLength="17.4" lengthAdjust="spacingAndGlyphs" stroke-width="0.1">Thpo-/-</text>
<g opacity="0.9">
<line x1="43.3" y1="549.65" x2="59.6" y2="549.65" stroke="#e38e17" stroke-width="1.6"/>
<circle cx="51.3" cy="549.65" r="2.3" fill="#e38e17"/>
</g>
<text x="63.8" y="551.85" font-size="6" text-anchor="start" fill="#222" font-style="italic" textLength="25.81" lengthAdjust="spacingAndGlyphs" stroke-width="0.1">Thpo-/- <tspan font-style="italic">Ro</tspan></text>
<text x="111.5" y="424.3" font-size="12.3" text-anchor="start" fill="#000" font-weight="bold">H</text>
<line x1="148.85" y1="485.42" x2="148.85" y2="477.81" stroke="#5a9e2f" stroke-width="0.9"/>
<line x1="147.45" y1="477.81" x2="150.25" y2="477.81" stroke="#5a9e2f" stroke-width="0.9"/>
<line x1="161.85" y1="508.25" x2="161.85" y2="501.18" stroke="#5a9e2f" stroke-width="0.9"/>
<line x1="160.45" y1="501.18" x2="163.25" y2="501.18" stroke="#5a9e2f" stroke-width="0.9"/>
<line x1="174.75" y1="525.64" x2="174.75" y2="519.66" stroke="#5a9e2f" stroke-width="0.9"/>
<line x1="173.35" y1="519.66" x2="176.15" y2="519.66" stroke="#5a9e2f" stroke-width="0.9"/>
<line x1="187.5" y1="525.64" x2="187.5" y2="520.2" stroke="#5a9e2f" stroke-width="0.9"/>
<line x1="186.1" y1="520.2" x2="188.9" y2="520.2" stroke="#5a9e2f" stroke-width="0.9"/>
<line x1="187.5" y1="496.29" x2="187.5" y2="483.25" stroke="#af0630" stroke-width="0.9"/>
<line x1="186.1" y1="483.25" x2="188.9" y2="483.25" stroke="#af0630" stroke-width="0.9"/>
<line x1="148.85" y1="467.48" x2="148.85" y2="457.16" stroke="#1d3b7b" stroke-width="0.9"/>
<line x1="147.45" y1="457.16" x2="150.25" y2="457.16" stroke="#1d3b7b" stroke-width="0.9"/>
<line x1="148.85" y1="467.48" x2="148.85" y2="477.81" stroke="#1d3b7b" stroke-width="0.9"/>
<line x1="147.45" y1="477.81" x2="150.25" y2="477.81" stroke="#1d3b7b" stroke-width="0.9"/>
<line x1="161.85" y1="472.92" x2="161.85" y2="462.05" stroke="#1d3b7b" stroke-width="0.9"/>
<line x1="160.45" y1="462.05" x2="163.25" y2="462.05" stroke="#1d3b7b" stroke-width="0.9"/>
<line x1="174.75" y1="476.18" x2="174.75" y2="465.31" stroke="#1d3b7b" stroke-width="0.9"/>
<line x1="173.35" y1="465.31" x2="176.15" y2="465.31" stroke="#1d3b7b" stroke-width="0.9"/>
<line x1="174.75" y1="476.18" x2="174.75" y2="486.51" stroke="#1d3b7b" stroke-width="0.9"/>
<line x1="173.35" y1="486.51" x2="176.15" y2="486.51" stroke="#1d3b7b" stroke-width="0.9"/>
<line x1="187.5" y1="469.11" x2="187.5" y2="458.24" stroke="#1d3b7b" stroke-width="0.9"/>
<line x1="186.1" y1="458.24" x2="188.9" y2="458.24" stroke="#1d3b7b" stroke-width="0.9"/>
<line x1="187.5" y1="469.11" x2="187.5" y2="479.44" stroke="#1d3b7b" stroke-width="0.9"/>
<line x1="186.1" y1="479.44" x2="188.9" y2="479.44" stroke="#1d3b7b" stroke-width="0.9"/>
<line x1="174.75" y1="476.18" x2="174.75" y2="469.11" stroke="#e38e17" stroke-width="0.9"/>
<line x1="173.35" y1="469.11" x2="176.15" y2="469.11" stroke="#e38e17" stroke-width="0.9"/>
<polyline points="148.85,485.42 161.85,508.25 174.75,525.64 187.5,525.64" stroke="#5a9e2f" stroke-width="1.5" fill="none" stroke-linejoin="round"/>
<circle cx="148.85" cy="485.42" r="2.55" fill="#5a9e2f"/>
<circle cx="161.85" cy="508.25" r="2.55" fill="#5a9e2f"/>
<circle cx="174.75" cy="525.64" r="2.55" fill="#5a9e2f"/>
<circle cx="187.5" cy="525.64" r="2.55" fill="#5a9e2f"/>
<polyline points="148.85,475.09 161.85,481.61 174.75,493.57 187.5,496.29" stroke="#af0630" stroke-width="1.5" fill="none" stroke-linejoin="round"/>
<circle cx="148.85" cy="475.09" r="2.55" fill="#af0630"/>
<circle cx="161.85" cy="481.61" r="2.55" fill="#af0630"/>
<circle cx="174.75" cy="493.57" r="2.55" fill="#af0630"/>
<circle cx="187.5" cy="496.29" r="2.55" fill="#af0630"/>
<polyline points="148.85,467.48 161.85,472.92 174.75,476.18 187.5,469.11" stroke="#1d3b7b" stroke-width="1.5" fill="none" stroke-linejoin="round"/>
<circle cx="148.85" cy="467.48" r="2.55" fill="#1d3b7b"/>
<circle cx="161.85" cy="472.92" r="2.55" fill="#1d3b7b"/>
<circle cx="174.75" cy="476.18" r="2.55" fill="#1d3b7b"/>
<circle cx="187.5" cy="469.11" r="2.55" fill="#1d3b7b"/>
<polyline points="148.85,469.11 161.85,468.57 174.75,476.18 187.5,470.74" stroke="#e38e17" stroke-width="1.5" fill="none" stroke-linejoin="round"/>
<circle cx="148.85" cy="469.11" r="2.55" fill="#e38e17"/>
<circle cx="161.85" cy="468.57" r="2.55" fill="#e38e17"/>
<circle cx="174.75" cy="476.18" r="2.55" fill="#e38e17"/>
<circle cx="187.5" cy="470.74" r="2.55" fill="#e38e17"/>
<line x1="142.3" y1="442.7" x2="142.3" y2="554.55" stroke="#000" stroke-width="1.35"/>
<line x1="139.6" y1="553.9" x2="142.3" y2="553.9" stroke="#000" stroke-width="0.95"/>
<text x="135.9" y="556.25" font-size="8" text-anchor="end" fill="#1e1e1e" textLength="3.65" lengthAdjust="spacingAndGlyphs" stroke-width="0.1">0</text>
<line x1="139.6" y1="532.16" x2="142.3" y2="532.16" stroke="#000" stroke-width="0.95"/>
<text x="135.9" y="534.51" font-size="8" text-anchor="end" fill="#1e1e1e" textLength="7.29" lengthAdjust="spacingAndGlyphs" stroke-width="0.1">20</text>
<line x1="139.6" y1="510.42" x2="142.3" y2="510.42" stroke="#000" stroke-width="0.95"/>
<text x="135.9" y="512.77" font-size="8" text-anchor="end" fill="#1e1e1e" textLength="7.29" lengthAdjust="spacingAndGlyphs" stroke-width="0.1">40</text>
<line x1="139.6" y1="488.68" x2="142.3" y2="488.68" stroke="#000" stroke-width="0.95"/>
<text x="135.9" y="491.03" font-size="8" text-anchor="end" fill="#1e1e1e" textLength="7.29" lengthAdjust="spacingAndGlyphs" stroke-width="0.1">60</text>
<line x1="139.6" y1="466.94" x2="142.3" y2="466.94" stroke="#000" stroke-width="0.95"/>
<text x="135.9" y="469.29" font-size="8" text-anchor="end" fill="#1e1e1e" textLength="7.29" lengthAdjust="spacingAndGlyphs" stroke-width="0.1">80</text>
<line x1="139.6" y1="445.2" x2="142.3" y2="445.2" stroke="#000" stroke-width="0.95"/>
<text x="135.9" y="447.55" font-size="8" text-anchor="end" fill="#1e1e1e" textLength="10.94" lengthAdjust="spacingAndGlyphs" stroke-width="0.1">100</text>
<line x1="141.65" y1="553.9" x2="196.8" y2="553.9" stroke="#000" stroke-width="1.35"/>
<line x1="142.3" y1="553.9" x2="142.3" y2="556.7" stroke="#000" stroke-width="0.95"/>
<line x1="155.4" y1="553.9" x2="155.4" y2="556.7" stroke="#000" stroke-width="0.95"/>
<line x1="168.3" y1="553.9" x2="168.3" y2="556.7" stroke="#000" stroke-width="0.95"/>
<line x1="181.2" y1="553.9" x2="181.2" y2="556.7" stroke="#000" stroke-width="0.95"/>
<line x1="193.8" y1="553.9" x2="193.8" y2="556.7" stroke="#000" stroke-width="0.95"/>
<polyline points="193.1,463.1 197.5,463.1 197.5,498.1 193.1,498.1" stroke="#262626" stroke-width="1.15" fill="none" stroke-linejoin="round"/>
<text x="194.2" y="459.9" font-size="5.8" text-anchor="middle" fill="#333" stroke="none">ns</text>
<circle cx="160.6" cy="516.5" r="0.95" fill="#1a1a1a"/>
<circle cx="173.7" cy="531.9" r="0.95" fill="#1a1a1a"/>
<circle cx="187.1" cy="535.8" r="0.95" fill="#1a1a1a"/>
<text x="119.1" y="497.6" font-size="8.8" text-anchor="middle" fill="#1e1e1e" textLength="69.7" lengthAdjust="spacingAndGlyphs" transform="rotate(-90 119.1 497.6)">% donor cell (GM cell)</text>
<text x="153.05" y="564.2" font-size="7.5" text-anchor="end" fill="#1e1e1e" textLength="13.3" lengthAdjust="spacingAndGlyphs" transform="rotate(-45 153.05 564.2)">1Mo</text>
<text x="166.05" y="564.2" font-size="7.5" text-anchor="end" fill="#1e1e1e" textLength="13.3" lengthAdjust="spacingAndGlyphs" transform="rotate(-45 166.05 564.2)">2Mo</text>
<text x="178.95" y="564.2" font-size="7.5" text-anchor="end" fill="#1e1e1e" textLength="13.3" lengthAdjust="spacingAndGlyphs" transform="rotate(-45 178.95 564.2)">3Mo</text>
<text x="191.7" y="564.2" font-size="7.5" text-anchor="end" fill="#1e1e1e" textLength="13.3" lengthAdjust="spacingAndGlyphs" transform="rotate(-45 191.7 564.2)">4Mo</text>
<line x1="250.95" y1="513.53" x2="250.95" y2="505.83" stroke="#5a9e2f" stroke-width="0.9"/>
<line x1="249.55" y1="505.83" x2="252.35" y2="505.83" stroke="#5a9e2f" stroke-width="0.9"/>
<line x1="263.75" y1="489.54" x2="263.75" y2="477.78" stroke="#5a9e2f" stroke-width="0.9"/>
<line x1="262.35" y1="477.78" x2="265.15" y2="477.78" stroke="#5a9e2f" stroke-width="0.9"/>
<line x1="276.65" y1="485.02" x2="276.65" y2="478.23" stroke="#5a9e2f" stroke-width="0.9"/>
<line x1="275.25" y1="478.23" x2="278.05" y2="478.23" stroke="#5a9e2f" stroke-width="0.9"/>
<line x1="289.45" y1="486.83" x2="289.45" y2="479.59" stroke="#5a9e2f" stroke-width="0.9"/>
<line x1="288.05" y1="479.59" x2="290.85" y2="479.59" stroke="#5a9e2f" stroke-width="0.9"/>
<line x1="263.75" y1="468.28" x2="263.75" y2="465.11" stroke="#e38e17" stroke-width="0.9"/>
<line x1="262.35" y1="465.11" x2="265.15" y2="465.11" stroke="#e38e17" stroke-width="0.9"/>
<polyline points="250.95,513.53 263.75,489.54 276.65,485.02 289.45,486.83" stroke="#5a9e2f" stroke-width="1.5" fill="none" stroke-linejoin="round"/>
<circle cx="250.95" cy="513.53" r="2.55" fill="#5a9e2f"/>
<circle cx="263.75" cy="489.54" r="2.55" fill="#5a9e2f"/>
<circle cx="276.65" cy="485.02" r="2.55" fill="#5a9e2f"/>
<circle cx="289.45" cy="486.83" r="2.55" fill="#5a9e2f"/>
<polyline points="250.95,469.63 263.75,470.09 276.65,470.54 289.45,472.8" stroke="#1d3b7b" stroke-width="1.5" fill="none" stroke-linejoin="round"/>
<circle cx="250.95" cy="469.63" r="2.55" fill="#1d3b7b"/>
<circle cx="263.75" cy="470.09" r="2.55" fill="#1d3b7b"/>
<circle cx="276.65" cy="470.54" r="2.55" fill="#1d3b7b"/>
<circle cx="289.45" cy="472.8" r="2.55" fill="#1d3b7b"/>
<polyline points="250.95,469.18 263.75,467.37 276.65,467.82 289.45,470.09" stroke="#af0630" stroke-width="1.5" fill="none" stroke-linejoin="round"/>
<circle cx="250.95" cy="469.18" r="2.55" fill="#af0630"/>
<circle cx="263.75" cy="467.37" r="2.55" fill="#af0630"/>
<circle cx="276.65" cy="467.82" r="2.55" fill="#af0630"/>
<circle cx="289.45" cy="470.09" r="2.55" fill="#af0630"/>
<polyline points="250.95,475.52 263.75,468.28 276.65,467.82 289.45,468.73" stroke="#e38e17" stroke-width="1.5" fill="none" stroke-linejoin="round"/>
<circle cx="250.95" cy="475.52" r="2.55" fill="#e38e17"/>
<circle cx="263.75" cy="468.28" r="2.55" fill="#e38e17"/>
<circle cx="276.65" cy="467.82" r="2.55" fill="#e38e17"/>
<circle cx="289.45" cy="468.73" r="2.55" fill="#e38e17"/>
<line x1="244.6" y1="442.3" x2="244.6" y2="554.45" stroke="#000" stroke-width="1.35"/>
<line x1="241.9" y1="553.8" x2="244.6" y2="553.8" stroke="#000" stroke-width="0.95"/>
<text x="238.2" y="556.15" font-size="8" text-anchor="end" fill="#1e1e1e" textLength="3.65" lengthAdjust="spacingAndGlyphs" stroke-width="0.1">0</text>
<line x1="241.9" y1="535.7" x2="244.6" y2="535.7" stroke="#000" stroke-width="0.95"/>
<text x="238.2" y="538.05" font-size="8" text-anchor="end" fill="#1e1e1e" textLength="7.29" lengthAdjust="spacingAndGlyphs" stroke-width="0.1">20</text>
<line x1="241.9" y1="517.6" x2="244.6" y2="517.6" stroke="#000" stroke-width="0.95"/>
<text x="238.2" y="519.95" font-size="8" text-anchor="end" fill="#1e1e1e" textLength="7.29" lengthAdjust="spacingAndGlyphs" stroke-width="0.1">40</text>
<line x1="241.9" y1="499.5" x2="244.6" y2="499.5" stroke="#000" stroke-width="0.95"/>
<text x="238.2" y="501.85" font-size="8" text-anchor="end" fill="#1e1e1e" textLength="7.29" lengthAdjust="spacingAndGlyphs" stroke-width="0.1">60</text>
<line x1="241.9" y1="481.4" x2="244.6" y2="481.4" stroke="#000" stroke-width="0.95"/>
<text x="238.2" y="483.75" font-size="8" text-anchor="end" fill="#1e1e1e" textLength="7.29" lengthAdjust="spacingAndGlyphs" stroke-width="0.1">80</text>
<line x1="241.9" y1="463.3" x2="244.6" y2="463.3" stroke="#000" stroke-width="0.95"/>
<text x="238.2" y="465.65" font-size="8" text-anchor="end" fill="#1e1e1e" textLength="10.94" lengthAdjust="spacingAndGlyphs" stroke-width="0.1">100</text>
<line x1="241.9" y1="445.2" x2="244.6" y2="445.2" stroke="#000" stroke-width="0.95"/>
<text x="238.2" y="447.55" font-size="8" text-anchor="end" fill="#1e1e1e" textLength="10.94" lengthAdjust="spacingAndGlyphs" stroke-width="0.1">120</text>
<line x1="243.95" y1="553.8" x2="298.8" y2="553.8" stroke="#000" stroke-width="1.35"/>
<line x1="244.6" y1="553.8" x2="244.6" y2="556.6" stroke="#000" stroke-width="0.95"/>
<line x1="257.3" y1="553.8" x2="257.3" y2="556.6" stroke="#000" stroke-width="0.95"/>
<line x1="270.2" y1="553.8" x2="270.2" y2="556.6" stroke="#000" stroke-width="0.95"/>
<line x1="283.1" y1="553.8" x2="283.1" y2="556.6" stroke="#000" stroke-width="0.95"/>
<line x1="295.8" y1="553.8" x2="295.8" y2="556.6" stroke="#000" stroke-width="0.95"/>
<polyline points="291.8,464.8 296.2,464.8 296.2,474.6 291.8,474.6" stroke="#262626" stroke-width="1.15" fill="none" stroke-linejoin="round"/>
<text x="294.2" y="459" font-size="6.6" text-anchor="middle" fill="#333" stroke="none">ns</text>
<circle cx="251.5" cy="521" r="0.95" fill="#1a1a1a"/>
<circle cx="264.8" cy="495.6" r="0.95" fill="#1a1a1a"/>
<circle cx="276.5" cy="492.7" r="0.95" fill="#1a1a1a"/>
<circle cx="288.8" cy="494.2" r="0.95" fill="#1a1a1a"/>
<text x="221.3" y="497.6" font-size="8.8" text-anchor="middle" fill="#1e1e1e" textLength="62.3" lengthAdjust="spacingAndGlyphs" transform="rotate(-90 221.3 497.6)">% donor cell (B cell)</text>
<text x="255.15" y="564.1" font-size="7.5" text-anchor="end" fill="#1e1e1e" textLength="13.3" lengthAdjust="spacingAndGlyphs" transform="rotate(-45 255.15 564.1)">1Mo</text>
<text x="267.95" y="564.1" font-size="7.5" text-anchor="end" fill="#1e1e1e" textLength="13.3" lengthAdjust="spacingAndGlyphs" transform="rotate(-45 267.95 564.1)">2Mo</text>
<text x="280.85" y="564.1" font-size="7.5" text-anchor="end" fill="#1e1e1e" textLength="13.3" lengthAdjust="spacingAndGlyphs" transform="rotate(-45 280.85 564.1)">3Mo</text>
<text x="293.65" y="564.1" font-size="7.5" text-anchor="end" fill="#1e1e1e" textLength="13.3" lengthAdjust="spacingAndGlyphs" transform="rotate(-45 293.65 564.1)">4Mo</text>
<line x1="362.3" y1="506.64" x2="362.3" y2="499.71" stroke="#5a9e2f" stroke-width="0.9"/>
<line x1="360.9" y1="499.71" x2="363.7" y2="499.71" stroke="#5a9e2f" stroke-width="0.9"/>
<line x1="375.55" y1="519.93" x2="375.55" y2="513.58" stroke="#5a9e2f" stroke-width="0.9"/>
<line x1="374.15" y1="513.58" x2="376.95" y2="513.58" stroke="#5a9e2f" stroke-width="0.9"/>
<line x1="389.05" y1="514.15" x2="389.05" y2="506.64" stroke="#5a9e2f" stroke-width="0.9"/>
<line x1="387.65" y1="506.64" x2="390.45" y2="506.64" stroke="#5a9e2f" stroke-width="0.9"/>
<line x1="349.05" y1="529.75" x2="349.05" y2="519.35" stroke="#3a2a2e" stroke-width="0.9"/>
<line x1="347.65" y1="519.35" x2="350.45" y2="519.35" stroke="#3a2a2e" stroke-width="0.9"/>
<line x1="375.55" y1="476.62" x2="375.55" y2="469.69" stroke="#3a2a2e" stroke-width="0.9"/>
<line x1="374.15" y1="469.69" x2="376.95" y2="469.69" stroke="#3a2a2e" stroke-width="0.9"/>
<line x1="389.05" y1="478.93" x2="389.05" y2="469.69" stroke="#3a2a2e" stroke-width="0.9"/>
<line x1="387.65" y1="469.69" x2="390.45" y2="469.69" stroke="#3a2a2e" stroke-width="0.9"/>
<line x1="362.3" y1="469.69" x2="362.3" y2="465.06" stroke="#e38e17" stroke-width="0.9"/>
<line x1="360.9" y1="465.06" x2="363.7" y2="465.06" stroke="#e38e17" stroke-width="0.9"/>
<polyline points="349.05,547.07 362.3,506.64 375.55,519.93 389.05,514.15" stroke="#5a9e2f" stroke-width="1.5" fill="none" stroke-linejoin="round"/>
<circle cx="349.05" cy="547.07" r="2.55" fill="#5a9e2f"/>
<circle cx="362.3" cy="506.64" r="2.55" fill="#5a9e2f"/>
<circle cx="375.55" cy="519.93" r="2.55" fill="#5a9e2f"/>
<circle cx="389.05" cy="514.15" r="2.55" fill="#5a9e2f"/>
<polyline points="349.05,541.29 362.3,473.73 375.55,493.94 389.05,488.16" stroke="#1d3b7b" stroke-width="1.5" fill="none" stroke-linejoin="round"/>
<circle cx="349.05" cy="541.29" r="2.55" fill="#1d3b7b"/>
<circle cx="362.3" cy="473.73" r="2.55" fill="#1d3b7b"/>
<circle cx="375.55" cy="493.94" r="2.55" fill="#1d3b7b"/>
<circle cx="389.05" cy="488.16" r="2.55" fill="#1d3b7b"/>
<polyline points="349.05,529.75 362.3,473.15 375.55,476.62 389.05,478.93" stroke="#af0630" stroke-width="1.5" fill="none" stroke-linejoin="round"/>
<circle cx="349.05" cy="529.75" r="2.55" fill="#af0630"/>
<circle cx="362.3" cy="473.15" r="2.55" fill="#af0630"/>
<circle cx="375.55" cy="476.62" r="2.55" fill="#af0630"/>
<circle cx="389.05" cy="478.93" r="2.55" fill="#af0630"/>
<polyline points="349.05,536.1 362.3,469.69 375.55,485.28 389.05,480.08" stroke="#e38e17" stroke-width="1.5" fill="none" stroke-linejoin="round"/>
<circle cx="349.05" cy="536.1" r="2.55" fill="#e38e17"/>
<circle cx="362.3" cy="469.69" r="2.55" fill="#e38e17"/>
<circle cx="375.55" cy="485.28" r="2.55" fill="#e38e17"/>
<circle cx="389.05" cy="480.08" r="2.55" fill="#e38e17"/>
<line x1="342.3" y1="447.1" x2="342.3" y2="554.65" stroke="#000" stroke-width="1.35"/>
<line x1="339.6" y1="554" x2="342.3" y2="554" stroke="#000" stroke-width="0.95"/>
<text x="335.9" y="556.35" font-size="8" text-anchor="end" fill="#1e1e1e" textLength="3.65" lengthAdjust="spacingAndGlyphs" stroke-width="0.1">0</text>
<line x1="339.6" y1="542.45" x2="342.3" y2="542.45" stroke="#000" stroke-width="0.95"/>
<text x="335.9" y="544.8" font-size="8" text-anchor="end" fill="#1e1e1e" textLength="7.29" lengthAdjust="spacingAndGlyphs" stroke-width="0.1">10</text>
<line x1="339.6" y1="530.9" x2="342.3" y2="530.9" stroke="#000" stroke-width="0.95"/>
<text x="335.9" y="533.25" font-size="8" text-anchor="end" fill="#1e1e1e" textLength="7.29" lengthAdjust="spacingAndGlyphs" stroke-width="0.1">20</text>
<line x1="339.6" y1="519.35" x2="342.3" y2="519.35" stroke="#000" stroke-width="0.95"/>
<text x="335.9" y="521.7" font-size="8" text-anchor="end" fill="#1e1e1e" textLength="7.29" lengthAdjust="spacingAndGlyphs" stroke-width="0.1">30</text>
<line x1="339.6" y1="507.8" x2="342.3" y2="507.8" stroke="#000" stroke-width="0.95"/>
<text x="335.9" y="510.15" font-size="8" text-anchor="end" fill="#1e1e1e" textLength="7.29" lengthAdjust="spacingAndGlyphs" stroke-width="0.1">40</text>
<line x1="339.6" y1="496.25" x2="342.3" y2="496.25" stroke="#000" stroke-width="0.95"/>
<text x="335.9" y="498.6" font-size="8" text-anchor="end" fill="#1e1e1e" textLength="7.29" lengthAdjust="spacingAndGlyphs" stroke-width="0.1">50</text>
<line x1="339.6" y1="484.7" x2="342.3" y2="484.7" stroke="#000" stroke-width="0.95"/>
<text x="335.9" y="487.05" font-size="8" text-anchor="end" fill="#1e1e1e" textLength="7.29" lengthAdjust="spacingAndGlyphs" stroke-width="0.1">60</text>
<line x1="339.6" y1="473.15" x2="342.3" y2="473.15" stroke="#000" stroke-width="0.95"/>
<text x="335.9" y="475.5" font-size="8" text-anchor="end" fill="#1e1e1e" textLength="7.29" lengthAdjust="spacingAndGlyphs" stroke-width="0.1">70</text>
<line x1="339.6" y1="461.6" x2="342.3" y2="461.6" stroke="#000" stroke-width="0.95"/>
<text x="335.9" y="463.95" font-size="8" text-anchor="end" fill="#1e1e1e" textLength="7.29" lengthAdjust="spacingAndGlyphs" stroke-width="0.1">80</text>
<line x1="339.6" y1="450.05" x2="342.3" y2="450.05" stroke="#000" stroke-width="0.95"/>
<text x="335.9" y="452.4" font-size="8" text-anchor="end" fill="#1e1e1e" textLength="7.29" lengthAdjust="spacingAndGlyphs" stroke-width="0.1">90</text>
<line x1="341.65" y1="554" x2="398.8" y2="554" stroke="#000" stroke-width="1.35"/>
<line x1="342.3" y1="554" x2="342.3" y2="556.8" stroke="#000" stroke-width="0.95"/>
<line x1="355.8" y1="554" x2="355.8" y2="556.8" stroke="#000" stroke-width="0.95"/>
<line x1="368.8" y1="554" x2="368.8" y2="556.8" stroke="#000" stroke-width="0.95"/>
<line x1="382.3" y1="554" x2="382.3" y2="556.8" stroke="#000" stroke-width="0.95"/>
<line x1="395.8" y1="554" x2="395.8" y2="556.8" stroke="#000" stroke-width="0.95"/>
<polyline points="393.7,472.1 398.1,472.1 398.1,489.4 393.7,489.4" stroke="#262626" stroke-width="1.15" fill="none" stroke-linejoin="round"/>
<text x="395.2" y="468.3" font-size="6" text-anchor="middle" fill="#444" font-style="italic" stroke="none">ns</text>
<circle cx="362.9" cy="516" r="0.95" fill="#1a1a1a"/>
<circle cx="374.6" cy="525.8" r="0.95" fill="#1a1a1a"/>
<circle cx="387.9" cy="521" r="0.95" fill="#1a1a1a"/>
<text x="322.3" y="502.1" font-size="8.8" text-anchor="middle" fill="#1e1e1e" textLength="65.9" lengthAdjust="spacingAndGlyphs" transform="rotate(-90 322.3 502.1)">% donor cell (T cell)</text>
<text x="353.25" y="564.3" font-size="7.5" text-anchor="end" fill="#1e1e1e" textLength="13.3" lengthAdjust="spacingAndGlyphs" transform="rotate(-45 353.25 564.3)">1Mo</text>
<text x="366.5" y="564.3" font-size="7.5" text-anchor="end" fill="#1e1e1e" textLength="13.3" lengthAdjust="spacingAndGlyphs" transform="rotate(-45 366.5 564.3)">2Mo</text>
<text x="379.75" y="564.3" font-size="7.5" text-anchor="end" fill="#1e1e1e" textLength="13.3" lengthAdjust="spacingAndGlyphs" transform="rotate(-45 379.75 564.3)">3Mo</text>
<text x="393.25" y="564.3" font-size="7.5" text-anchor="end" fill="#1e1e1e" textLength="13.3" lengthAdjust="spacingAndGlyphs" transform="rotate(-45 393.25 564.3)">4Mo</text>
<rect x="415.9" y="416.9" width="2.1" height="8.7" fill="#000"/>
<line x1="442.3" y1="446.5" x2="442.3" y2="554.95" stroke="#000" stroke-width="1.35"/>
<line x1="439.6" y1="554.3" x2="442.3" y2="554.3" stroke="#000" stroke-width="0.95"/>
<text x="435.9" y="556.65" font-size="8" text-anchor="end" fill="#1e1e1e" textLength="3.65" lengthAdjust="spacingAndGlyphs" stroke-width="0.1">0</text>
<line x1="439.6" y1="541.18" x2="442.3" y2="541.18" stroke="#000" stroke-width="0.95"/>
<text x="435.9" y="543.53" font-size="8" text-anchor="end" fill="#1e1e1e" textLength="7.29" lengthAdjust="spacingAndGlyphs" stroke-width="0.1">10</text>
<line x1="439.6" y1="528.06" x2="442.3" y2="528.06" stroke="#000" stroke-width="0.95"/>
<text x="435.9" y="530.41" font-size="8" text-anchor="end" fill="#1e1e1e" textLength="7.29" lengthAdjust="spacingAndGlyphs" stroke-width="0.1">20</text>
<line x1="439.6" y1="514.94" x2="442.3" y2="514.94" stroke="#000" stroke-width="0.95"/>
<text x="435.9" y="517.29" font-size="8" text-anchor="end" fill="#1e1e1e" textLength="7.29" lengthAdjust="spacingAndGlyphs" stroke-width="0.1">30</text>
<line x1="439.6" y1="501.82" x2="442.3" y2="501.82" stroke="#000" stroke-width="0.95"/>
<text x="435.9" y="504.17" font-size="8" text-anchor="end" fill="#1e1e1e" textLength="7.29" lengthAdjust="spacingAndGlyphs" stroke-width="0.1">40</text>
<line x1="439.6" y1="488.7" x2="442.3" y2="488.7" stroke="#000" stroke-width="0.95"/>
<text x="435.9" y="491.05" font-size="8" text-anchor="end" fill="#1e1e1e" textLength="7.29" lengthAdjust="spacingAndGlyphs" stroke-width="0.1">50</text>
<line x1="439.6" y1="475.58" x2="442.3" y2="475.58" stroke="#000" stroke-width="0.95"/>
<text x="435.9" y="477.93" font-size="8" text-anchor="end" fill="#1e1e1e" textLength="7.29" lengthAdjust="spacingAndGlyphs" stroke-width="0.1">60</text>
<line x1="439.6" y1="462.46" x2="442.3" y2="462.46" stroke="#000" stroke-width="0.95"/>
<text x="435.9" y="464.81" font-size="8" text-anchor="end" fill="#1e1e1e" textLength="7.29" lengthAdjust="spacingAndGlyphs" stroke-width="0.1">70</text>
<line x1="439.6" y1="449.34" x2="442.3" y2="449.34" stroke="#000" stroke-width="0.95"/>
<text x="435.9" y="451.69" font-size="8" text-anchor="end" fill="#1e1e1e" textLength="7.29" lengthAdjust="spacingAndGlyphs" stroke-width="0.1">80</text>
<line x1="441.65" y1="554.3" x2="512.4" y2="554.3" stroke="#000" stroke-width="1.35"/>
<text x="423.1" y="500" font-size="8.8" text-anchor="middle" fill="#1e1e1e" textLength="42.8" lengthAdjust="spacingAndGlyphs" transform="rotate(-90 423.1 500)">% donor cells</text>
<polyline points="451.2,441.5 451.2,436.9 508.4,436.9 508.4,441.5" stroke="#2a2a2a" stroke-width="1.1" fill="none" stroke-linejoin="round"/>
<circle cx="479.05" cy="433.6" r="0.8" fill="#111"/>
<circle cx="481.75" cy="433.6" r="0.8" fill="#111"/>
<polyline points="451.2,450.2 451.2,445.2 469.4,445.2 469.4,450.2" stroke="#2a2a2a" stroke-width="1.1" fill="none" stroke-linejoin="round"/>
<circle cx="459.95" cy="442.3" r="0.8" fill="#111"/>
<circle cx="462.65" cy="442.3" r="0.8" fill="#111"/>
<polyline points="491,450.2 491,445.2 508.4,445.2 508.4,450.2" stroke="#2a2a2a" stroke-width="1.1" fill="none" stroke-linejoin="round"/>
<circle cx="499.05" cy="442.5" r="0.8" fill="#111"/>
<circle cx="501.75" cy="442.5" r="0.8" fill="#111"/>
<line x1="453.9" y1="459.84" x2="453.9" y2="507.72" stroke="#000" stroke-width="1"/>
<line x1="453" y1="459.84" x2="454.8" y2="459.84" stroke="#000" stroke-width="1"/>
<line x1="453" y1="507.72" x2="454.8" y2="507.72" stroke="#000" stroke-width="1"/>
<line x1="471.9" y1="509.04" x2="471.9" y2="533.96" stroke="#000" stroke-width="1"/>
<line x1="471" y1="509.04" x2="472.8" y2="509.04" stroke="#000" stroke-width="1"/>
<line x1="471" y1="533.96" x2="472.8" y2="533.96" stroke="#000" stroke-width="1"/>
<line x1="488.9" y1="470.33" x2="488.9" y2="501.82" stroke="#000" stroke-width="1"/>
<line x1="488" y1="470.33" x2="489.8" y2="470.33" stroke="#000" stroke-width="1"/>
<line x1="488" y1="501.82" x2="489.8" y2="501.82" stroke="#000" stroke-width="1"/>
<line x1="506.9" y1="465.08" x2="506.9" y2="483.45" stroke="#000" stroke-width="1"/>
<line x1="506" y1="465.08" x2="507.8" y2="465.08" stroke="#000" stroke-width="1"/>
<line x1="506" y1="483.45" x2="507.8" y2="483.45" stroke="#000" stroke-width="1"/>
<polygon points="450.8,455.47 453.3,460.42 448.3,460.42" fill="#af0630" stroke="#000" stroke-width="0.95" stroke-linejoin="miter"/>
<polygon points="450.8,462.03 453.3,466.98 448.3,466.98" fill="#af0630" stroke="#000" stroke-width="0.95" stroke-linejoin="miter"/>
<polygon points="450.8,464.66 453.3,469.61 448.3,469.61" fill="#af0630" stroke="#000" stroke-width="0.95" stroke-linejoin="miter"/>
<polygon points="450.8,493.52 453.3,498.47 448.3,498.47" fill="#af0630" stroke="#000" stroke-width="0.95" stroke-linejoin="miter"/>
<polygon points="450.8,501.39 453.3,506.34 448.3,506.34" fill="#af0630" stroke="#000" stroke-width="0.95" stroke-linejoin="miter"/>
<polygon points="450.8,511.89 453.3,516.84 448.3,516.84" fill="#af0630" stroke="#000" stroke-width="0.95" stroke-linejoin="miter"/>
<polygon points="468.1,506.64 470.6,511.59 465.6,511.59" fill="#5a9e2f" stroke="#000" stroke-width="0.95" stroke-linejoin="miter"/>
<polygon points="468.1,511.89 470.6,516.84 465.6,516.84" fill="#5a9e2f" stroke="#000" stroke-width="0.95" stroke-linejoin="miter"/>
<polygon points="468.1,512.55 470.6,517.5 465.6,517.5" fill="#5a9e2f" stroke="#000" stroke-width="0.95" stroke-linejoin="miter"/>
<polygon points="468.1,526.58 470.6,531.53 465.6,531.53" fill="#5a9e2f" stroke="#000" stroke-width="0.95" stroke-linejoin="miter"/>
<polygon points="468.1,537.21 470.6,542.16 465.6,542.16" fill="#5a9e2f" stroke="#000" stroke-width="0.95" stroke-linejoin="miter"/>
<polygon points="486.3,472.53 488.8,477.48 483.8,477.48" fill="#1d3b7b" stroke="#000" stroke-width="0.95" stroke-linejoin="miter"/>
<polygon points="486.3,475.15 488.8,480.1 483.8,480.1" fill="#1d3b7b" stroke="#000" stroke-width="0.95" stroke-linejoin="miter"/>
<polygon points="486.3,479.09 488.8,484.04 483.8,484.04" fill="#1d3b7b" stroke="#000" stroke-width="0.95" stroke-linejoin="miter"/>
<polygon points="486.3,510.58 488.8,515.53 483.8,515.53" fill="#1d3b7b" stroke="#000" stroke-width="0.95" stroke-linejoin="miter"/>
<polygon points="503.7,459.41 506.2,464.36 501.2,464.36" fill="#e38e17" stroke="#000" stroke-width="0.95" stroke-linejoin="miter"/>
<polygon points="503.7,464.66 506.2,469.61 501.2,469.61" fill="#e38e17" stroke="#000" stroke-width="0.95" stroke-linejoin="miter"/>
<polygon points="503.7,468.59 506.2,473.54 501.2,473.54" fill="#e38e17" stroke="#000" stroke-width="0.95" stroke-linejoin="miter"/>
<polygon points="503.7,472.53 506.2,477.48 501.2,477.48" fill="#e38e17" stroke="#000" stroke-width="0.95" stroke-linejoin="miter"/>
<polygon points="503.7,476.47 506.2,481.42 501.2,481.42" fill="#e38e17" stroke="#000" stroke-width="0.95" stroke-linejoin="miter"/>
<polygon points="503.7,479.09 506.2,484.04 501.2,484.04" fill="#e38e17" stroke="#000" stroke-width="0.95" stroke-linejoin="miter"/>
<text x="457.3" y="562.6" font-size="7.2" text-anchor="end" fill="#1e1e1e" transform="rotate(-45 457.3 562.6)">Thpo+/+</text>
<text x="473.8" y="562.6" font-size="7.2" text-anchor="end" fill="#1e1e1e" transform="rotate(-45 473.8 562.6)">Thpo+/+ Ro</text>
<text x="490.6" y="562.6" font-size="7.2" text-anchor="end" fill="#1e1e1e" transform="rotate(-45 490.6 562.6)">Thpo-/-</text>
<text x="509.2" y="562.6" font-size="7.2" text-anchor="end" fill="#1e1e1e" transform="rotate(-45 509.2 562.6)">Thpo-/- Ro</text>
</svg></body></html>
